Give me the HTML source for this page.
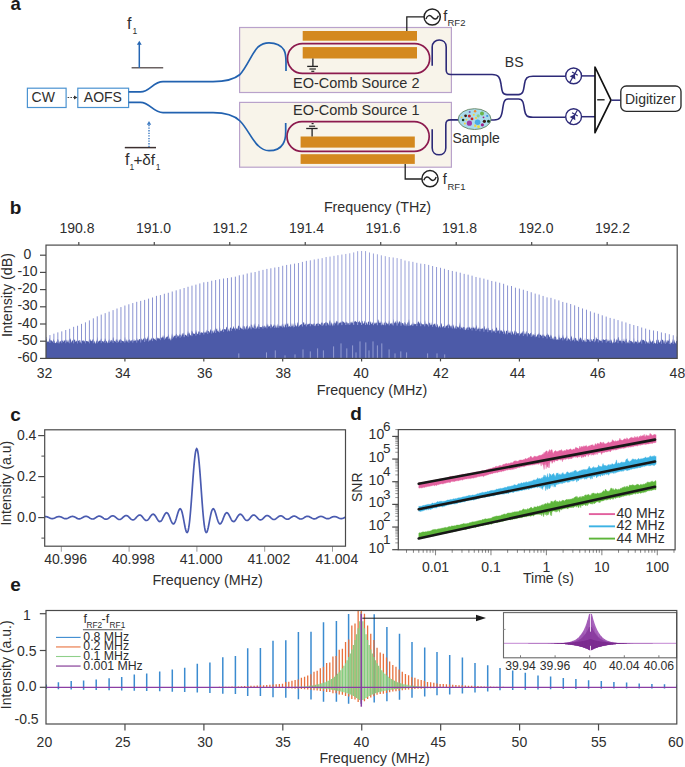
<!DOCTYPE html>
<html><head><meta charset="utf-8"><style>
html,body{margin:0;padding:0;background:#fff;}
svg{display:block;font-family:"Liberation Sans", sans-serif;}
</style></head><body>
<svg width="685" height="767" viewBox="0 0 685 767">
<rect width="685" height="767" fill="#fff"/>
<text x="10.4" y="9.8" font-size="18.5" font-weight="bold" fill="#1a1a1a">a</text>
<text x="127" y="28.8" font-size="16" fill="#2e2e2e">f</text>
<text x="132.6" y="33.9" font-size="8.5" fill="#2e2e2e">1</text>
<line x1="131.6" y1="67.8" x2="163.2" y2="67.8" stroke="#6b6262" stroke-width="1.6"/>
<line x1="139.3" y1="67.8" x2="139.3" y2="44" stroke="#2566b3" stroke-width="1.5"/>
<path d="M136.9,44.8 L139.3,40.8 L141.7,44.8 Z" fill="#2566b3"/>
<line x1="124.8" y1="147.6" x2="156" y2="147.6" stroke="#3c3030" stroke-width="1.5"/>
<line x1="149" y1="147" x2="149" y2="124" stroke="#3a78c0" stroke-width="1.4" stroke-dasharray="1.3,1.3"/>
<path d="M146.8,124.8 L149,120.9 L151.2,124.8 Z" fill="#3a78c0"/>
<text x="125" y="165" font-size="16" fill="#2e2e2e">f</text>
<text x="129.6" y="170.4" font-size="8.5" fill="#2e2e2e">1</text>
<text x="133.4" y="165" font-size="15.3" fill="#2e2e2e">+&#948;f</text>
<text x="155.7" y="170.4" font-size="8.5" fill="#2e2e2e">1</text>
<rect x="27.4" y="88.2" width="38.7" height="19.3" fill="none" stroke="#4b93d1" stroke-width="1.2"/>
<rect x="77.8" y="88.2" width="50.8" height="19.3" fill="none" stroke="#4b93d1" stroke-width="1.2"/>
<text x="31.6" y="102.3" font-size="14" fill="#2e2e2e">CW</text>
<text x="83.8" y="102.3" font-size="14" fill="#2e2e2e">AOFS</text>
<line x1="67.6" y1="97.5" x2="74.5" y2="97.5" stroke="#444" stroke-width="1.0" stroke-dasharray="1.6,1.2"/>
<path d="M74.0,95.6 L77.4,97.5 L74.0,99.4 Z" fill="#333"/>
<rect x="239.6" y="27.5" width="211.8" height="65" fill="#f8f4ea" stroke="#b9a2cb" stroke-width="1.2"/>
<rect x="239.6" y="102.4" width="211.8" height="64.8" fill="#f8f4ea" stroke="#b9a2cb" stroke-width="1.2"/>
<path d="M128.6,91.9 L140.5,91.9 C150,91.9 153,81.6 163,81.6 L213,81.6 C226,81.6 234,79.5 240,74.5 C247,67 252,53 258,47 C262,43.5 265,42.8 269,42.8 C277,42.8 281,45 284,50 C286,54 286,58 286,62 L286,71" fill="none" stroke="#2262b0" stroke-width="1.7"/>
<path d="M128.6,102.4 L140.5,102.4 C150,102.4 153,112.6 163,112.6 L213,112.6 C226,112.6 234,115 240,121 C247,128 252,140 258,145.5 C262,149.5 265,150.7 269,150.7 C276,150.7 280,149 283,144 C285.5,140 285.7,136 285.7,132 L285.7,123" fill="none" stroke="#2262b0" stroke-width="1.7"/>
<rect x="302.7" y="31.0" width="114.3" height="9.7" fill="#d4891f"/>
<rect x="302.7" y="47.1" width="114.3" height="11.4" fill="#d4891f"/>
<rect x="300.6" y="136.5" width="114.2" height="11.1" fill="#d4891f"/>
<rect x="300.6" y="154.2" width="114.2" height="9.7" fill="#d4891f"/>
<rect x="287.5" y="43.6" width="142.2" height="29.8" rx="14.9" fill="none" stroke="#8c1a4e" stroke-width="1.7"/>
<rect x="287.0" y="121.6" width="142.2" height="29.8" rx="14.9" fill="none" stroke="#8c1a4e" stroke-width="1.7"/>
<line x1="312.9" y1="58.5" x2="312.9" y2="66.4" stroke="#222" stroke-width="1.3"/>
<line x1="307.2" y1="66.4" x2="318" y2="66.4" stroke="#222" stroke-width="1.3"/>
<line x1="309.4" y1="69" x2="315.9" y2="69" stroke="#222" stroke-width="1.2"/>
<line x1="311.3" y1="71.3" x2="314.3" y2="71.3" stroke="#222" stroke-width="1.2"/>
<line x1="312.1" y1="128.5" x2="312.1" y2="136.5" stroke="#222" stroke-width="1.3"/>
<line x1="306.2" y1="128.5" x2="317.6" y2="128.5" stroke="#222" stroke-width="1.3"/>
<line x1="309.1" y1="126.2" x2="315.1" y2="126.2" stroke="#222" stroke-width="1.2"/>
<line x1="311.6" y1="123.6" x2="313.6" y2="123.6" stroke="#222" stroke-width="1.2"/>
<text x="293" y="88.3" font-size="14.5" fill="#2e2e2e">EO-Comb Source 2</text>
<text x="293" y="114.8" font-size="14.5" fill="#2e2e2e">EO-Comb Source 1</text>
<path d="M406.8,31 L406.8,16.8 L424,16.8" fill="none" stroke="#222" stroke-width="1.3"/>
<circle cx="432.2" cy="17.0" r="8.1" fill="none" stroke="#222" stroke-width="1.5"/>
<path d="M426.0,18.9 C427.4,15.0 430.0,14.6 432.2,17.3 C434.4,20.0 437.0,19.6 438.4,15.7" fill="none" stroke="#222" stroke-width="1.4"/>
<text x="443.3" y="20.8" font-size="14.5" fill="#2e2e2e">f</text>
<text x="447.5" y="26.3" font-size="9.5" fill="#2e2e2e">RF2</text>
<path d="M405.2,164 L405.2,179.0 L421.8,179.0" fill="none" stroke="#222" stroke-width="1.3"/>
<circle cx="430.0" cy="178.7" r="8.1" fill="none" stroke="#222" stroke-width="1.5"/>
<path d="M423.8,180.3 C425.2,176.4 427.8,176.0 430.0,178.7 C432.2,181.4 434.8,181.0 436.2,177.1" fill="none" stroke="#222" stroke-width="1.4"/>
<text x="442.8" y="183.6" font-size="14.5" fill="#2e2e2e">f</text>
<text x="447.5" y="190.4" font-size="9.5" fill="#2e2e2e">RF1</text>
<path d="M432.2,65.7 L432.2,47 C432.2,42.5 435.5,40 439.2,40 C443,40 446.2,42.5 446.2,47 L446.2,70 C446.2,73.5 447.5,74.5 451,74.5 L492,74.5 C499,74.5 500,78 501,84 C502,91 502,94.6 507,94.6 L518.5,94.6 C523.5,94.6 523.5,90 524.5,84 C525.5,78 527,76.2 533,76.2 L565.6,76.2" fill="none" stroke="#2d2a78" stroke-width="1.6"/>
<path d="M432.2,129.2 L432.2,148 C432.2,152.5 435.5,154.8 439,154.8 C442.5,154.8 445.8,152.5 445.8,148 L445.8,125 C445.8,121 447,119.9 451,119.9 L459,119.9" fill="none" stroke="#2d2a78" stroke-width="1.6"/>
<path d="M491,120 L494,120 C500,120 501.5,117 502.5,110 C503.5,103 504,99 508,99 L518.5,99 C523,99 523.5,103 524.5,110 C525.5,116 527,117.2 533,117.2 L565.6,117.2" fill="none" stroke="#2d2a78" stroke-width="1.6"/>
<ellipse cx="474.6" cy="119.1" rx="16.4" ry="10.4" fill="#aadcec" stroke="#6f8e70" stroke-width="1"/>
<circle cx="469.7" cy="112.1" r="1.0" fill="#7a55b0"/>
<circle cx="475.1" cy="111.2" r="1.2" fill="#f08a30"/>
<circle cx="482.0" cy="113.4" r="2.0" fill="#6ab54a"/>
<circle cx="465.6" cy="115.8" r="1.4" fill="#3a1a10"/>
<circle cx="469.4" cy="116.0" r="1.5" fill="#c8202a"/>
<circle cx="473.8" cy="114.7" r="1.0" fill="#f5d040"/>
<circle cx="478.2" cy="115.8" r="1.6" fill="#8fd08a"/>
<circle cx="461.6" cy="117.3" r="0.9" fill="#f5d040"/>
<circle cx="472.0" cy="118.9" r="1.4" fill="#c8202a"/>
<circle cx="476.0" cy="118.0" r="1.1" fill="#f5d040"/>
<circle cx="483.5" cy="117.3" r="0.9" fill="#a02080"/>
<circle cx="487.2" cy="116.0" r="1.1" fill="#3a90e0"/>
<circle cx="463.1" cy="120.0" r="1.3" fill="#153a20"/>
<circle cx="466.5" cy="119.7" r="0.9" fill="#f5d040"/>
<circle cx="469.4" cy="123.2" r="2.6" fill="#a03aa8"/>
<circle cx="477.6" cy="122.2" r="2.8" fill="#4aaae8"/>
<circle cx="484.4" cy="121.3" r="1.6" fill="#3a1a10"/>
<circle cx="488.5" cy="121.3" r="1.5" fill="#1a3a20"/>
<circle cx="464.9" cy="123.5" r="1.0" fill="#f5d040"/>
<circle cx="475.2" cy="125.7" r="1.2" fill="#f5d040"/>
<circle cx="478.5" cy="126.7" r="1.4" fill="#e8e040"/>
<circle cx="482.4" cy="124.8" r="1.6" fill="#a0208a"/>
<text x="452.4" y="143.3" font-size="14" fill="#2e2e2e">Sample</text>
<text x="504.8" y="66.9" font-size="14" fill="#2e2e2e">BS</text>
<circle cx="573.6" cy="75.9" r="7.9" fill="#fff" stroke="#2d2a78" stroke-width="1.4"/>
<g transform="translate(573.6,75.9) rotate(30)">
<line x1="0" y1="-7.5" x2="0" y2="7.5" stroke="#2d2a78" stroke-width="1.2"/>
<path d="M-3.3,2.2 L3.3,2.2 L0,-2.6 Z" fill="#2d2a78"/>
<line x1="-3.3" y1="-2.6" x2="3.3" y2="-2.6" stroke="#2d2a78" stroke-width="1.2"/>
</g>
<line x1="581.5" y1="75.9" x2="595" y2="75.9" stroke="#2d2a78" stroke-width="1.5"/>
<circle cx="573.6" cy="116.7" r="7.9" fill="#fff" stroke="#2d2a78" stroke-width="1.4"/>
<g transform="translate(573.6,116.7) rotate(30)">
<line x1="0" y1="-7.5" x2="0" y2="7.5" stroke="#2d2a78" stroke-width="1.2"/>
<path d="M-3.3,2.2 L3.3,2.2 L0,-2.6 Z" fill="#2d2a78"/>
<line x1="-3.3" y1="-2.6" x2="3.3" y2="-2.6" stroke="#2d2a78" stroke-width="1.2"/>
</g>
<line x1="581.5" y1="116.7" x2="595" y2="116.7" stroke="#2d2a78" stroke-width="1.5"/>
<path d="M595,67 L611,100.2 L595,132.7 Z" fill="#fff" stroke="#111" stroke-width="1.7" stroke-linejoin="round"/>
<line x1="597.2" y1="99.8" x2="604.6" y2="99.8" stroke="#111" stroke-width="1.3"/>
<line x1="611.5" y1="100.2" x2="620.5" y2="100.2" stroke="#2d2a78" stroke-width="1.5"/>
<rect x="620.8" y="86.0" width="60.2" height="25.4" rx="5.5" fill="#fff" stroke="#2a2a2a" stroke-width="1.35"/>
<text x="625" y="104.1" font-size="14" fill="#2e2e2e">Digitizer</text>
<text x="9.7" y="214.4" font-size="19" font-weight="bold" fill="#1a1a1a">b</text>
<text x="377.5" y="212.2" font-size="14.3" text-anchor="middle" fill="#2e2e2e">Frequency (THz)</text>
<text x="372" y="395.4" font-size="14.3" text-anchor="middle" fill="#2e2e2e">Frequency (MHz)</text>
<text x="77" y="233.4" font-size="14" text-anchor="middle" fill="#2e2e2e">190.8</text>
<line x1="78.8" y1="245.1" x2="78.8" y2="241.9" stroke="#4a4a4a" stroke-width="1.2"/>
<text x="153.5" y="233.4" font-size="14" text-anchor="middle" fill="#2e2e2e">191.0</text>
<line x1="154.28" y1="245.1" x2="154.28" y2="241.9" stroke="#4a4a4a" stroke-width="1.2"/>
<text x="230" y="233.4" font-size="14" text-anchor="middle" fill="#2e2e2e">191.2</text>
<line x1="229.76" y1="245.1" x2="229.76" y2="241.9" stroke="#4a4a4a" stroke-width="1.2"/>
<text x="306.5" y="233.4" font-size="14" text-anchor="middle" fill="#2e2e2e">191.4</text>
<line x1="305.24" y1="245.1" x2="305.24" y2="241.9" stroke="#4a4a4a" stroke-width="1.2"/>
<text x="383" y="233.4" font-size="14" text-anchor="middle" fill="#2e2e2e">191.6</text>
<line x1="380.72" y1="245.1" x2="380.72" y2="241.9" stroke="#4a4a4a" stroke-width="1.2"/>
<text x="459.5" y="233.4" font-size="14" text-anchor="middle" fill="#2e2e2e">191.8</text>
<line x1="456.2" y1="245.1" x2="456.2" y2="241.9" stroke="#4a4a4a" stroke-width="1.2"/>
<text x="536" y="233.4" font-size="14" text-anchor="middle" fill="#2e2e2e">192.0</text>
<line x1="531.68" y1="245.1" x2="531.68" y2="241.9" stroke="#4a4a4a" stroke-width="1.2"/>
<text x="612.5" y="233.4" font-size="14" text-anchor="middle" fill="#2e2e2e">192.2</text>
<line x1="607.16" y1="245.1" x2="607.16" y2="241.9" stroke="#4a4a4a" stroke-width="1.2"/>
<text x="44.5" y="377.5" font-size="14" text-anchor="middle" fill="#2e2e2e">32</text>
<text x="122.7" y="377.5" font-size="14" text-anchor="middle" fill="#2e2e2e">34</text>
<line x1="124.9" y1="358.4" x2="124.9" y2="361.4" stroke="#4a4a4a" stroke-width="1.2"/>
<text x="204.8" y="377.5" font-size="14" text-anchor="middle" fill="#2e2e2e">36</text>
<line x1="203.8" y1="358.4" x2="203.8" y2="361.4" stroke="#4a4a4a" stroke-width="1.2"/>
<text x="283.2" y="377.5" font-size="14" text-anchor="middle" fill="#2e2e2e">38</text>
<line x1="282.7" y1="358.4" x2="282.7" y2="361.4" stroke="#4a4a4a" stroke-width="1.2"/>
<text x="361" y="377.5" font-size="14" text-anchor="middle" fill="#2e2e2e">40</text>
<line x1="361.6" y1="358.4" x2="361.6" y2="361.4" stroke="#4a4a4a" stroke-width="1.2"/>
<text x="440.9" y="377.5" font-size="14" text-anchor="middle" fill="#2e2e2e">42</text>
<line x1="440.5" y1="358.4" x2="440.5" y2="361.4" stroke="#4a4a4a" stroke-width="1.2"/>
<text x="517.6" y="377.5" font-size="14" text-anchor="middle" fill="#2e2e2e">44</text>
<line x1="519.4" y1="358.4" x2="519.4" y2="361.4" stroke="#4a4a4a" stroke-width="1.2"/>
<text x="597.8" y="377.5" font-size="14" text-anchor="middle" fill="#2e2e2e">46</text>
<line x1="598.3" y1="358.4" x2="598.3" y2="361.4" stroke="#4a4a4a" stroke-width="1.2"/>
<text x="677.4" y="377.5" font-size="14" text-anchor="middle" fill="#2e2e2e">48</text>
<line x1="40" y1="255.2" x2="46" y2="255.2" stroke="#4a4a4a" stroke-width="1.2"/>
<text x="27.5" y="258.8" font-size="14" text-anchor="middle" fill="#2e2e2e">0</text>
<line x1="40" y1="272.4" x2="46" y2="272.4" stroke="#4a4a4a" stroke-width="1.2"/>
<text x="27.5" y="276" font-size="14" text-anchor="middle" fill="#2e2e2e">-10</text>
<line x1="40" y1="289.6" x2="46" y2="289.6" stroke="#4a4a4a" stroke-width="1.2"/>
<text x="27.5" y="293.2" font-size="14" text-anchor="middle" fill="#2e2e2e">-20</text>
<line x1="40" y1="306.8" x2="46" y2="306.8" stroke="#4a4a4a" stroke-width="1.2"/>
<text x="27.5" y="310.4" font-size="14" text-anchor="middle" fill="#2e2e2e">-30</text>
<line x1="40" y1="324" x2="46" y2="324" stroke="#4a4a4a" stroke-width="1.2"/>
<text x="27.5" y="327.6" font-size="14" text-anchor="middle" fill="#2e2e2e">-40</text>
<line x1="40" y1="341.2" x2="46" y2="341.2" stroke="#4a4a4a" stroke-width="1.2"/>
<text x="27.5" y="344.8" font-size="14" text-anchor="middle" fill="#2e2e2e">-50</text>
<line x1="40" y1="358.4" x2="46" y2="358.4" stroke="#4a4a4a" stroke-width="1.2"/>
<text x="27.5" y="362" font-size="14" text-anchor="middle" fill="#2e2e2e">-60</text>
<text transform="translate(12.2,295.0) rotate(-90)" font-size="14.3" text-anchor="middle" fill="#2e2e2e">Intensity (dB)</text>
<clipPath id="cb"><rect x="46.0" y="245.1" width="631.2" height="113.3"/></clipPath>
<g clip-path="url(#cb)">
<polygon points="46,360.4 46,338.45 46.5,339.35 47,340.78 47.5,341.95 48,341.57 48.5,342.07 49,340.32 49.5,337.95 50,339.33 50.5,340.69 51,339.91 51.5,340.43 52,340.9 52.5,342.01 53,340.44 53.5,338.73 54,340.66 54.5,340.64 55,343.1 55.5,342.64 56,343.45 56.5,341.14 57,342.03 57.5,339.21 58,338.94 58.5,340.43 59,344 59.5,341.76 60,341.18 60.5,340.72 61,342.36 61.5,340.11 62,340.61 62.5,341.37 63,339.49 63.5,342.19 64,341.2 64.5,339.74 65,341.13 65.5,339.56 66,339.41 66.5,340.38 67,342.54 67.5,341.13 68,339.44 68.5,342.9 69,339.25 69.5,339.18 70,340.57 70.5,338.02 71,340.07 71.5,342.85 72,341.13 72.5,340.18 73,340.58 73.5,338.35 74,340.01 74.5,339.86 75,339.3 75.5,342.26 76,341 76.5,341.53 77,340.14 77.5,340.66 78,340.85 78.5,341.1 79,340.09 79.5,339.99 80,343 80.5,341.95 81,339.4 81.5,341.53 82,340.8 82.5,341.01 83,339.63 83.5,340.54 84,341.63 84.5,341.29 85,340.4 85.5,337.09 86,340.8 86.5,341.27 87,340.76 87.5,341.51 88,341.37 88.5,342.13 89,339.92 89.5,339.74 90,338.78 90.5,340.03 91,341.22 91.5,340.41 92,341.47 92.5,339.22 93,339.74 93.5,338.52 94,341.97 94.5,340.42 95,343.33 95.5,343.82 96,341.33 96.5,341.61 97,339.33 97.5,336.47 98,341.41 98.5,341.65 99,340.86 99.5,340.48 100,341.07 100.5,340.58 101,338.44 101.5,338.77 102,341.68 102.5,340.93 103,341.04 103.5,342.4 104,340.4 104.5,341.29 105,337.89 105.5,339.27 106,340.25 106.5,341.57 107,341.2 107.5,343.54 108,342.1 108.5,339.57 109,341.68 109.5,338.49 110,342.62 110.5,339.81 111,342.1 111.5,339.87 112,340.36 112.5,341.87 113,337.09 113.5,337.78 114,340.46 114.5,341.12 115,341.18 115.5,342.05 116,339 116.5,340.44 117,338.53 117.5,340.71 118,341.18 118.5,342.39 119,339.3 119.5,340.9 120,339.06 120.5,339.56 121,339.42 121.5,340.15 122,341.09 122.5,340.7 123,341.33 123.5,341 124,341.97 124.5,340.45 125,336.51 125.5,340.63 126,341.72 126.5,340.24 127,338.95 127.5,342.4 128,340.34 128.5,340.05 129,341.02 129.5,338.84 130,340.38 130.5,340.55 131,341.66 131.5,339.84 132,340.64 132.5,339.23 133,340.27 133.5,341.38 134,338.61 134.5,341.26 135,340.24 135.5,340.38 136,340.38 136.5,339.51 137,338.11 137.5,340.22 138,340.51 138.5,340.55 139,339.02 139.5,339.36 140,339.19 140.5,339.33 141,340.67 141.5,338.46 142,338.84 142.5,340.45 143,339.43 143.5,338.75 144,338.04 144.5,336.77 145,339.12 145.5,337.32 146,341.25 146.5,338.7 147,338.99 147.5,338.1 148,336.12 148.5,335.4 149,339.64 149.5,341.03 150,338.14 150.5,340.65 151,339.13 151.5,337.61 152,340.09 152.5,339.37 153,337.46 153.5,338.37 154,339.06 154.5,338.82 155,339.72 155.5,340.11 156,337.6 156.5,337.51 157,339.53 157.5,337.35 158,338.37 158.5,337.85 159,339.37 159.5,338.47 160,338.08 160.5,337.09 161,336.77 161.5,338.58 162,337.37 162.5,337.44 163,334.97 163.5,338.87 164,335.04 164.5,335.74 165,336.64 165.5,339 166,337.97 166.5,336.41 167,337.17 167.5,336.42 168,335.96 168.5,333.81 169,336.25 169.5,339.53 170,337.81 170.5,339.41 171,340.73 171.5,336.66 172,333.24 172.5,334.89 173,337.33 173.5,337.47 174,335 174.5,336.16 175,335.95 175.5,335.48 176,334.29 176.5,333.57 177,334.69 177.5,335.53 178,337.34 178.5,335.2 179,336.37 179.5,333.44 180,335.34 180.5,334.42 181,334.99 181.5,337.05 182,333.29 182.5,333.44 183,335.52 183.5,333.24 184,332.51 184.5,337.19 185,334.18 185.5,334.92 186,334.88 186.5,336.15 187,334.68 187.5,333.83 188,330.76 188.5,332.96 189,334.04 189.5,332.37 190,335.19 190.5,334.7 191,336.09 191.5,330.94 192,330.56 192.5,331.78 193,332.69 193.5,333.69 194,333.64 194.5,333.96 195,333.42 195.5,332.25 196,329.5 196.5,331.8 197,333.14 197.5,334.07 198,334.19 198.5,331 199,331.91 199.5,331.58 200,331.52 200.5,333.51 201,332.67 201.5,331.69 202,333.32 202.5,332.79 203,332.24 203.5,330.87 204,332.75 204.5,331.93 205,333.19 205.5,331.17 206,333.25 206.5,331.18 207,329.39 207.5,330.75 208,331.08 208.5,330.92 209,331.6 209.5,333.08 210,331.11 210.5,328.75 211,331.07 211.5,329.93 212,331.25 212.5,330.29 213,332.71 213.5,332.71 214,329.5 214.5,331.94 215,328.73 215.5,327.01 216,329.16 216.5,329.52 217,328.08 217.5,331.02 218,331.35 218.5,331.93 219,329.45 219.5,326.37 220,327.84 220.5,330.98 221,331.21 221.5,330.9 222,329.65 222.5,329.87 223,328.6 223.5,327.18 224,329.03 224.5,329.34 225,329.33 225.5,329.84 226,328.81 226.5,326.6 227,327.47 227.5,326.98 228,330.39 228.5,328.31 229,331.61 229.5,331 230,327.8 230.5,327.51 231,327.79 231.5,328.9 232,328.26 232.5,329.2 233,327.77 233.5,325.72 234,328.05 234.5,328.83 235,328.46 235.5,326.4 236,327.56 236.5,329.32 237,327.93 237.5,329.56 238,326.33 238.5,325.9 239,324.97 239.5,326.67 240,326.37 240.5,327.71 241,328.3 241.5,328.23 242,329.18 242.5,328.84 243,324.98 243.5,326.23 244,326.61 244.5,326.07 245,329.84 245.5,328.56 246,327.01 246.5,326.17 247,326.13 247.5,324.57 248,326.47 248.5,328.74 249,328.6 249.5,326.27 250,326.37 250.5,328.82 251,323.53 251.5,325.02 252,324.85 252.5,327.49 253,327.58 253.5,328.51 254,323.43 254.5,326.29 255,322.83 255.5,326.53 256,326.21 256.5,328.96 257,327.49 257.5,325.54 258,328.05 258.5,324.36 259,324.05 259.5,326.92 260,326.91 260.5,327.21 261,326.85 261.5,327.25 262,327.22 262.5,325.81 263,325.57 263.5,327.12 264,326.16 264.5,325.28 265,328.53 265.5,326.3 266,326.71 266.5,326.35 267,323.1 267.5,326 268,323.99 268.5,327.23 269,325.81 269.5,326.35 270,326.56 270.5,323.99 271,324.34 271.5,324.42 272,325.81 272.5,327.43 273,326.2 273.5,325.73 274,324.07 274.5,325.58 275,324.13 275.5,327.28 276,324.73 276.5,327.23 277,328.16 277.5,325.61 278,323.58 278.5,326.02 279,325.4 279.5,325.87 280,326.85 280.5,325.14 281,326.63 281.5,326.2 282,323.96 282.5,324.66 283,323.35 283.5,326.02 284,326.77 284.5,327.8 285,322.94 285.5,325.42 286,324.09 286.5,323.35 287,323.61 287.5,324.54 288,322.56 288.5,326.57 289,327.1 289.5,326.04 290,325.82 290.5,321.96 291,322.65 291.5,325.69 292,326.63 292.5,325.48 293,323.05 293.5,328.1 294,323.1 294.5,323.92 295,322.26 295.5,325.68 296,325.01 296.5,326.76 297,325.85 297.5,322.4 298,322.4 298.5,322.78 299,324.6 299.5,326.56 300,324.96 300.5,324.63 301,324.47 301.5,324.06 302,324.62 302.5,322.35 303,323.47 303.5,322.36 304,321.93 304.5,324.62 305,325.18 305.5,323.83 306,323.7 306.5,323.25 307,323.44 307.5,325.28 308,323.44 308.5,324.42 309,323.7 309.5,323.78 310,323.6 310.5,323.54 311,323.62 311.5,324.55 312,323.81 312.5,324.13 313,325.6 313.5,323.24 314,324.12 314.5,323.12 315,323.63 315.5,326.42 316,323.88 316.5,323.77 317,323.87 317.5,323.67 318,322.59 318.5,323.58 319,323.54 319.5,324.36 320,323.76 320.5,325.36 321,323.18 321.5,322.71 322,322 322.5,322.88 323,322.41 323.5,325.69 324,323.17 324.5,323.33 325,322.93 325.5,322.18 326,322.36 326.5,322.62 327,322.22 327.5,322.88 328,323.38 328.5,325.43 329,322.42 329.5,320.94 330,319.91 330.5,321.96 331,324.97 331.5,322.12 332,323.71 332.5,326.58 333,322.43 333.5,324.13 334,322.66 334.5,323.05 335,321.24 335.5,323.7 336,323.03 336.5,320.89 337,320.67 337.5,322.1 338,321.34 338.5,323.81 339,323.69 339.5,322.57 340,322.71 340.5,322.83 341,321.24 341.5,322.71 342,321.13 342.5,321.19 343,321.95 343.5,321.62 344,322.55 344.5,323.2 345,321.86 345.5,322.74 346,323.19 346.5,321.34 347,322.68 347.5,322.49 348,325.1 348.5,323.1 349,322.89 349.5,322.3 350,324 350.5,322.48 351,321.41 351.5,322.35 352,323.62 352.5,322.59 353,321.07 353.5,324.63 354,321.44 354.5,321.47 355,321.78 355.5,320.72 356,321.41 356.5,322.17 357,321.63 357.5,319.95 358,322.15 358.5,322.34 359,321.57 359.5,320.46 360,323.1 360.5,322.64 361,321.73 361.5,319.13 362,321.66 362.5,320.51 363,324.08 363.5,323.3 364,323.18 364.5,321.57 365,320.59 365.5,322.69 366,322.97 366.5,322.08 367,323.76 367.5,325.09 368,321.61 368.5,321.94 369,321.26 369.5,321.29 370,320.62 370.5,322.94 371,321.58 371.5,324.35 372,324.07 372.5,322.31 373,322.74 373.5,320.03 374,321.76 374.5,323.92 375,322.98 375.5,323.66 376,321.8 376.5,323.38 377,322.34 377.5,319.56 378,319.35 378.5,320.25 379,323.07 379.5,322.96 380,321.02 380.5,322.71 381,322.97 381.5,321.18 382,321.79 382.5,324 383,325.35 383.5,325.12 384,322.16 384.5,323.51 385,321.81 385.5,321.26 386,321.7 386.5,323.45 387,322.66 387.5,324.45 388,323.49 388.5,323.83 389,320.08 389.5,321.76 390,323.58 390.5,323.57 391,323.67 391.5,322.45 392,325.12 392.5,323.86 393,321.97 393.5,318.69 394,321.57 394.5,323.41 395,322.6 395.5,320.78 396,323.43 396.5,323.01 397,319.87 397.5,321.54 398,322.11 398.5,324.06 399,321.16 399.5,321.31 400,322.46 400.5,321.67 401,323.98 401.5,321.58 402,323.39 402.5,322.99 403,322.89 403.5,324.04 404,325.42 404.5,322.09 405,322.28 405.5,323.04 406,324.09 406.5,324.13 407,326.85 407.5,322.11 408,322.97 408.5,321.14 409,319.06 409.5,322.79 410,325.79 410.5,324.97 411,325.52 411.5,324.4 412,323.24 412.5,325.15 413,321.46 413.5,324.97 414,323.24 414.5,324.1 415,324.46 415.5,323.92 416,324.08 416.5,323.34 417,324.33 417.5,323.25 418,321.4 418.5,321.53 419,322.44 419.5,322.99 420,324.3 420.5,320.67 421,322.49 421.5,323.49 422,324.31 422.5,324.1 423,324.79 423.5,324.07 424,324.86 424.5,322.98 425,319.73 425.5,323.67 426,324.39 426.5,323.66 427,323.4 427.5,325.47 428,323.76 428.5,321.31 429,322.62 429.5,323.69 430,322.34 430.5,325.5 431,324.47 431.5,324.97 432,321.83 432.5,325.19 433,324.29 433.5,324.94 434,323.86 434.5,324.21 435,323.1 435.5,326.63 436,323.03 436.5,323.23 437,324.74 437.5,323.96 438,326.28 438.5,328.03 439,325.69 439.5,326.82 440,325.08 440.5,322.53 441,323.93 441.5,323.01 442,325.73 442.5,327.67 443,326.5 443.5,326.36 444,326.06 444.5,322.98 445,325.61 445.5,328.01 446,324.94 446.5,326.16 447,325.38 447.5,325.32 448,323.9 448.5,324 449,323.62 449.5,325.3 450,325.71 450.5,325.82 451,328.03 451.5,325.95 452,325.28 452.5,324.29 453,327.39 453.5,324.13 454,326.45 454.5,328.23 455,328.66 455.5,326.38 456,325.27 456.5,325.98 457,325.94 457.5,327.45 458,326.24 458.5,327.93 459,326.81 459.5,325.02 460,322.05 460.5,326.84 461,327.1 461.5,328.13 462,326.34 462.5,328.85 463,327.75 463.5,326.66 464,326.91 464.5,327.34 465,327.62 465.5,330.22 466,329.67 466.5,328.31 467,327.32 467.5,327.21 468,328.2 468.5,327.25 469,326.47 469.5,327.26 470,328.36 470.5,329.32 471,327.08 471.5,328.06 472,327.69 472.5,328.23 473,326.12 473.5,328.15 474,327.21 474.5,329.2 475,327.06 475.5,328.42 476,326.63 476.5,324.52 477,327.48 477.5,329.54 478,329.24 478.5,328.56 479,327.08 479.5,328.6 480,329.25 480.5,328.62 481,328.94 481.5,329.21 482,327.85 482.5,328.97 483,327.96 483.5,329.71 484,326.49 484.5,326.08 485,328.44 485.5,329.48 486,329.76 486.5,327.47 487,330.58 487.5,328.74 488,327.6 488.5,328.34 489,330.48 489.5,329.87 490,330.73 490.5,330.01 491,329.91 491.5,330.37 492,328.8 492.5,328.68 493,331.63 493.5,331.03 494,329.92 494.5,331.94 495,329.86 495.5,330.56 496,327.88 496.5,327.33 497,328.25 497.5,331.45 498,330.23 498.5,330.79 499,330.32 499.5,327.48 500,331.61 500.5,329.45 501,331.39 501.5,329.8 502,331.35 502.5,332.2 503,330.44 503.5,328.8 504,330.41 504.5,330.68 505,332.46 505.5,334.82 506,330.83 506.5,330.81 507,330.94 507.5,329.92 508,329.67 508.5,332.39 509,333.16 509.5,332.76 510,330.86 510.5,333.88 511,329.93 511.5,331.08 512,332.96 512.5,330.66 513,332.84 513.5,334.63 514,333.26 514.5,331.26 515,330.26 515.5,331.36 516,331.54 516.5,331.85 517,334 517.5,332.91 518,333.24 518.5,333.53 519,332.75 519.5,331.32 520,332.55 520.5,333.98 521,334.17 521.5,332.34 522,333.32 522.5,332.06 523,330.87 523.5,331.24 524,330.18 524.5,334.79 525,333.04 525.5,334.6 526,331.59 526.5,331.37 527,335.25 527.5,333.83 528,332.76 528.5,333.18 529,333.58 529.5,334.69 530,333.79 530.5,333.08 531,333.12 531.5,331.83 532,337.04 532.5,333.85 533,336.32 533.5,333.77 534,335.06 534.5,335.42 535,332.82 535.5,334.89 536,335.8 536.5,337.16 537,335.47 537.5,334.77 538,333.83 538.5,334.8 539,332.23 539.5,334.24 540,335.24 540.5,334.86 541,334.53 541.5,336.27 542,335.86 542.5,335.18 543,333.76 543.5,336 544,334.31 544.5,336.61 545,335.77 545.5,337.32 546,335.49 546.5,334.83 547,334.68 547.5,332.79 548,335.68 548.5,334.29 549,335.6 549.5,337.54 550,336.85 550.5,335.13 551,334.6 551.5,335.89 552,337.04 552.5,339.4 553,337.57 553.5,339.97 554,336.28 554.5,336.98 555,336.24 555.5,336.79 556,336.82 556.5,339.4 557,339.97 557.5,338.91 558,339.79 558.5,337.63 559,333.88 559.5,338.42 560,336.84 560.5,339.81 561,337.77 561.5,338.37 562,337.62 562.5,335.98 563,334.28 563.5,337.34 564,338.02 564.5,339.78 565,337.84 565.5,338.7 566,336.86 566.5,337.1 567,334.9 567.5,340.69 568,339.06 568.5,337.87 569,339.48 569.5,339.82 570,338.65 570.5,339.1 571,337.51 571.5,335.4 572,337.55 572.5,340.73 573,340.37 573.5,339.48 574,337.1 574.5,338.39 575,338.84 575.5,337.64 576,338.12 576.5,339.96 577,340.83 577.5,341.07 578,339.37 578.5,340.2 579,337.27 579.5,339.82 580,338.81 580.5,337.26 581,338.01 581.5,340.67 582,337.42 582.5,335.82 583,339.47 583.5,340.46 584,339.77 584.5,341.91 585,337.76 585.5,342.4 586,340.03 586.5,337.87 587,339.06 587.5,339.23 588,339.47 588.5,340.27 589,338.33 589.5,342.16 590,338.66 590.5,338.79 591,338.86 591.5,339.38 592,341.19 592.5,340.96 593,338.9 593.5,339.05 594,339.58 594.5,335.56 595,336.3 595.5,341.76 596,339.81 596.5,337.05 597,339.04 597.5,339.32 598,339.01 598.5,339.21 599,339.8 599.5,340.79 600,339.43 600.5,340.94 601,340.75 601.5,341.25 602,338.84 602.5,339.97 603,340 603.5,338.95 604,340.1 604.5,339.92 605,339.84 605.5,339.71 606,338.96 606.5,339.52 607,339.03 607.5,341.89 608,339.03 608.5,340.67 609,341.39 609.5,340.5 610,339.68 610.5,339.2 611,341.17 611.5,339.22 612,341.95 612.5,343.78 613,341.48 613.5,342.53 614,338.86 614.5,338.32 615,339.63 615.5,342.62 616,342.11 616.5,338.7 617,340.25 617.5,340.01 618,337.43 618.5,336.8 619,339.02 619.5,340.91 620,340.85 620.5,340.32 621,341.53 621.5,341.4 622,338.86 622.5,341.38 623,340.91 623.5,341.07 624,338.33 624.5,342.24 625,340.9 625.5,340.2 626,338.59 626.5,338.97 627,341.57 627.5,342.34 628,343.51 628.5,342.36 629,340.05 629.5,339.87 630,340.69 630.5,340.94 631,341 631.5,340.71 632,342.2 632.5,341.51 633,343.08 633.5,341.35 634,337.51 634.5,343.43 635,341.58 635.5,341.16 636,341.96 636.5,342.25 637,340.8 637.5,339.8 638,339.9 638.5,343.16 639,341.44 639.5,342.63 640,342.22 640.5,340.94 641,339.87 641.5,338.55 642,340.63 642.5,339.68 643,339.83 643.5,340.14 644,339.75 644.5,341.43 645,340.9 645.5,338.55 646,341.94 646.5,340.73 647,342.13 647.5,342.16 648,343.83 648.5,342.41 649,340.68 649.5,338.36 650,339.07 650.5,341.22 651,341.78 651.5,342.83 652,341.09 652.5,341.59 653,339.83 653.5,337.13 654,340.56 654.5,343.17 655,342.74 655.5,343.72 656,343.19 656.5,339.59 657,340.28 657.5,341.39 658,339.84 658.5,339.72 659,342.18 659.5,342.75 660,342.11 660.5,340.91 661,339.7 661.5,338.14 662,339.27 662.5,339.93 663,340.04 663.5,341.07 664,343.67 664.5,341.44 665,340.06 665.5,340.39 666,339.81 666.5,342.03 667,343.08 667.5,340.1 668,340.86 668.5,340.98 669,339.21 669.5,338.74 670,340.68 670.5,344.84 671,342.84 671.5,342.59 672,343.01 672.5,341 673,338.79 673.5,340.94 674,342.72 674.5,339.16 675,342.63 675.5,343.63 676,341.45 676.5,340.69 677,341.16 677.5,339.49 677.2,360.4" fill="#4c5aa8"/>
<line x1="238.8" y1="358.4" x2="238.8" y2="353.4" stroke="#c4c9ec" stroke-width="0.6"/>
<line x1="266.5" y1="358.4" x2="266.5" y2="352.4" stroke="#c4c9ec" stroke-width="0.6"/>
<line x1="275.3" y1="358.4" x2="275.3" y2="350.4" stroke="#c4c9ec" stroke-width="0.6"/>
<line x1="303" y1="358.4" x2="303" y2="349.4" stroke="#c4c9ec" stroke-width="0.6"/>
<line x1="310.3" y1="358.4" x2="310.3" y2="351.4" stroke="#c4c9ec" stroke-width="0.6"/>
<line x1="317.6" y1="358.4" x2="317.6" y2="348.4" stroke="#c4c9ec" stroke-width="0.6"/>
<line x1="323.4" y1="358.4" x2="323.4" y2="350.4" stroke="#c4c9ec" stroke-width="0.6"/>
<line x1="333.6" y1="358.4" x2="333.6" y2="346.4" stroke="#c4c9ec" stroke-width="0.6"/>
<line x1="341" y1="358.4" x2="341" y2="343.4" stroke="#c4c9ec" stroke-width="0.6"/>
<line x1="346.8" y1="358.4" x2="346.8" y2="348.4" stroke="#c4c9ec" stroke-width="0.6"/>
<line x1="352.6" y1="358.4" x2="352.6" y2="345.4" stroke="#c4c9ec" stroke-width="0.6"/>
<line x1="360" y1="358.4" x2="360" y2="341.4" stroke="#c4c9ec" stroke-width="0.6"/>
<line x1="365.8" y1="358.4" x2="365.8" y2="342.4" stroke="#c4c9ec" stroke-width="0.6"/>
<line x1="373" y1="358.4" x2="373" y2="341.4" stroke="#c4c9ec" stroke-width="0.6"/>
<line x1="377.4" y1="358.4" x2="377.4" y2="345.4" stroke="#c4c9ec" stroke-width="0.6"/>
<line x1="381.8" y1="358.4" x2="381.8" y2="343.4" stroke="#c4c9ec" stroke-width="0.6"/>
<line x1="389.1" y1="358.4" x2="389.1" y2="349.4" stroke="#c4c9ec" stroke-width="0.6"/>
<line x1="400.8" y1="358.4" x2="400.8" y2="351.4" stroke="#c4c9ec" stroke-width="0.6"/>
<line x1="406.6" y1="358.4" x2="406.6" y2="352.4" stroke="#c4c9ec" stroke-width="0.6"/>
<line x1="427.6" y1="358.4" x2="427.6" y2="353.4" stroke="#c4c9ec" stroke-width="0.6"/>
<line x1="437" y1="358.4" x2="437" y2="353.4" stroke="#c4c9ec" stroke-width="0.6"/>
<line x1="444.7" y1="358.4" x2="444.7" y2="354.4" stroke="#c4c9ec" stroke-width="0.6"/>
<line x1="295" y1="358.4" x2="295" y2="354.4" stroke="#c4c9ec" stroke-width="0.6"/>
<line x1="285" y1="358.4" x2="285" y2="355.4" stroke="#c4c9ec" stroke-width="0.6"/>
<line x1="395" y1="358.4" x2="395" y2="353.4" stroke="#c4c9ec" stroke-width="0.6"/>
<line x1="356" y1="358.4" x2="356" y2="352.4" stroke="#c4c9ec" stroke-width="0.6"/>
<line x1="369" y1="358.4" x2="369" y2="350.4" stroke="#c4c9ec" stroke-width="0.6"/>
<line x1="46" y1="342.92" x2="46" y2="336.97" stroke="#8a93d2" stroke-width="1"/>
<line x1="49.95" y1="342.98" x2="49.95" y2="335.09" stroke="#8a93d2" stroke-width="1"/>
<line x1="53.89" y1="343.04" x2="53.89" y2="333.68" stroke="#8a93d2" stroke-width="1"/>
<line x1="57.83" y1="343.1" x2="57.83" y2="332.38" stroke="#8a93d2" stroke-width="1"/>
<line x1="61.78" y1="343.16" x2="61.78" y2="331.36" stroke="#8a93d2" stroke-width="1"/>
<line x1="65.72" y1="343.22" x2="65.72" y2="330.01" stroke="#8a93d2" stroke-width="1"/>
<line x1="69.67" y1="343.28" x2="69.67" y2="328.81" stroke="#8a93d2" stroke-width="1"/>
<line x1="73.62" y1="343.34" x2="73.62" y2="326.83" stroke="#8a93d2" stroke-width="1"/>
<line x1="77.56" y1="343.4" x2="77.56" y2="325.74" stroke="#8a93d2" stroke-width="1"/>
<line x1="81.5" y1="343.41" x2="81.5" y2="323.87" stroke="#8a93d2" stroke-width="1"/>
<line x1="85.45" y1="343.36" x2="85.45" y2="322.33" stroke="#8a93d2" stroke-width="1"/>
<line x1="89.4" y1="343.3" x2="89.4" y2="320.39" stroke="#8a93d2" stroke-width="1"/>
<line x1="93.34" y1="343.24" x2="93.34" y2="318.32" stroke="#8a93d2" stroke-width="1"/>
<line x1="97.28" y1="343.19" x2="97.28" y2="316.34" stroke="#8a93d2" stroke-width="1"/>
<line x1="101.23" y1="343.13" x2="101.23" y2="314.61" stroke="#8a93d2" stroke-width="1"/>
<line x1="105.18" y1="343.08" x2="105.18" y2="313.16" stroke="#8a93d2" stroke-width="1"/>
<line x1="109.12" y1="343.02" x2="109.12" y2="311.7" stroke="#8a93d2" stroke-width="1"/>
<line x1="113.07" y1="342.96" x2="113.07" y2="310.12" stroke="#8a93d2" stroke-width="1"/>
<line x1="117.01" y1="342.91" x2="117.01" y2="308.53" stroke="#8a93d2" stroke-width="1"/>
<line x1="120.95" y1="342.85" x2="120.95" y2="307.08" stroke="#8a93d2" stroke-width="1"/>
<line x1="124.9" y1="342.79" x2="124.9" y2="305.53" stroke="#8a93d2" stroke-width="1"/>
<line x1="128.85" y1="342.74" x2="128.85" y2="304.31" stroke="#8a93d2" stroke-width="1"/>
<line x1="132.79" y1="342.68" x2="132.79" y2="303.06" stroke="#8a93d2" stroke-width="1"/>
<line x1="136.73" y1="342.62" x2="136.73" y2="301.84" stroke="#8a93d2" stroke-width="1"/>
<line x1="140.68" y1="342.49" x2="140.68" y2="300.86" stroke="#8a93d2" stroke-width="1"/>
<line x1="144.62" y1="342.02" x2="144.62" y2="299.9" stroke="#8a93d2" stroke-width="1"/>
<line x1="148.57" y1="341.54" x2="148.57" y2="298.65" stroke="#8a93d2" stroke-width="1"/>
<line x1="152.52" y1="341.07" x2="152.52" y2="297.47" stroke="#8a93d2" stroke-width="1"/>
<line x1="156.46" y1="340.59" x2="156.46" y2="295.85" stroke="#8a93d2" stroke-width="1"/>
<line x1="160.4" y1="340.12" x2="160.4" y2="295.1" stroke="#8a93d2" stroke-width="1"/>
<line x1="164.35" y1="339.64" x2="164.35" y2="293.75" stroke="#8a93d2" stroke-width="1"/>
<line x1="168.3" y1="339.17" x2="168.3" y2="292.77" stroke="#8a93d2" stroke-width="1"/>
<line x1="172.24" y1="338.69" x2="172.24" y2="291.5" stroke="#8a93d2" stroke-width="1"/>
<line x1="176.18" y1="338.22" x2="176.18" y2="290.35" stroke="#8a93d2" stroke-width="1"/>
<line x1="180.13" y1="337.74" x2="180.13" y2="289.25" stroke="#8a93d2" stroke-width="1"/>
<line x1="184.08" y1="337.22" x2="184.08" y2="288" stroke="#8a93d2" stroke-width="1"/>
<line x1="188.02" y1="336.69" x2="188.02" y2="286.78" stroke="#8a93d2" stroke-width="1"/>
<line x1="191.97" y1="336.16" x2="191.97" y2="285.65" stroke="#8a93d2" stroke-width="1"/>
<line x1="195.91" y1="335.64" x2="195.91" y2="284.64" stroke="#8a93d2" stroke-width="1"/>
<line x1="199.85" y1="335.11" x2="199.85" y2="283.45" stroke="#8a93d2" stroke-width="1"/>
<line x1="203.8" y1="334.58" x2="203.8" y2="282.3" stroke="#8a93d2" stroke-width="1"/>
<line x1="207.75" y1="334.06" x2="207.75" y2="281.87" stroke="#8a93d2" stroke-width="1"/>
<line x1="211.69" y1="333.53" x2="211.69" y2="280.72" stroke="#8a93d2" stroke-width="1"/>
<line x1="215.63" y1="333" x2="215.63" y2="280.02" stroke="#8a93d2" stroke-width="1"/>
<line x1="219.58" y1="332.48" x2="219.58" y2="279.25" stroke="#8a93d2" stroke-width="1"/>
<line x1="223.53" y1="331.95" x2="223.53" y2="278.53" stroke="#8a93d2" stroke-width="1"/>
<line x1="227.47" y1="331.43" x2="227.47" y2="278.03" stroke="#8a93d2" stroke-width="1"/>
<line x1="231.42" y1="330.9" x2="231.42" y2="277.3" stroke="#8a93d2" stroke-width="1"/>
<line x1="235.36" y1="330.37" x2="235.36" y2="276.66" stroke="#8a93d2" stroke-width="1"/>
<line x1="239.3" y1="329.95" x2="239.3" y2="275.32" stroke="#8a93d2" stroke-width="1"/>
<line x1="243.25" y1="329.73" x2="243.25" y2="274.61" stroke="#8a93d2" stroke-width="1"/>
<line x1="247.2" y1="329.51" x2="247.2" y2="273.49" stroke="#8b94d2" stroke-width="1"/>
<line x1="251.14" y1="329.29" x2="251.14" y2="272.6" stroke="#8b94d2" stroke-width="1"/>
<line x1="255.08" y1="329.07" x2="255.08" y2="272.03" stroke="#8b94d2" stroke-width="1"/>
<line x1="259.03" y1="328.85" x2="259.03" y2="270.82" stroke="#8c94d2" stroke-width="1"/>
<line x1="262.98" y1="328.63" x2="262.98" y2="269.89" stroke="#8c95d3" stroke-width="1"/>
<line x1="266.92" y1="328.42" x2="266.92" y2="268.92" stroke="#8c95d3" stroke-width="1"/>
<line x1="270.87" y1="328.2" x2="270.87" y2="268.3" stroke="#8d95d3" stroke-width="1"/>
<line x1="274.81" y1="327.98" x2="274.81" y2="267.52" stroke="#8d96d3" stroke-width="1"/>
<line x1="278.75" y1="327.76" x2="278.75" y2="266.96" stroke="#8e96d3" stroke-width="1"/>
<line x1="282.7" y1="327.54" x2="282.7" y2="265.78" stroke="#8f97d4" stroke-width="1"/>
<line x1="286.65" y1="327.32" x2="286.65" y2="264.93" stroke="#8f98d4" stroke-width="1"/>
<line x1="290.59" y1="327.1" x2="290.59" y2="264.39" stroke="#9098d4" stroke-width="1"/>
<line x1="294.53" y1="326.88" x2="294.53" y2="263.63" stroke="#9199d5" stroke-width="1"/>
<line x1="298.48" y1="326.66" x2="298.48" y2="263.04" stroke="#929ad5" stroke-width="1"/>
<line x1="302.43" y1="326.5" x2="302.43" y2="261.9" stroke="#929bd6" stroke-width="1"/>
<line x1="306.37" y1="326.36" x2="306.37" y2="260.86" stroke="#939bd6" stroke-width="1"/>
<line x1="310.32" y1="326.23" x2="310.32" y2="260.34" stroke="#949cd6" stroke-width="1"/>
<line x1="314.26" y1="326.09" x2="314.26" y2="259.48" stroke="#959dd7" stroke-width="1"/>
<line x1="318.2" y1="325.95" x2="318.2" y2="258.78" stroke="#969ed7" stroke-width="1"/>
<line x1="322.15" y1="325.82" x2="322.15" y2="258.17" stroke="#979fd8" stroke-width="1"/>
<line x1="326.1" y1="325.68" x2="326.1" y2="257.03" stroke="#98a0d8" stroke-width="1"/>
<line x1="330.04" y1="325.55" x2="330.04" y2="256.57" stroke="#99a1d9" stroke-width="1"/>
<line x1="333.98" y1="325.41" x2="333.98" y2="255.83" stroke="#9aa1d9" stroke-width="1"/>
<line x1="337.93" y1="325.28" x2="337.93" y2="255.19" stroke="#9ba2d9" stroke-width="1"/>
<line x1="341.88" y1="325.14" x2="341.88" y2="254.54" stroke="#9ba3da" stroke-width="1"/>
<line x1="345.82" y1="325" x2="345.82" y2="253.95" stroke="#9ca3da" stroke-width="1"/>
<line x1="349.77" y1="324.87" x2="349.77" y2="253.29" stroke="#9da4da" stroke-width="1"/>
<line x1="353.71" y1="324.91" x2="353.71" y2="252.42" stroke="#9da4da" stroke-width="1"/>
<line x1="357.65" y1="324.96" x2="357.65" y2="251.18" stroke="#9da4da" stroke-width="1"/>
<line x1="361.6" y1="325.01" x2="361.6" y2="250.99" stroke="#9da4da" stroke-width="1"/>
<line x1="365.55" y1="325.06" x2="365.55" y2="251.1" stroke="#9da4da" stroke-width="1"/>
<line x1="369.49" y1="325.11" x2="369.49" y2="252.47" stroke="#9da4da" stroke-width="1"/>
<line x1="373.43" y1="325.16" x2="373.43" y2="253.49" stroke="#9da4da" stroke-width="1"/>
<line x1="377.38" y1="325.21" x2="377.38" y2="254.27" stroke="#9da4da" stroke-width="1"/>
<line x1="381.33" y1="325.26" x2="381.33" y2="255.33" stroke="#9ca4da" stroke-width="1"/>
<line x1="385.27" y1="325.31" x2="385.27" y2="256.16" stroke="#9ca3da" stroke-width="1"/>
<line x1="389.22" y1="325.37" x2="389.22" y2="257.09" stroke="#9ba2d9" stroke-width="1"/>
<line x1="393.16" y1="325.46" x2="393.16" y2="257.48" stroke="#9ba2d9" stroke-width="1"/>
<line x1="397.1" y1="325.57" x2="397.1" y2="258.09" stroke="#9aa1d9" stroke-width="1"/>
<line x1="401.05" y1="325.68" x2="401.05" y2="258.93" stroke="#99a0d8" stroke-width="1"/>
<line x1="405" y1="325.78" x2="405" y2="260.51" stroke="#989fd8" stroke-width="1"/>
<line x1="408.94" y1="325.89" x2="408.94" y2="261.24" stroke="#979fd8" stroke-width="1"/>
<line x1="412.88" y1="326" x2="412.88" y2="261.84" stroke="#969ed7" stroke-width="1"/>
<line x1="416.83" y1="326.1" x2="416.83" y2="262.82" stroke="#959dd7" stroke-width="1"/>
<line x1="420.78" y1="326.21" x2="420.78" y2="263.63" stroke="#949cd6" stroke-width="1"/>
<line x1="424.72" y1="326.32" x2="424.72" y2="263.98" stroke="#939bd6" stroke-width="1"/>
<line x1="428.67" y1="326.47" x2="428.67" y2="264.92" stroke="#929ad5" stroke-width="1"/>
<line x1="432.61" y1="326.8" x2="432.61" y2="266.02" stroke="#919ad5" stroke-width="1"/>
<line x1="436.55" y1="327.14" x2="436.55" y2="267.03" stroke="#9199d5" stroke-width="1"/>
<line x1="440.5" y1="327.48" x2="440.5" y2="267.79" stroke="#9098d4" stroke-width="1"/>
<line x1="444.45" y1="327.82" x2="444.45" y2="268.79" stroke="#8f97d4" stroke-width="1"/>
<line x1="448.39" y1="328.16" x2="448.39" y2="270.01" stroke="#8e97d4" stroke-width="1"/>
<line x1="452.33" y1="328.5" x2="452.33" y2="270.94" stroke="#8e96d3" stroke-width="1"/>
<line x1="456.28" y1="328.84" x2="456.28" y2="271.72" stroke="#8d96d3" stroke-width="1"/>
<line x1="460.23" y1="329.18" x2="460.23" y2="272.7" stroke="#8d95d3" stroke-width="1"/>
<line x1="464.17" y1="329.61" x2="464.17" y2="273.86" stroke="#8c95d3" stroke-width="1"/>
<line x1="468.12" y1="330.03" x2="468.12" y2="274.67" stroke="#8c95d3" stroke-width="1"/>
<line x1="472.06" y1="330.46" x2="472.06" y2="275.66" stroke="#8b94d2" stroke-width="1"/>
<line x1="476" y1="330.88" x2="476" y2="276.97" stroke="#8b94d2" stroke-width="1"/>
<line x1="479.95" y1="331.3" x2="479.95" y2="277.75" stroke="#8b94d2" stroke-width="1"/>
<line x1="483.9" y1="331.73" x2="483.9" y2="278.63" stroke="#8b94d2" stroke-width="1"/>
<line x1="487.84" y1="332.15" x2="487.84" y2="279.76" stroke="#8a93d2" stroke-width="1"/>
<line x1="491.78" y1="332.58" x2="491.78" y2="280.96" stroke="#8a93d2" stroke-width="1"/>
<line x1="495.73" y1="333" x2="495.73" y2="281.68" stroke="#8a93d2" stroke-width="1"/>
<line x1="499.68" y1="333.43" x2="499.68" y2="282.71" stroke="#8a93d2" stroke-width="1"/>
<line x1="503.62" y1="333.85" x2="503.62" y2="283.78" stroke="#8a93d2" stroke-width="1"/>
<line x1="507.57" y1="334.27" x2="507.57" y2="285.47" stroke="#8a93d2" stroke-width="1"/>
<line x1="511.51" y1="334.7" x2="511.51" y2="285.99" stroke="#8a93d2" stroke-width="1"/>
<line x1="515.45" y1="335.12" x2="515.45" y2="287.68" stroke="#8a93d2" stroke-width="1"/>
<line x1="519.4" y1="335.55" x2="519.4" y2="288.58" stroke="#8a93d2" stroke-width="1"/>
<line x1="523.35" y1="335.97" x2="523.35" y2="289.72" stroke="#8a93d2" stroke-width="1"/>
<line x1="527.29" y1="336.39" x2="527.29" y2="290.93" stroke="#8a93d2" stroke-width="1"/>
<line x1="531.23" y1="336.82" x2="531.23" y2="292.22" stroke="#8a93d2" stroke-width="1"/>
<line x1="535.18" y1="337.24" x2="535.18" y2="293.59" stroke="#8a93d2" stroke-width="1"/>
<line x1="539.12" y1="337.67" x2="539.12" y2="294.54" stroke="#8a93d2" stroke-width="1"/>
<line x1="543.07" y1="338.11" x2="543.07" y2="295.93" stroke="#8a93d2" stroke-width="1"/>
<line x1="547.02" y1="338.56" x2="547.02" y2="297.37" stroke="#8a93d2" stroke-width="1"/>
<line x1="550.96" y1="339.02" x2="550.96" y2="297.84" stroke="#8a93d2" stroke-width="1"/>
<line x1="554.9" y1="339.47" x2="554.9" y2="299.33" stroke="#8a93d2" stroke-width="1"/>
<line x1="558.85" y1="339.92" x2="558.85" y2="300.38" stroke="#8a93d2" stroke-width="1"/>
<line x1="562.8" y1="340.37" x2="562.8" y2="301.95" stroke="#8a93d2" stroke-width="1"/>
<line x1="566.74" y1="340.83" x2="566.74" y2="302.82" stroke="#8a93d2" stroke-width="1"/>
<line x1="570.68" y1="341.23" x2="570.68" y2="304.01" stroke="#8a93d2" stroke-width="1"/>
<line x1="574.63" y1="341.39" x2="574.63" y2="305.34" stroke="#8a93d2" stroke-width="1"/>
<line x1="578.58" y1="341.55" x2="578.58" y2="306.93" stroke="#8a93d2" stroke-width="1"/>
<line x1="582.52" y1="341.72" x2="582.52" y2="308.47" stroke="#8a93d2" stroke-width="1"/>
<line x1="586.47" y1="341.88" x2="586.47" y2="309.7" stroke="#8a93d2" stroke-width="1"/>
<line x1="590.41" y1="342.04" x2="590.41" y2="311.35" stroke="#8a93d2" stroke-width="1"/>
<line x1="594.36" y1="342.21" x2="594.36" y2="312.66" stroke="#8a93d2" stroke-width="1"/>
<line x1="598.3" y1="342.37" x2="598.3" y2="313.79" stroke="#8a93d2" stroke-width="1"/>
<line x1="602.25" y1="342.53" x2="602.25" y2="315.31" stroke="#8a93d2" stroke-width="1"/>
<line x1="606.19" y1="342.69" x2="606.19" y2="316.57" stroke="#8a93d2" stroke-width="1"/>
<line x1="610.13" y1="342.86" x2="610.13" y2="317.92" stroke="#8a93d2" stroke-width="1"/>
<line x1="614.08" y1="343.02" x2="614.08" y2="318.82" stroke="#8a93d2" stroke-width="1"/>
<line x1="618.03" y1="343.18" x2="618.03" y2="320.09" stroke="#8a93d2" stroke-width="1"/>
<line x1="621.97" y1="343.29" x2="621.97" y2="321.46" stroke="#8a93d2" stroke-width="1"/>
<line x1="625.92" y1="343.35" x2="625.92" y2="322.47" stroke="#8a93d2" stroke-width="1"/>
<line x1="629.86" y1="343.41" x2="629.86" y2="323.92" stroke="#8a93d2" stroke-width="1"/>
<line x1="633.8" y1="343.47" x2="633.8" y2="325.04" stroke="#8a93d2" stroke-width="1"/>
<line x1="637.75" y1="343.53" x2="637.75" y2="326.05" stroke="#8a93d2" stroke-width="1"/>
<line x1="641.7" y1="343.59" x2="641.7" y2="327.53" stroke="#8a93d2" stroke-width="1"/>
<line x1="645.64" y1="343.64" x2="645.64" y2="328.58" stroke="#8a93d2" stroke-width="1"/>
<line x1="649.58" y1="343.7" x2="649.58" y2="329.77" stroke="#8a93d2" stroke-width="1"/>
<line x1="653.53" y1="343.76" x2="653.53" y2="330.48" stroke="#8a93d2" stroke-width="1"/>
<line x1="657.48" y1="343.82" x2="657.48" y2="331.18" stroke="#8a93d2" stroke-width="1"/>
<line x1="661.42" y1="343.88" x2="661.42" y2="332.42" stroke="#8a93d2" stroke-width="1"/>
<line x1="665.37" y1="343.94" x2="665.37" y2="333.19" stroke="#8a93d2" stroke-width="1"/>
<line x1="669.31" y1="344" x2="669.31" y2="334.25" stroke="#8a93d2" stroke-width="1"/>
<line x1="673.25" y1="344.05" x2="673.25" y2="335.26" stroke="#8a93d2" stroke-width="1"/>
<line x1="677.2" y1="344.11" x2="677.2" y2="336.48" stroke="#8a93d2" stroke-width="1"/>
</g>
<rect x="46.0" y="245.1" width="631.2" height="113.3" fill="none" stroke="#4a4a4a" stroke-width="1.2"/>
<text x="10.2" y="420.5" font-size="19" font-weight="bold" fill="#1a1a1a">c</text>
<line x1="38.2" y1="435.6" x2="44.7" y2="435.6" stroke="#4a4a4a" stroke-width="1.2"/>
<text x="36.4" y="440.2" font-size="14" text-anchor="end" fill="#2e2e2e">0.4</text>
<line x1="38.2" y1="476.6" x2="44.7" y2="476.6" stroke="#4a4a4a" stroke-width="1.2"/>
<text x="36.4" y="481.2" font-size="14" text-anchor="end" fill="#2e2e2e">0.2</text>
<line x1="38.2" y1="517.6" x2="44.7" y2="517.6" stroke="#4a4a4a" stroke-width="1.2"/>
<text x="36.4" y="522.2" font-size="14" text-anchor="end" fill="#2e2e2e">0.0</text>
<line x1="41.4" y1="456.1" x2="44.7" y2="456.1" stroke="#4a4a4a" stroke-width="1.0"/>
<line x1="41.4" y1="497.1" x2="44.7" y2="497.1" stroke="#4a4a4a" stroke-width="1.0"/>
<line x1="41.4" y1="538.1" x2="44.7" y2="538.1" stroke="#4a4a4a" stroke-width="1.0"/>
<line x1="61.3" y1="546.2" x2="61.3" y2="551.7" stroke="#9a9a9a" stroke-width="1.0"/>
<text x="65.6" y="564.4" font-size="14" text-anchor="middle" fill="#2e2e2e">40.996</text>
<line x1="129.1" y1="546.2" x2="129.1" y2="551.7" stroke="#9a9a9a" stroke-width="1.0"/>
<text x="133.4" y="564.4" font-size="14" text-anchor="middle" fill="#2e2e2e">40.998</text>
<line x1="196.9" y1="546.2" x2="196.9" y2="551.7" stroke="#9a9a9a" stroke-width="1.0"/>
<text x="201.2" y="564.4" font-size="14" text-anchor="middle" fill="#2e2e2e">41.000</text>
<line x1="264.7" y1="546.2" x2="264.7" y2="551.7" stroke="#9a9a9a" stroke-width="1.0"/>
<text x="269" y="564.4" font-size="14" text-anchor="middle" fill="#2e2e2e">41.002</text>
<line x1="332.5" y1="546.2" x2="332.5" y2="551.7" stroke="#9a9a9a" stroke-width="1.0"/>
<text x="336.8" y="564.4" font-size="14" text-anchor="middle" fill="#2e2e2e">41.004</text>
<text x="207.6" y="585" font-size="14.3" text-anchor="middle" fill="#2e2e2e">Frequency (MHz)</text>
<text transform="translate(11.0,483.2) rotate(-90)" font-size="14" text-anchor="middle" fill="#2e2e2e">Intensity (a.u)</text>
<clipPath id="cc"><rect x="44.7" y="429.8" width="300.8" height="116.4"/></clipPath>
<polyline clip-path="url(#cc)" points="44.7,516.7 45.2,516.64 45.7,516.63 46.2,516.67 46.7,516.77 47.2,516.91 47.7,517.09 48.2,517.3 48.7,517.53 49.2,517.76 49.7,517.98 50.2,518.19 50.7,518.36 51.2,518.5 51.7,518.59 52.2,518.62 52.7,518.6 53.2,518.52 53.7,518.39 54.2,518.22 54.7,518.01 55.2,517.78 55.7,517.54 56.2,517.3 56.7,517.07 57.2,516.87 57.7,516.71 58.2,516.6 58.7,516.54 59.2,516.54 59.7,516.59 60.2,516.7 60.7,516.86 61.2,517.07 61.7,517.3 62.2,517.55 62.7,517.8 63.2,518.05 63.7,518.27 64.2,518.46 64.7,518.61 65.2,518.69 65.7,518.72 66.2,518.69 66.7,518.6 67.2,518.46 67.7,518.26 68.2,518.03 68.7,517.77 69.2,517.5 69.7,517.24 70.2,516.99 70.7,516.77 71.2,516.6 71.7,516.48 72.2,516.42 72.7,516.43 73.2,516.49 73.7,516.62 74.2,516.81 74.7,517.04 75.2,517.3 75.7,517.58 76.2,517.86 76.7,518.13 77.2,518.38 77.7,518.58 78.2,518.73 78.7,518.83 79.2,518.85 79.7,518.81 80.2,518.7 80.7,518.53 81.2,518.31 81.7,518.05 82.2,517.76 82.7,517.46 83.2,517.16 83.7,516.89 84.2,516.65 84.7,516.46 85.2,516.33 85.7,516.27 86.2,516.29 86.7,516.37 87.2,516.52 87.7,516.74 88.2,517 88.7,517.3 89.2,517.61 89.7,517.93 90.2,518.23 90.7,518.51 91.2,518.73 91.7,518.9 92.2,518.99 92.7,519.01 93.2,518.96 93.7,518.83 94.2,518.63 94.7,518.37 95.2,518.07 95.7,517.74 96.2,517.4 96.7,517.06 97.2,516.75 97.7,516.49 98.2,516.28 98.7,516.15 99.2,516.09 99.7,516.11 100.2,516.22 100.7,516.4 101.2,516.65 101.7,516.95 102.2,517.3 102.7,517.66 103.2,518.02 103.7,518.37 104.2,518.67 104.7,518.92 105.2,519.1 105.7,519.21 106.2,519.22 106.7,519.15 107.2,518.99 107.7,518.75 108.2,518.45 108.7,518.09 109.2,517.71 109.7,517.32 110.2,516.93 110.7,516.58 111.2,516.28 111.7,516.05 112.2,515.9 112.7,515.85 113.2,515.88 113.7,516.02 114.2,516.24 114.7,516.53 115.2,516.89 115.7,517.3 116.2,517.72 116.7,518.14 117.2,518.54 117.7,518.89 118.2,519.18 118.7,519.38 119.2,519.49 119.7,519.5 120.2,519.4 120.7,519.2 121.2,518.91 121.7,518.55 122.2,518.13 122.7,517.67 123.2,517.21 123.7,516.76 124.2,516.35 124.7,516 125.2,515.74 125.7,515.57 126.2,515.51 126.7,515.57 127.2,515.74 127.7,516.01 128.2,516.37 128.7,516.81 129.2,517.29 129.7,517.81 130.2,518.31 130.7,518.79 131.2,519.21 131.7,519.54 132.2,519.78 132.7,519.9 133.2,519.89 133.7,519.76 134.2,519.51 134.7,519.15 135.2,518.7 135.7,518.18 136.2,517.62 136.7,517.05 137.2,516.5 137.7,516.01 138.2,515.59 138.7,515.27 139.2,515.08 139.7,515.02 140.2,515.1 140.7,515.32 141.2,515.67 141.7,516.13 142.2,516.68 142.7,517.29 143.2,517.93 143.7,518.57 144.2,519.16 144.7,519.68 145.2,520.09 145.7,520.38 146.2,520.51 146.7,520.5 147.2,520.32 147.7,519.99 148.2,519.52 148.7,518.93 149.2,518.26 149.7,517.54 150.2,516.81 150.7,516.1 151.2,515.46 151.7,514.93 152.2,514.53 152.7,514.29 153.2,514.22 153.7,514.35 154.2,514.65 154.7,515.12 155.2,515.74 155.7,516.48 156.2,517.29 156.7,518.15 157.2,519 157.7,519.79 158.2,520.48 158.7,521.03 159.2,521.4 159.7,521.58 160.2,521.54 160.7,521.29 161.2,520.82 161.7,520.16 162.2,519.34 162.7,518.41 163.2,517.39 163.7,516.36 164.2,515.37 164.7,514.47 165.2,513.71 165.7,513.14 166.2,512.8 166.7,512.72 167.2,512.9 167.7,513.35 168.2,514.05 168.7,514.97 169.2,516.07 169.7,517.29 170.2,518.58 170.7,519.87 171.2,521.07 171.7,522.14 172.2,522.99 172.7,523.59 173.2,523.87 173.7,523.82 174.2,523.42 174.7,522.68 175.2,521.62 175.7,520.28 176.2,518.74 176.7,517.05 177.2,515.31 177.7,513.6 178.2,512.02 178.7,510.67 179.2,509.63 179.7,508.97 180.2,508.76 180.7,509.03 181.2,509.8 181.7,511.05 182.2,512.77 182.7,514.88 183.2,517.29 183.7,519.91 184.2,522.61 184.7,525.26 185.2,527.69 185.7,529.77 186.2,531.36 186.7,532.32 187.2,532.54 187.7,531.93 188.2,530.42 188.7,527.97 189.2,524.61 189.7,520.35 190.2,515.27 190.7,509.49 191.2,503.14 191.7,496.38 192.2,489.4 192.7,482.4 193.2,475.59 193.7,469.18 194.2,463.36 194.7,458.33 195.2,454.23 195.7,451.2 196.2,449.35 196.7,448.72 197.2,449.35 197.7,451.2 198.2,454.23 198.7,458.33 199.2,463.36 199.7,469.18 200.2,475.59 200.7,482.4 201.2,489.4 201.7,496.38 202.2,503.14 202.7,509.49 203.2,515.27 203.7,520.35 204.2,524.61 204.7,527.97 205.2,530.42 205.7,531.93 206.2,532.54 206.7,532.32 207.2,531.36 207.7,529.77 208.2,527.69 208.7,525.26 209.2,522.61 209.7,519.91 210.2,517.29 210.7,514.88 211.2,512.77 211.7,511.05 212.2,509.8 212.7,509.03 213.2,508.76 213.7,508.97 214.2,509.63 214.7,510.67 215.2,512.02 215.7,513.6 216.2,515.31 216.7,517.05 217.2,518.74 217.7,520.28 218.2,521.62 218.7,522.68 219.2,523.42 219.7,523.82 220.2,523.87 220.7,523.59 221.2,522.99 221.7,522.14 222.2,521.07 222.7,519.87 223.2,518.58 223.7,517.29 224.2,516.07 224.7,514.97 225.2,514.05 225.7,513.35 226.2,512.9 226.7,512.72 227.2,512.8 227.7,513.14 228.2,513.71 228.7,514.47 229.2,515.37 229.7,516.36 230.2,517.39 230.7,518.41 231.2,519.34 231.7,520.16 232.2,520.82 232.7,521.29 233.2,521.54 233.7,521.58 234.2,521.4 234.7,521.03 235.2,520.48 235.7,519.79 236.2,519 236.7,518.15 237.2,517.29 237.7,516.48 238.2,515.74 238.7,515.12 239.2,514.65 239.7,514.35 240.2,514.22 240.7,514.29 241.2,514.53 241.7,514.93 242.2,515.46 242.7,516.1 243.2,516.81 243.7,517.54 244.2,518.26 244.7,518.93 245.2,519.52 245.7,519.99 246.2,520.32 246.7,520.5 247.2,520.51 247.7,520.38 248.2,520.09 248.7,519.68 249.2,519.16 249.7,518.57 250.2,517.93 250.7,517.29 251.2,516.68 251.7,516.13 252.2,515.67 252.7,515.32 253.2,515.1 253.7,515.02 254.2,515.08 254.7,515.27 255.2,515.59 255.7,516.01 256.2,516.5 256.7,517.05 257.2,517.62 257.7,518.18 258.2,518.7 258.7,519.15 259.2,519.51 259.7,519.76 260.2,519.89 260.7,519.9 261.2,519.78 261.7,519.54 262.2,519.21 262.7,518.79 263.2,518.31 263.7,517.81 264.2,517.29 264.7,516.81 265.2,516.37 265.7,516.01 266.2,515.74 266.7,515.57 267.2,515.51 267.7,515.57 268.2,515.74 268.7,516 269.2,516.35 269.7,516.76 270.2,517.21 270.7,517.67 271.2,518.13 271.7,518.55 272.2,518.91 272.7,519.2 273.2,519.4 273.7,519.5 274.2,519.49 274.7,519.38 275.2,519.18 275.7,518.89 276.2,518.54 276.7,518.14 277.2,517.72 277.7,517.3 278.2,516.89 278.7,516.53 279.2,516.24 279.7,516.02 280.2,515.88 280.7,515.85 281.2,515.9 281.7,516.05 282.2,516.28 282.7,516.58 283.2,516.93 283.7,517.32 284.2,517.71 284.7,518.09 285.2,518.45 285.7,518.75 286.2,518.99 286.7,519.15 287.2,519.22 287.7,519.21 288.2,519.1 288.7,518.92 289.2,518.67 289.7,518.37 290.2,518.02 290.7,517.66 291.2,517.3 291.7,516.95 292.2,516.65 292.7,516.4 293.2,516.22 293.7,516.11 294.2,516.09 294.7,516.15 295.2,516.28 295.7,516.49 296.2,516.75 296.7,517.06 297.2,517.4 297.7,517.74 298.2,518.07 298.7,518.37 299.2,518.63 299.7,518.83 300.2,518.96 300.7,519.01 301.2,518.99 301.7,518.9 302.2,518.73 302.7,518.51 303.2,518.23 303.7,517.93 304.2,517.61 304.7,517.3 305.2,517 305.7,516.74 306.2,516.52 306.7,516.37 307.2,516.29 307.7,516.27 308.2,516.33 308.7,516.46 309.2,516.65 309.7,516.89 310.2,517.16 310.7,517.46 311.2,517.76 311.7,518.05 312.2,518.31 312.7,518.53 313.2,518.7 313.7,518.81 314.2,518.85 314.7,518.83 315.2,518.73 315.7,518.58 316.2,518.38 316.7,518.13 317.2,517.86 317.7,517.58 318.2,517.3 318.7,517.04 319.2,516.81 319.7,516.62 320.2,516.49 320.7,516.43 321.2,516.42 321.7,516.48 322.2,516.6 322.7,516.77 323.2,516.99 323.7,517.24 324.2,517.5 324.7,517.77 325.2,518.03 325.7,518.26 326.2,518.46 326.7,518.6 327.2,518.69 327.7,518.72 328.2,518.69 328.7,518.61 329.2,518.46 329.7,518.27 330.2,518.05 330.7,517.8 331.2,517.55 331.7,517.3 332.2,517.07 332.7,516.86 333.2,516.7 333.7,516.59 334.2,516.54 334.7,516.54 335.2,516.6 335.7,516.71 336.2,516.87 336.7,517.07 337.2,517.3 337.7,517.54 338.2,517.78 338.7,518.01 339.2,518.22 339.7,518.39 340.2,518.52 340.7,518.6 341.2,518.62 341.7,518.59 342.2,518.5 342.7,518.36 343.2,518.19 343.7,517.98 344.2,517.76 344.7,517.53 345.2,517.3 345.7,517.09" fill="none" stroke="#4a5bb0" stroke-width="1.7"/>
<rect x="44.7" y="429.8" width="300.8" height="116.4" fill="none" stroke="#4a4a4a" stroke-width="1.2"/>
<text x="350.2" y="420.4" font-size="19" font-weight="bold" fill="#1a1a1a">d</text>
<line x1="392.2" y1="549.7" x2="398.3" y2="549.7" stroke="#4a4a4a" stroke-width="1.2"/>
<text x="368.6" y="552.7" font-size="14" fill="#2e2e2e">10</text>
<text x="383" y="544.1" font-size="13.5" fill="#2e2e2e">1</text>
<line x1="395.3" y1="542.88" x2="398.3" y2="542.88" stroke="#888" stroke-width="0.9"/>
<line x1="395.3" y1="538.89" x2="398.3" y2="538.89" stroke="#888" stroke-width="0.9"/>
<line x1="395.3" y1="536.06" x2="398.3" y2="536.06" stroke="#888" stroke-width="0.9"/>
<line x1="395.3" y1="533.86" x2="398.3" y2="533.86" stroke="#888" stroke-width="0.9"/>
<line x1="395.3" y1="532.07" x2="398.3" y2="532.07" stroke="#888" stroke-width="0.9"/>
<line x1="395.3" y1="530.55" x2="398.3" y2="530.55" stroke="#888" stroke-width="0.9"/>
<line x1="395.3" y1="529.24" x2="398.3" y2="529.24" stroke="#888" stroke-width="0.9"/>
<line x1="395.3" y1="528.08" x2="398.3" y2="528.08" stroke="#888" stroke-width="0.9"/>
<line x1="392.2" y1="527.04" x2="398.3" y2="527.04" stroke="#4a4a4a" stroke-width="1.2"/>
<text x="368.6" y="530.04" font-size="14" fill="#2e2e2e">10</text>
<text x="383" y="521.44" font-size="13.5" fill="#2e2e2e">2</text>
<line x1="395.3" y1="520.22" x2="398.3" y2="520.22" stroke="#888" stroke-width="0.9"/>
<line x1="395.3" y1="516.23" x2="398.3" y2="516.23" stroke="#888" stroke-width="0.9"/>
<line x1="395.3" y1="513.4" x2="398.3" y2="513.4" stroke="#888" stroke-width="0.9"/>
<line x1="395.3" y1="511.2" x2="398.3" y2="511.2" stroke="#888" stroke-width="0.9"/>
<line x1="395.3" y1="509.41" x2="398.3" y2="509.41" stroke="#888" stroke-width="0.9"/>
<line x1="395.3" y1="507.89" x2="398.3" y2="507.89" stroke="#888" stroke-width="0.9"/>
<line x1="395.3" y1="506.58" x2="398.3" y2="506.58" stroke="#888" stroke-width="0.9"/>
<line x1="395.3" y1="505.42" x2="398.3" y2="505.42" stroke="#888" stroke-width="0.9"/>
<line x1="392.2" y1="504.38" x2="398.3" y2="504.38" stroke="#4a4a4a" stroke-width="1.2"/>
<text x="368.6" y="507.38" font-size="14" fill="#2e2e2e">10</text>
<text x="383" y="498.78" font-size="13.5" fill="#2e2e2e">3</text>
<line x1="395.3" y1="497.56" x2="398.3" y2="497.56" stroke="#888" stroke-width="0.9"/>
<line x1="395.3" y1="493.57" x2="398.3" y2="493.57" stroke="#888" stroke-width="0.9"/>
<line x1="395.3" y1="490.74" x2="398.3" y2="490.74" stroke="#888" stroke-width="0.9"/>
<line x1="395.3" y1="488.54" x2="398.3" y2="488.54" stroke="#888" stroke-width="0.9"/>
<line x1="395.3" y1="486.75" x2="398.3" y2="486.75" stroke="#888" stroke-width="0.9"/>
<line x1="395.3" y1="485.23" x2="398.3" y2="485.23" stroke="#888" stroke-width="0.9"/>
<line x1="395.3" y1="483.92" x2="398.3" y2="483.92" stroke="#888" stroke-width="0.9"/>
<line x1="395.3" y1="482.76" x2="398.3" y2="482.76" stroke="#888" stroke-width="0.9"/>
<line x1="392.2" y1="481.72" x2="398.3" y2="481.72" stroke="#4a4a4a" stroke-width="1.2"/>
<text x="368.6" y="484.72" font-size="14" fill="#2e2e2e">10</text>
<text x="383" y="476.12" font-size="13.5" fill="#2e2e2e">4</text>
<line x1="395.3" y1="474.9" x2="398.3" y2="474.9" stroke="#888" stroke-width="0.9"/>
<line x1="395.3" y1="470.91" x2="398.3" y2="470.91" stroke="#888" stroke-width="0.9"/>
<line x1="395.3" y1="468.08" x2="398.3" y2="468.08" stroke="#888" stroke-width="0.9"/>
<line x1="395.3" y1="465.88" x2="398.3" y2="465.88" stroke="#888" stroke-width="0.9"/>
<line x1="395.3" y1="464.09" x2="398.3" y2="464.09" stroke="#888" stroke-width="0.9"/>
<line x1="395.3" y1="462.57" x2="398.3" y2="462.57" stroke="#888" stroke-width="0.9"/>
<line x1="395.3" y1="461.26" x2="398.3" y2="461.26" stroke="#888" stroke-width="0.9"/>
<line x1="395.3" y1="460.1" x2="398.3" y2="460.1" stroke="#888" stroke-width="0.9"/>
<line x1="392.2" y1="459.06" x2="398.3" y2="459.06" stroke="#4a4a4a" stroke-width="1.2"/>
<text x="368.6" y="462.06" font-size="14" fill="#2e2e2e">10</text>
<text x="383" y="453.46" font-size="13.5" fill="#2e2e2e">5</text>
<line x1="395.3" y1="452.24" x2="398.3" y2="452.24" stroke="#888" stroke-width="0.9"/>
<line x1="395.3" y1="448.25" x2="398.3" y2="448.25" stroke="#888" stroke-width="0.9"/>
<line x1="395.3" y1="445.42" x2="398.3" y2="445.42" stroke="#888" stroke-width="0.9"/>
<line x1="395.3" y1="443.22" x2="398.3" y2="443.22" stroke="#888" stroke-width="0.9"/>
<line x1="395.3" y1="441.43" x2="398.3" y2="441.43" stroke="#888" stroke-width="0.9"/>
<line x1="395.3" y1="439.91" x2="398.3" y2="439.91" stroke="#888" stroke-width="0.9"/>
<line x1="395.3" y1="438.6" x2="398.3" y2="438.6" stroke="#888" stroke-width="0.9"/>
<line x1="395.3" y1="437.44" x2="398.3" y2="437.44" stroke="#888" stroke-width="0.9"/>
<line x1="392.2" y1="436.4" x2="398.3" y2="436.4" stroke="#4a4a4a" stroke-width="1.2"/>
<text x="368.6" y="439.4" font-size="14" fill="#2e2e2e">10</text>
<text x="383" y="430.8" font-size="13.5" fill="#2e2e2e">6</text>
<line x1="395.3" y1="429.58" x2="398.3" y2="429.58" stroke="#888" stroke-width="0.9"/>
<line x1="406.51" y1="549.8" x2="406.51" y2="552.8" stroke="#777" stroke-width="0.9"/>
<line x1="413.43" y1="549.8" x2="413.43" y2="552.8" stroke="#777" stroke-width="0.9"/>
<line x1="418.81" y1="549.8" x2="418.81" y2="552.8" stroke="#777" stroke-width="0.9"/>
<line x1="423.2" y1="549.8" x2="423.2" y2="552.8" stroke="#777" stroke-width="0.9"/>
<line x1="426.91" y1="549.8" x2="426.91" y2="552.8" stroke="#777" stroke-width="0.9"/>
<line x1="430.13" y1="549.8" x2="430.13" y2="552.8" stroke="#777" stroke-width="0.9"/>
<line x1="432.96" y1="549.8" x2="432.96" y2="552.8" stroke="#777" stroke-width="0.9"/>
<line x1="435.5" y1="549.8" x2="435.5" y2="555.3" stroke="#8a8a8a" stroke-width="1.1"/>
<line x1="452.19" y1="549.8" x2="452.19" y2="552.8" stroke="#777" stroke-width="0.9"/>
<line x1="461.96" y1="549.8" x2="461.96" y2="552.8" stroke="#777" stroke-width="0.9"/>
<line x1="468.88" y1="549.8" x2="468.88" y2="552.8" stroke="#777" stroke-width="0.9"/>
<line x1="474.26" y1="549.8" x2="474.26" y2="552.8" stroke="#777" stroke-width="0.9"/>
<line x1="478.65" y1="549.8" x2="478.65" y2="552.8" stroke="#777" stroke-width="0.9"/>
<line x1="482.36" y1="549.8" x2="482.36" y2="552.8" stroke="#777" stroke-width="0.9"/>
<line x1="485.58" y1="549.8" x2="485.58" y2="552.8" stroke="#777" stroke-width="0.9"/>
<line x1="488.41" y1="549.8" x2="488.41" y2="552.8" stroke="#777" stroke-width="0.9"/>
<line x1="490.95" y1="549.8" x2="490.95" y2="555.3" stroke="#8a8a8a" stroke-width="1.1"/>
<line x1="507.64" y1="549.8" x2="507.64" y2="552.8" stroke="#777" stroke-width="0.9"/>
<line x1="517.41" y1="549.8" x2="517.41" y2="552.8" stroke="#777" stroke-width="0.9"/>
<line x1="524.33" y1="549.8" x2="524.33" y2="552.8" stroke="#777" stroke-width="0.9"/>
<line x1="529.71" y1="549.8" x2="529.71" y2="552.8" stroke="#777" stroke-width="0.9"/>
<line x1="534.1" y1="549.8" x2="534.1" y2="552.8" stroke="#777" stroke-width="0.9"/>
<line x1="537.81" y1="549.8" x2="537.81" y2="552.8" stroke="#777" stroke-width="0.9"/>
<line x1="541.03" y1="549.8" x2="541.03" y2="552.8" stroke="#777" stroke-width="0.9"/>
<line x1="543.86" y1="549.8" x2="543.86" y2="552.8" stroke="#777" stroke-width="0.9"/>
<line x1="546.4" y1="549.8" x2="546.4" y2="555.3" stroke="#8a8a8a" stroke-width="1.1"/>
<line x1="563.09" y1="549.8" x2="563.09" y2="552.8" stroke="#777" stroke-width="0.9"/>
<line x1="572.86" y1="549.8" x2="572.86" y2="552.8" stroke="#777" stroke-width="0.9"/>
<line x1="579.78" y1="549.8" x2="579.78" y2="552.8" stroke="#777" stroke-width="0.9"/>
<line x1="585.16" y1="549.8" x2="585.16" y2="552.8" stroke="#777" stroke-width="0.9"/>
<line x1="589.55" y1="549.8" x2="589.55" y2="552.8" stroke="#777" stroke-width="0.9"/>
<line x1="593.26" y1="549.8" x2="593.26" y2="552.8" stroke="#777" stroke-width="0.9"/>
<line x1="596.48" y1="549.8" x2="596.48" y2="552.8" stroke="#777" stroke-width="0.9"/>
<line x1="599.31" y1="549.8" x2="599.31" y2="552.8" stroke="#777" stroke-width="0.9"/>
<line x1="601.85" y1="549.8" x2="601.85" y2="555.3" stroke="#8a8a8a" stroke-width="1.1"/>
<line x1="618.54" y1="549.8" x2="618.54" y2="552.8" stroke="#777" stroke-width="0.9"/>
<line x1="628.31" y1="549.8" x2="628.31" y2="552.8" stroke="#777" stroke-width="0.9"/>
<line x1="635.23" y1="549.8" x2="635.23" y2="552.8" stroke="#777" stroke-width="0.9"/>
<line x1="640.61" y1="549.8" x2="640.61" y2="552.8" stroke="#777" stroke-width="0.9"/>
<line x1="645" y1="549.8" x2="645" y2="552.8" stroke="#777" stroke-width="0.9"/>
<line x1="648.71" y1="549.8" x2="648.71" y2="552.8" stroke="#777" stroke-width="0.9"/>
<line x1="651.93" y1="549.8" x2="651.93" y2="552.8" stroke="#777" stroke-width="0.9"/>
<line x1="654.76" y1="549.8" x2="654.76" y2="552.8" stroke="#777" stroke-width="0.9"/>
<line x1="657.3" y1="549.8" x2="657.3" y2="555.3" stroke="#8a8a8a" stroke-width="1.1"/>
<line x1="673.99" y1="549.8" x2="673.99" y2="552.8" stroke="#777" stroke-width="0.9"/>
<text x="435.5" y="572" font-size="14" text-anchor="middle" fill="#2e2e2e">0.01</text>
<text x="490.95" y="572" font-size="14" text-anchor="middle" fill="#2e2e2e">0.1</text>
<text x="546.4" y="572" font-size="14" text-anchor="middle" fill="#2e2e2e">1</text>
<text x="601.85" y="572" font-size="14" text-anchor="middle" fill="#2e2e2e">10</text>
<text x="657.3" y="572" font-size="14" text-anchor="middle" fill="#2e2e2e">100</text>
<text x="548.4" y="583.4" font-size="14" text-anchor="middle" fill="#2e2e2e">Time (s)</text>
<text transform="translate(362.1,487.2) rotate(-90)" font-size="14" text-anchor="middle" fill="#2e2e2e">SNR</text>
<polygon points="418.81,482.71 419.3,482.61 419.8,482.73 420.29,482.66 420.79,482.97 421.28,482.86 421.78,482.42 422.28,482.47 422.77,482.39 423.27,482.57 423.76,482.15 424.26,482.08 424.75,481.99 425.25,481.66 425.74,481.6 426.24,481.5 426.73,481.59 427.23,481.43 427.72,481.37 428.22,481.29 428.71,481.08 429.21,480.96 429.7,481.35 430.2,480.98 430.7,480.73 431.19,480.44 431.69,480.77 432.18,480.71 432.68,480.53 433.17,480.25 433.67,480.49 434.16,480.4 434.66,480.35 435.15,479.84 435.65,480.08 436.14,479.93 436.64,479.73 437.13,479.49 437.63,479.75 438.13,479.63 438.62,479.57 439.12,479.29 439.61,479.03 440.11,478.79 440.6,478.92 441.1,479.17 441.59,478.64 442.09,478.73 442.58,478.52 443.08,478.51 443.57,478.53 444.07,478.38 444.56,478.44 445.06,478.05 445.56,477.94 446.05,477.99 446.55,477.98 447.04,477.66 447.54,477.67 448.03,477.48 448.53,477.22 449.02,477.23 449.52,476.76 450.01,476.36 450.51,476.5 451,476.31 451.5,476.65 451.99,476.33 452.49,476.24 452.98,476.15 453.48,476.16 453.98,476.29 454.47,476.42 454.97,476.31 455.46,476.06 455.96,476.03 456.45,476.07 456.95,475.73 457.44,475.52 457.94,475.27 458.43,475.39 458.93,475.14 459.42,474.84 459.92,475.23 460.41,475.01 460.91,474.67 461.41,474.85 461.9,474.5 462.4,474.03 462.89,474.63 463.39,474.24 463.88,474.53 464.38,474.42 464.87,474.16 465.37,473.98 465.86,474.17 466.36,474.21 466.85,474.12 467.35,473.78 467.84,473.59 468.34,473.54 468.83,473.38 469.33,473.42 469.83,473.41 470.32,473.4 470.82,473.26 471.31,473.53 471.81,472.84 472.3,473.08 472.8,472.82 473.29,472.56 473.79,472.64 474.28,472.25 474.78,472.58 475.27,472.3 475.77,472.09 476.26,472.15 476.76,471.75 477.26,471.99 477.75,471.76 478.25,471.69 478.74,471.73 479.24,471.68 479.73,471.65 480.23,471.33 480.72,471.37 481.22,470.79 481.71,470.92 482.21,470.56 482.7,470.59 483.2,471.08 483.69,470.55 484.19,470.64 484.69,470.62 485.18,470.47 485.68,469.89 486.17,469.77 486.67,469.77 487.16,469.72 487.66,469.5 488.15,469.28 488.65,468.96 489.14,468.83 489.64,468.9 490.13,468.59 490.63,468.48 491.12,468.32 491.62,468.41 492.11,468.26 492.61,467.82 493.11,467.9 493.6,467.35 494.1,467.46 494.59,467.51 495.09,466.82 495.58,466.62 496.08,466.7 496.57,466.31 497.07,466.74 497.56,466.6 498.06,466.41 498.55,466.18 499.05,465.59 499.54,465.77 500.04,465.47 500.54,465.59 501.03,465.83 501.53,465.81 502.02,465.45 502.52,465.16 503.01,464.37 503.51,464.44 504,464.18 504.5,464.23 504.99,464.2 505.49,463.77 505.98,463.59 506.48,463.45 506.97,463.58 507.47,463.93 507.96,463.41 508.46,463.4 508.96,463.29 509.45,463.44 509.95,463.41 510.44,462.84 510.94,462.67 511.43,463.02 511.93,462.31 512.42,462.91 512.92,462.66 513.41,461.69 513.91,461.63 514.4,460.9 514.9,461.01 515.39,460.64 515.89,461.38 516.39,460.93 516.88,461.24 517.38,461.53 517.87,461.1 518.37,461.21 518.86,460.44 519.36,460.3 519.85,460.16 520.35,460.07 520.84,459.89 521.34,460 521.83,460.08 522.33,460.05 522.82,459.98 523.32,459.46 523.82,459.75 524.31,459.31 524.81,459.45 525.3,458.74 525.8,458.13 526.29,459.09 526.79,459.1 527.28,458.72 527.78,458.32 528.27,458.11 528.77,457.57 529.26,458.75 529.76,457.12 530.25,457 530.75,455.98 531.24,456.62 531.74,457.27 532.24,457.76 532.73,457.76 533.23,457.43 533.72,456.65 534.22,456.36 534.71,456.31 535.21,456.37 535.7,456.51 536.2,456.85 536.69,456.51 537.19,456.53 537.68,456.13 538.18,455.74 538.67,456.07 539.17,455.14 539.67,455.35 540.16,455.97 540.66,455.11 541.15,454.79 541.65,455.58 542.14,454.49 542.64,454.55 543.13,453.54 543.63,454.76 544.12,452.17 544.62,453.93 545.11,452.24 545.61,452.12 546.1,450.85 546.6,451.02 547.1,451.02 547.59,453.65 548.09,451.58 548.58,452.34 549.08,450.33 549.57,449.55 550.07,452.2 550.56,450.53 551.06,450.06 551.55,449.65 552.05,449.67 552.54,451.68 553.04,453.5 553.53,453.25 554.03,451.74 554.52,451.48 555.02,450.85 555.52,450.74 556.01,450.77 556.51,451.94 557,451.28 557.5,451.4 557.99,451.71 558.49,450.96 558.98,450.47 559.48,450.52 559.97,450.89 560.47,450.09 560.96,450.95 561.46,449.48 561.95,450.34 562.45,451.17 562.95,451.25 563.44,450.97 563.94,451.15 564.43,450.21 564.93,450.86 565.42,450.51 565.92,451.16 566.41,449.31 566.91,449.82 567.4,449.92 567.9,449.68 568.39,450.35 568.89,449.6 569.38,449.54 569.88,449.32 570.37,448.74 570.87,448.98 571.37,449.77 571.86,449.96 572.36,449.65 572.85,449.91 573.35,448.97 573.84,449 574.34,449.52 574.83,449.23 575.33,448.06 575.82,447.16 576.32,447.61 576.81,447.97 577.31,448.09 577.8,448.12 578.3,448.94 578.8,448.69 579.29,447.95 579.79,446 580.28,447.17 580.78,448.33 581.27,446.85 581.77,446.36 582.26,447.29 582.76,446.56 583.25,447.34 583.75,445.68 584.24,446.91 584.74,446.12 585.23,446.36 585.73,445.78 586.23,445.33 586.72,446.62 587.22,446.49 587.71,447.13 588.21,446.33 588.7,445.98 589.2,446.08 589.69,445.61 590.19,446.65 590.68,445.12 591.18,445.04 591.67,445.09 592.17,445.35 592.66,444.47 593.16,445.92 593.65,445.4 594.15,445.81 594.65,445.78 595.14,443.73 595.64,443.74 596.13,445.14 596.63,444.5 597.12,443.54 597.62,443.26 598.11,443.88 598.61,443.38 599.1,443.96 599.6,444.18 600.09,442.25 600.59,442.01 601.08,442.57 601.58,443.4 602.08,442.34 602.57,443.66 603.07,443.2 603.56,441.93 604.06,444.13 604.55,443.52 605.05,443.4 605.54,443.88 606.04,443.62 606.53,443.83 607.03,442.9 607.52,443.07 608.02,442.38 608.51,441.72 609.01,442.84 609.5,442.85 610,442.94 610.5,442.57 610.99,441.78 611.49,441.99 611.98,441.68 612.48,439.65 612.97,440.32 613.47,441.03 613.96,440.83 614.46,441.45 614.95,441.69 615.45,440.56 615.94,441.63 616.44,440.92 616.93,441.55 617.43,440.86 617.93,440.86 618.42,441.33 618.92,440.22 619.41,439.72 619.91,438.15 620.4,439.76 620.9,439.88 621.39,440.2 621.89,440.09 622.38,440.51 622.88,439.91 623.37,439.93 623.87,439.05 624.36,439.02 624.86,438.61 625.36,438.98 625.85,439.31 626.35,439.44 626.84,437.73 627.34,438.28 627.83,439.24 628.33,439.21 628.82,439.55 629.32,438.62 629.81,438.28 630.31,437.91 630.8,437.6 631.3,437.21 631.79,437.62 632.29,437.91 632.78,437.49 633.28,437.92 633.78,437.79 634.27,438.22 634.77,436.35 635.26,437.38 635.76,437.21 636.25,437.14 636.75,437.4 637.24,436.37 637.74,437.36 638.23,437.8 638.73,437.77 639.22,436.08 639.72,436.93 640.21,436.83 640.71,435.51 641.21,436.05 641.7,436.61 642.2,435.4 642.69,435.91 643.19,435.85 643.68,435.55 644.18,434.3 644.67,436.35 645.17,436.8 645.66,435.91 646.16,434.68 646.65,435.47 647.15,435.94 647.64,435.57 648.14,435.55 648.64,435.74 649.13,436.13 649.63,434.84 650.12,433.29 650.62,434.34 651.11,434.32 651.61,434.67 652.1,435.66 652.6,435.37 653.09,435.29 653.59,434.87 654.08,434.61 654.58,434.55 655.07,434.34 655.57,434.94 656.06,434.79 656.06,442.61 655.57,442.49 655.07,442.37 654.58,442.88 654.08,442.63 653.59,442.63 653.09,442.82 652.6,443.58 652.1,443.29 651.61,443.32 651.11,443.42 650.62,443.38 650.12,443.31 649.63,443.44 649.13,443.97 648.64,443.88 648.14,443.97 647.64,443.89 647.15,443.94 646.65,443.93 646.16,444.49 645.66,444.4 645.17,444.16 644.67,444.25 644.18,444.27 643.68,444.33 643.19,444.37 642.69,444.44 642.2,445.01 641.7,444.65 641.21,444.84 640.71,445.38 640.21,444.83 639.72,444.97 639.22,445.32 638.73,445.23 638.23,445.3 637.74,445.43 637.24,446.25 636.75,445.79 636.25,445.63 635.76,446.05 635.26,445.8 634.77,445.96 634.27,446.08 633.78,446.16 633.28,446.77 632.78,446.36 632.29,446.76 631.79,446.53 631.3,446.91 630.8,446.81 630.31,447.2 629.81,446.79 629.32,446.92 628.82,447.56 628.33,447.08 627.83,447.07 627.34,447.25 626.84,447.57 626.35,447.23 625.85,447.44 625.36,447.92 624.86,448.17 624.36,447.9 623.87,447.98 623.37,448.4 622.88,448.3 622.38,448.12 621.89,448.61 621.39,448.32 620.9,448.52 620.4,448.71 619.91,448.53 619.41,448.67 618.92,448.95 618.42,448.74 617.93,449.56 617.43,449 616.93,449.51 616.44,449.68 615.94,449.95 615.45,449.86 614.95,449.38 614.46,449.72 613.96,449.69 613.47,450.23 612.97,450.04 612.48,450.09 611.98,450.1 611.49,450.21 610.99,450.93 610.5,451.64 610,451.7 609.5,450.79 609.01,451.49 608.51,451.09 608.02,451.14 607.52,452.1 607.03,451.32 606.53,451.9 606.04,452.18 605.54,451.79 605.05,451.77 604.55,451.8 604.06,453.01 603.56,452.13 603.07,451.87 602.57,452.93 602.08,452.66 601.58,454.43 601.08,453.28 600.59,452.18 600.09,452.25 599.6,452.95 599.1,452.44 598.61,452.81 598.11,453.1 597.62,452.73 597.12,454.69 596.63,453.59 596.13,452.95 595.64,453.02 595.14,454.75 594.65,453.91 594.15,453.72 593.65,455.35 593.16,454.22 592.66,455.09 592.17,454.1 591.67,453.71 591.18,455.48 590.68,453.96 590.19,454.08 589.69,454.65 589.2,454.96 588.7,454.42 588.21,456.64 587.71,454.63 587.22,454.74 586.72,455.03 586.23,454.96 585.73,456.55 585.23,456.74 584.74,456.23 584.24,455.66 583.75,457.16 583.25,457.05 582.76,455.63 582.26,456.92 581.77,458.07 581.27,456.62 580.78,456.15 580.28,456.13 579.79,456.21 579.29,457.2 578.8,456.48 578.3,456.77 577.8,457.53 577.31,457.55 576.81,457.17 576.32,456.66 575.82,457.56 575.33,456.73 574.83,456.9 574.34,457.04 573.84,457.11 573.35,457.42 572.85,457.39 572.36,457.51 571.86,458.89 571.37,458.27 570.87,458.11 570.37,458.75 569.88,458.97 569.38,458.18 568.89,458.58 568.39,459.32 567.9,458.29 567.4,458.39 566.91,458.46 566.41,458.96 565.92,459.44 565.42,459.14 564.93,458.94 564.43,458.96 563.94,459.75 563.44,459.16 562.95,459.31 562.45,461.68 561.95,459.36 561.46,459.71 560.96,459.52 560.47,460.3 559.97,459.62 559.48,459.59 558.98,459.67 558.49,459.77 557.99,459.89 557.5,461.1 557,460.18 556.51,460.99 556.01,460.21 555.52,460.35 555.02,460.38 554.52,462.32 554.03,460.65 553.53,460.73 553.04,461.97 552.54,462.6 552.05,463.4 551.55,461.23 551.06,461.34 550.56,461.43 550.07,461.59 549.57,463.9 549.08,467.89 548.58,461.98 548.09,467.71 547.59,466.23 547.1,466.94 546.6,463.43 546.1,468.7 545.61,462.5 545.11,464.92 544.62,463.72 544.12,469.53 543.63,466.38 543.13,464.68 542.64,464.47 542.14,462.91 541.65,462.95 541.15,466.11 540.66,463.79 540.16,463.34 539.67,463.32 539.17,463.4 538.67,464.46 538.18,463.65 537.68,464.1 537.19,463.95 536.69,464.1 536.2,464.37 535.7,464.36 535.21,464.2 534.71,464.35 534.22,464.91 533.72,464.53 533.23,464.73 532.73,465.25 532.24,464.73 531.74,464.82 531.24,464.98 530.75,464.9 530.25,465.17 529.76,465.14 529.26,465.24 528.77,465.3 528.27,465.62 527.78,465.38 527.28,465.54 526.79,465.77 526.29,465.77 525.8,466.02 525.3,466.09 524.81,466.08 524.31,466.72 523.82,466.93 523.32,466.24 522.82,466.38 522.33,466.66 521.83,466.73 521.34,466.93 520.84,466.74 520.35,467.11 519.85,467.69 519.36,467.19 518.86,467.65 518.37,467.26 517.87,467.46 517.38,468 516.88,467.75 516.39,468.55 515.89,468.44 515.39,468.44 514.9,468.16 514.4,468.62 513.91,469.62 513.41,468.58 512.92,469.02 512.42,469.43 511.93,469.37 511.43,469.12 510.94,470.11 510.44,469.34 509.95,469.65 509.45,469.49 508.96,469.64 508.46,469.62 507.96,469.71 507.47,470.33 506.97,469.76 506.48,469.99 505.98,470.16 505.49,470.52 504.99,470.39 504.5,470.65 504,470.73 503.51,471.18 503.01,470.88 502.52,471.03 502.02,471.54 501.53,471.69 501.03,471.51 500.54,471.62 500.04,471.67 499.54,471.83 499.05,471.92 498.55,472.06 498.06,472.08 497.56,472.63 497.07,472.59 496.57,472.27 496.08,472.8 495.58,472.73 495.09,472.84 494.59,472.72 494.1,473.29 493.6,472.93 493.11,473.03 492.61,473.46 492.11,473.98 491.62,473.56 491.12,473.64 490.63,474.03 490.13,473.91 489.64,474.04 489.14,474.17 488.65,474.44 488.15,474.75 487.66,474.86 487.16,474.94 486.67,475.32 486.17,475.1 485.68,475.48 485.18,475.42 484.69,475.53 484.19,476.13 483.69,476.56 483.2,476.57 482.7,476.08 482.21,475.96 481.71,476.2 481.22,476.09 480.72,476.16 480.23,476.25 479.73,476.77 479.24,476.43 478.74,476.56 478.25,476.71 477.75,476.68 477.26,476.77 476.76,477.59 476.26,476.93 475.77,477.18 475.27,477.67 474.78,477.28 474.28,477.91 473.79,478.35 473.29,477.68 472.8,478.35 472.3,477.81 471.81,478.23 471.31,478.14 470.82,478.59 470.32,478.58 469.83,478.45 469.33,478.44 468.83,478.61 468.34,478.74 467.84,478.61 467.35,478.86 466.85,478.88 466.36,478.89 465.86,479 465.37,479.03 464.87,479.19 464.38,479.28 463.88,479.27 463.39,479.62 462.89,479.8 462.4,480.36 461.9,479.83 461.41,479.8 460.91,480.29 460.41,480.08 459.92,480.17 459.42,480.31 458.93,480.39 458.43,480.91 457.94,480.6 457.44,480.76 456.95,480.86 456.45,480.87 455.96,481.1 455.46,480.93 454.97,481.44 454.47,481.14 453.98,481.82 453.48,481.26 452.98,481.53 452.49,481.62 451.99,481.34 451.5,481.46 451,481.57 450.51,482.52 450.01,482.07 449.52,482.8 449.02,482.28 448.53,482.25 448.03,482.39 447.54,482.5 447.04,482.64 446.55,482.8 446.05,482.83 445.56,483.04 445.06,483.47 444.56,483.18 444.07,483.33 443.57,483.62 443.08,484.18 442.58,483.84 442.09,483.69 441.59,483.75 441.1,483.78 440.6,484.12 440.11,483.94 439.61,484.26 439.12,484.3 438.62,484.51 438.13,485.05 437.63,484.58 437.13,484.73 436.64,485.78 436.14,484.89 435.65,484.99 435.15,484.95 434.66,486.1 434.16,485.16 433.67,485.2 433.17,485.34 432.68,485.59 432.18,485.51 431.69,486.03 431.19,485.72 430.7,485.87 430.2,486.14 429.7,486.1 429.21,486.46 428.71,486.32 428.22,486.39 427.72,486.5 427.23,486.51 426.73,486.52 426.24,487.18 425.74,487.07 425.25,486.85 424.75,487.03 424.26,487.67 423.76,487.09 423.27,487.53 422.77,487.75 422.28,487.41 421.78,488.11 421.28,487.77 420.79,487.72 420.29,487.83 419.8,488.14 419.3,487.86 418.81,488.01" fill="#e2609e" stroke="#e2609e" stroke-width="0.4" stroke-linejoin="round"/>
<line x1="418.7" y1="483.8" x2="655" y2="439.6" stroke="#171717" stroke-width="2.6" stroke-linecap="round"/>
<polygon points="418.81,506.26 419.3,506.34 419.8,506.54 420.29,506.36 420.79,506.28 421.28,506.21 421.78,506.18 422.28,505.99 422.77,505.48 423.27,505.37 423.76,505.58 424.26,505.4 424.75,505.26 425.25,505.06 425.74,504.96 426.24,504.83 426.73,504.85 427.23,504.57 427.72,504.41 428.22,504.38 428.71,504.34 429.21,504.41 429.7,504.34 430.2,504.19 430.7,504.28 431.19,504.08 431.69,503.59 432.18,503.11 432.68,503.09 433.17,503.37 433.67,503.48 434.16,503.19 434.66,502.99 435.15,503.04 435.65,502.97 436.14,502.44 436.64,502.38 437.13,501.85 437.63,501.61 438.13,501.66 438.62,501.95 439.12,501.78 439.61,501.52 440.11,501.37 440.6,501.39 441.1,501.23 441.59,501.37 442.09,501.44 442.58,501.45 443.08,501.6 443.57,501.29 444.07,501.13 444.56,501.19 445.06,501.08 445.56,500.94 446.05,500.85 446.55,500.52 447.04,500.34 447.54,499.99 448.03,499.89 448.53,500.07 449.02,499.96 449.52,499.89 450.01,499.59 450.51,499.43 451,499.6 451.5,499.57 451.99,499.44 452.49,499.37 452.98,499.15 453.48,498.86 453.98,498.86 454.47,498.98 454.97,498.65 455.46,498.57 455.96,498.76 456.45,498.81 456.95,498.13 457.44,498.25 457.94,497.97 458.43,497.84 458.93,497.98 459.42,497.81 459.92,497.87 460.41,497.83 460.91,497.45 461.41,497.59 461.9,497.27 462.4,497 462.89,497.01 463.39,496.93 463.88,496.6 464.38,496.68 464.87,496.72 465.37,496.51 465.86,496.38 466.36,496.12 466.85,496.23 467.35,495.94 467.84,495.89 468.34,495.75 468.83,495.14 469.33,495.3 469.83,495.56 470.32,495.43 470.82,495.45 471.31,495.52 471.81,495.33 472.3,494.99 472.8,494.88 473.29,494.99 473.79,495.2 474.28,495.04 474.78,494.88 475.27,494.7 475.77,494.63 476.26,494.4 476.76,494.09 477.26,493.87 477.75,493.79 478.25,493.85 478.74,493.74 479.24,493.3 479.73,493.28 480.23,493.12 480.72,492.96 481.22,492.69 481.71,492.78 482.21,492.58 482.7,492.17 483.2,492.49 483.69,492.43 484.19,492.18 484.69,492.42 485.18,492.07 485.68,492.06 486.17,492.02 486.67,492.01 487.16,491.55 487.66,491.31 488.15,491.53 488.65,491.48 489.14,491.11 489.64,491.1 490.13,490.78 490.63,490.73 491.12,490.52 491.62,490.62 492.11,490.31 492.61,490.45 493.11,490.65 493.6,490.32 494.1,490.29 494.59,490.13 495.09,490 495.58,489.93 496.08,489.46 496.57,488.95 497.07,489.22 497.56,489.36 498.06,489.27 498.55,488.72 499.05,488.82 499.54,488.69 500.04,488.73 500.54,488.3 501.03,488.38 501.53,488.47 502.02,488.52 502.52,488.26 503.01,487.9 503.51,488.08 504,487.63 504.5,487.43 504.99,487.86 505.49,487.25 505.98,487.21 506.48,487.42 506.97,487.18 507.47,486.69 507.96,486.31 508.46,486.41 508.96,486.79 509.45,486.42 509.95,486.1 510.44,486.41 510.94,485.97 511.43,486.13 511.93,485.52 512.42,485.88 512.92,485.7 513.41,485.84 513.91,484.78 514.4,484.54 514.9,485.21 515.39,484.93 515.89,484.88 516.39,485.27 516.88,485.08 517.38,484.63 517.87,484.19 518.37,483.4 518.86,483.92 519.36,483.62 519.85,483.89 520.35,483.42 520.84,483.4 521.34,482.81 521.83,482.85 522.33,483.48 522.82,483.08 523.32,482.48 523.82,482.64 524.31,482.66 524.81,482.57 525.3,482.77 525.8,481.88 526.29,481.6 526.79,482.61 527.28,482.11 527.78,482.46 528.27,482.14 528.77,481.45 529.26,481.64 529.76,481.54 530.25,481.17 530.75,481.52 531.24,481.49 531.74,480.72 532.24,480.81 532.73,481.12 533.23,480.34 533.72,479.74 534.22,480.22 534.71,479.83 535.21,479.71 535.7,480.14 536.2,479.87 536.69,479.23 537.19,478.74 537.68,477.71 538.18,479.12 538.67,478.82 539.17,478.99 539.67,478.17 540.16,479.01 540.66,478.84 541.15,478.82 541.65,477.69 542.14,479.11 542.64,477.61 543.13,477.33 543.63,476.51 544.12,474.82 544.62,476.14 545.11,477.58 545.61,475.3 546.1,477.22 546.6,477.23 547.1,476.35 547.59,473.64 548.09,477.14 548.58,477.35 549.08,476.68 549.57,473.37 550.07,474.93 550.56,474.03 551.06,474.72 551.55,475.96 552.05,475.37 552.54,474 553.04,474.87 553.53,473.19 554.03,474.41 554.52,474.9 555.02,476.65 555.52,476.09 556.01,474.79 556.51,473.29 557,473.11 557.5,473.6 557.99,472.8 558.49,474.8 558.98,474.66 559.48,474.54 559.97,473.66 560.47,474.93 560.96,474.64 561.46,474.58 561.95,473.31 562.45,473.46 562.95,472.44 563.44,474.08 563.94,474.22 564.43,474.6 564.93,473.66 565.42,474.11 565.92,474.38 566.41,472.78 566.91,472.09 567.4,471.71 567.9,472.34 568.39,472.78 568.89,472.64 569.38,472.9 569.88,473.26 570.37,472.39 570.87,472.22 571.37,472.02 571.86,473.22 572.36,471.51 572.85,472.73 573.35,472.23 573.84,471.01 574.34,471 574.83,470.4 575.33,470.89 575.82,469.97 576.32,471.29 576.81,471.84 577.31,472.19 577.8,471.5 578.3,471.56 578.8,471.5 579.29,470.87 579.79,470.68 580.28,470.7 580.78,470.96 581.27,469.71 581.77,471.02 582.26,469.88 582.76,469.78 583.25,470.51 583.75,469.13 584.24,469.93 584.74,469.39 585.23,469.44 585.73,469.68 586.23,470.2 586.72,469.26 587.22,469.14 587.71,469.27 588.21,468.32 588.7,467.61 589.2,466.15 589.69,467.42 590.19,467.76 590.68,468.34 591.18,468.93 591.67,468.22 592.17,468.14 592.66,467.4 593.16,468.04 593.65,466.61 594.15,467.32 594.65,467.88 595.14,467.77 595.64,467.6 596.13,467.72 596.63,468 597.12,467.05 597.62,467.56 598.11,466.5 598.61,464.87 599.1,466.91 599.6,466 600.09,465.97 600.59,466.83 601.08,466.61 601.58,466.73 602.08,466.45 602.57,464.78 603.07,463.46 603.56,465.23 604.06,465.19 604.55,465.62 605.05,465.56 605.54,465.52 606.04,465.78 606.53,465.92 607.03,466.34 607.52,465.45 608.02,464.62 608.51,464.99 609.01,464.57 609.5,465.64 610,464.21 610.5,464.94 610.99,465 611.49,464.68 611.98,463.51 612.48,463.91 612.97,463.99 613.47,464.67 613.96,464.48 614.46,463.95 614.95,464.2 615.45,463.12 615.94,462.03 616.44,459.88 616.93,462.49 617.43,463.63 617.93,463.82 618.42,462.77 618.92,463.05 619.41,463.2 619.91,463.51 620.4,462.76 620.9,462.42 621.39,461.96 621.89,462.29 622.38,462.17 622.88,462.46 623.37,462.78 623.87,461.82 624.36,462.66 624.86,462.07 625.36,462.02 625.85,459.95 626.35,459.23 626.84,459.11 627.34,458.61 627.83,460.47 628.33,461.33 628.82,460.67 629.32,461.82 629.81,461.96 630.31,460.95 630.8,460.89 631.3,460.51 631.79,459.69 632.29,459.43 632.78,458.78 633.28,459.3 633.78,459.27 634.27,459.59 634.77,459.69 635.26,458.89 635.76,459.86 636.25,459.67 636.75,460.07 637.24,459.73 637.74,459.34 638.23,458.59 638.73,458.58 639.22,459.19 639.72,459.22 640.21,459.32 640.71,458.83 641.21,458.4 641.7,458.96 642.2,459.07 642.69,458.47 643.19,458.01 643.68,458.5 644.18,458.02 644.67,457.94 645.17,457.46 645.66,456.86 646.16,457.65 646.65,457.97 647.15,457.98 647.64,457.59 648.14,457.59 648.64,457.44 649.13,457.48 649.63,456.4 650.12,456.51 650.62,455.69 651.11,456.5 651.61,456.78 652.1,456.79 652.6,456.32 653.09,455.89 653.59,456.7 654.08,455.47 654.58,456.23 655.07,456.53 655.57,456.38 656.06,456.32 656.06,464.38 655.57,464.35 655.07,464.53 654.58,464.66 654.08,466.06 653.59,465.18 653.09,464.82 652.6,464.92 652.1,465.25 651.61,465.1 651.11,465.14 650.62,465.33 650.12,465.97 649.63,465.8 649.13,465.28 648.64,465.67 648.14,465.26 647.64,465.37 647.15,465.64 646.65,465.61 646.16,466.03 645.66,466.08 645.17,465.92 644.67,466.24 644.18,466.51 643.68,466.26 643.19,466.35 642.69,466.6 642.2,467.1 641.7,466.81 641.21,466.92 640.71,467.71 640.21,467.1 639.72,467.91 639.22,467.37 638.73,467.52 638.23,467.6 637.74,467.77 637.24,468.16 636.75,467.99 636.25,468.15 635.76,468.25 635.26,468.36 634.77,468.69 634.27,468.41 633.78,468.69 633.28,468.52 632.78,468.77 632.29,468.75 631.79,468.92 631.3,469.44 630.8,469.16 630.31,469.25 629.81,469.72 629.32,469.9 628.82,469.8 628.33,470.33 627.83,469.96 627.34,470.76 626.84,470.09 626.35,470.46 625.85,470.06 625.36,469.95 624.86,470.02 624.36,470.31 623.87,470.23 623.37,471.14 622.88,471.39 622.38,470.56 621.89,471.37 621.39,471.15 620.9,471.04 620.4,471.22 619.91,471.3 619.41,471.57 618.92,471.86 618.42,471.39 617.93,472.23 617.43,471.64 616.93,472.41 616.44,472 615.94,472.72 615.45,471.94 614.95,473.56 614.46,472.12 613.96,472.56 613.47,473.49 612.97,472.64 612.48,472.97 611.98,472.54 611.49,472.7 610.99,473.42 610.5,472.91 610,473.12 609.5,473.52 609.01,474.77 608.51,475.23 608.02,473.57 607.52,474.23 607.03,473.79 606.53,474.61 606.04,474.45 605.54,474.06 605.05,473.95 604.55,474.65 604.06,475.42 603.56,474.34 603.07,474.53 602.57,475.93 602.08,474.63 601.58,474.67 601.08,474.88 600.59,476.29 600.09,476.4 599.6,475.21 599.1,475.22 598.61,476.05 598.11,476.51 597.62,476.27 597.12,476.81 596.63,477.94 596.13,476.42 595.64,475.71 595.14,475.77 594.65,475.96 594.15,477.15 593.65,476.18 593.16,476.32 592.66,476.35 592.17,479.07 591.67,477.75 591.18,476.66 590.68,479.3 590.19,476.97 589.69,477.47 589.2,477.17 588.7,477.29 588.21,477.48 587.71,477.99 587.22,477.61 586.72,479.28 586.23,477.86 585.73,478.45 585.23,478.3 584.74,479.42 584.24,478.11 583.75,478.12 583.25,478.2 582.76,478.3 582.26,478.4 581.77,478.56 581.27,479.32 580.78,478.83 580.28,479.26 579.79,479.11 579.29,479.15 578.8,479.92 578.3,480.89 577.8,480.2 577.31,480.35 576.81,482.18 576.32,479.88 575.82,479.92 575.33,480.02 574.83,480.28 574.34,480.18 573.84,481.17 573.35,480.8 572.85,480.6 572.36,481.32 571.86,480.65 571.37,480.85 570.87,480.68 570.37,480.81 569.88,482.04 569.38,480.98 568.89,482.48 568.39,481.73 567.9,481.86 567.4,482.45 566.91,481.63 566.41,481.74 565.92,481.9 565.42,482.31 564.93,482.62 564.43,482.39 563.94,483.16 563.44,482.59 562.95,482.58 562.45,483.36 561.95,484.07 561.46,482.84 560.96,483 560.47,483.46 559.97,483.06 559.48,483.4 558.98,484.25 558.49,484.06 557.99,483.3 557.5,483.7 557,484.97 556.51,484.44 556.01,483.73 555.52,486.86 555.02,486.71 554.52,485.49 554.03,487.21 553.53,484.34 553.04,485.02 552.54,484.59 552.05,486.57 551.55,484.64 551.06,484.76 550.56,486.48 550.07,488.15 549.57,488.34 549.08,488.98 548.58,487.91 548.09,485.08 547.59,488.92 547.1,489.56 546.6,488.53 546.1,485.45 545.61,490.71 545.11,485.72 544.62,486.31 544.12,485.96 543.63,486.77 543.13,486.97 542.64,489.55 542.14,488.26 541.65,486.32 541.15,488.66 540.66,486.84 540.16,487.34 539.67,487.52 539.17,486.77 538.67,486.98 538.18,487.02 537.68,487.5 537.19,487.42 536.69,487.03 536.2,487.31 535.7,487.19 535.21,487.5 534.71,487.64 534.22,487.75 533.72,487.64 533.23,487.85 532.73,487.91 532.24,488.03 531.74,488.38 531.24,488.53 530.75,488.42 530.25,488.59 529.76,489.04 529.26,488.77 528.77,489.59 528.27,489.2 527.78,489.11 527.28,489.09 526.79,489.26 526.29,489.68 525.8,489.53 525.3,489.8 524.81,489.99 524.31,489.95 523.82,489.95 523.32,489.87 522.82,490.21 522.33,490.13 521.83,490.65 521.34,490.52 520.84,490.41 520.35,490.51 519.85,490.55 519.36,491.02 518.86,491.21 518.37,491.01 517.87,491.14 517.38,491.34 516.88,491.11 516.39,491.7 515.89,491.4 515.39,491.43 514.9,491.57 514.4,491.76 513.91,491.96 513.41,492.63 512.92,491.86 512.42,492.58 511.93,492.05 511.43,492.1 510.94,492.6 510.44,492.53 509.95,492.38 509.45,492.55 508.96,493.16 508.46,493.67 507.96,492.83 507.47,493.16 506.97,493.69 506.48,493.43 505.98,493.57 505.49,493.47 504.99,493.36 504.5,493.36 504,494.41 503.51,493.68 503.01,494.19 502.52,494.07 502.02,494.06 501.53,494.08 501.03,494.47 500.54,494.08 500.04,494.27 499.54,494.29 499.05,494.72 498.55,494.51 498.06,494.71 497.56,494.81 497.07,494.69 496.57,494.79 496.08,494.98 495.58,495.17 495.09,495.28 494.59,495.34 494.1,496.01 493.6,495.98 493.11,495.69 492.61,495.87 492.11,495.88 491.62,496.08 491.12,496.11 490.63,496.08 490.13,496.19 489.64,496.5 489.14,496.45 488.65,496.45 488.15,496.55 487.66,496.61 487.16,496.84 486.67,496.77 486.17,496.79 485.68,496.9 485.18,497.57 484.69,497.2 484.19,497.39 483.69,497.1 483.2,497.24 482.7,497.24 482.21,497.57 481.71,497.42 481.22,497.62 480.72,497.64 480.23,498.12 479.73,498.35 479.24,498.11 478.74,498.55 478.25,498.75 477.75,498.71 477.26,498.74 476.76,499.19 476.26,499.34 475.77,499.38 475.27,499.51 474.78,499.5 474.28,499.96 473.79,500.16 473.29,499.98 472.8,499.8 472.3,499.83 471.81,500.09 471.31,500.31 470.82,500.11 470.32,500.36 469.83,500.36 469.33,500.17 468.83,500.52 468.34,500.41 467.84,500.78 467.35,500.68 466.85,500.75 466.36,500.92 465.86,500.99 465.37,501.41 464.87,501.29 464.38,502.15 463.88,501.59 463.39,501.66 462.89,502.19 462.4,501.76 461.9,501.97 461.41,502.36 460.91,502.29 460.41,502.96 459.92,502.44 459.42,502.48 458.93,502.44 458.43,502.56 457.94,502.7 457.44,503.43 456.95,503.43 456.45,503.65 455.96,503.38 455.46,503.84 454.97,503.42 454.47,504.28 453.98,503.65 453.48,503.8 452.98,503.97 452.49,503.97 451.99,504.09 451.5,504.16 451,504.82 450.51,504.16 450.01,504.53 449.52,504.39 449.02,504.78 448.53,504.91 448.03,504.8 447.54,505 447.04,505.18 446.55,505.47 446.05,505.57 445.56,505.74 445.06,505.78 444.56,506.25 444.07,506.16 443.57,506.31 443.08,506.2 442.58,507.19 442.09,506.1 441.59,506.64 441.1,506.15 440.6,506.21 440.11,506.63 439.61,506.98 439.12,506.47 438.62,506.7 438.13,506.66 437.63,506.84 437.13,507.17 436.64,508.15 436.14,507.42 435.65,508.15 435.15,507.57 434.66,507.88 434.16,507.76 433.67,507.91 433.17,508.04 432.68,508.39 432.18,508.75 431.69,508.63 431.19,509.33 430.7,509.22 430.2,509.47 429.7,508.97 429.21,509.17 428.71,509.65 428.22,509.62 427.72,509.33 427.23,509.31 426.73,510.22 426.24,509.72 425.74,509.82 425.25,509.71 424.75,509.89 424.26,510.38 423.76,510.35 423.27,510.77 422.77,510.56 422.28,511.21 421.78,510.95 421.28,511.32 420.79,511.53 420.29,511.38 419.8,511.08 419.3,511.35 418.81,511.27" fill="#3cb3e4" stroke="#3cb3e4" stroke-width="0.4" stroke-linejoin="round"/>
<line x1="418.7" y1="509.2" x2="655" y2="461.6" stroke="#171717" stroke-width="2.6" stroke-linecap="round"/>
<polygon points="418.81,533.14 419.3,532.82 419.8,532.74 420.29,532.93 420.79,532.63 421.28,532.57 421.78,532.33 422.28,531.85 422.77,532.22 423.27,531.85 423.76,532.05 424.26,531.99 424.75,531.96 425.25,531.65 425.74,531.83 426.24,531.78 426.73,531.76 427.23,531.43 427.72,531.22 428.22,531.24 428.71,531.13 429.21,531.22 429.7,531.07 430.2,531 430.7,530.86 431.19,530.71 431.69,530.23 432.18,530.05 432.68,529.72 433.17,529.71 433.67,529.59 434.16,529.38 434.66,529.51 435.15,529.26 435.65,529.54 436.14,529.63 436.64,529.43 437.13,529.01 437.63,529.24 438.13,529.14 438.62,528.8 439.12,528.54 439.61,528.99 440.11,528.49 440.6,528.69 441.1,528.63 441.59,528.08 442.09,528.26 442.58,528.08 443.08,528.26 443.57,527.88 444.07,527.53 444.56,527.71 445.06,527.54 445.56,527.36 446.05,527.69 446.55,527.62 447.04,527.5 447.54,527.28 448.03,527 448.53,526.74 449.02,526.41 449.52,526.57 450.01,526.39 450.51,526.78 451,526.43 451.5,526.01 451.99,525.86 452.49,526.08 452.98,526.1 453.48,526.04 453.98,525.74 454.47,525.66 454.97,525.83 455.46,525.71 455.96,525.66 456.45,525.04 456.95,525.09 457.44,525.09 457.94,525.09 458.43,525.08 458.93,525.09 459.42,525.09 459.92,524.81 460.41,524.52 460.91,524.49 461.41,524.35 461.9,524.02 462.4,524.01 462.89,523.9 463.39,523.62 463.88,523.45 464.38,523.79 464.87,523.64 465.37,523.81 465.86,523.79 466.36,523.77 466.85,523.6 467.35,523.48 467.84,523.35 468.34,523.41 468.83,522.9 469.33,522.81 469.83,522.7 470.32,522.62 470.82,522.6 471.31,522.25 471.81,522.15 472.3,521.68 472.8,521.97 473.29,521.95 473.79,521.64 474.28,521.85 474.78,521.63 475.27,521.61 475.77,521.51 476.26,521.2 476.76,521.31 477.26,521.22 477.75,520.86 478.25,520.75 478.74,520.79 479.24,520.55 479.73,520.47 480.23,520.57 480.72,520.07 481.22,520.13 481.71,520.13 482.21,519.62 482.7,519.61 483.2,519.46 483.69,519.58 484.19,519.16 484.69,519 485.18,518.74 485.68,518.73 486.17,518.98 486.67,519 487.16,518.78 487.66,518.94 488.15,518.7 488.65,518.57 489.14,518.55 489.64,518.41 490.13,518.34 490.63,518.31 491.12,518.15 491.62,517.98 492.11,517.72 492.61,516.98 493.11,516.74 493.6,517.06 494.1,517.02 494.59,516.48 495.09,516.54 495.58,516.34 496.08,516.2 496.57,515.92 497.07,516.25 497.56,516.12 498.06,516.11 498.55,515.92 499.05,515.98 499.54,515.71 500.04,515.63 500.54,515.82 501.03,515.38 501.53,514.87 502.02,515.07 502.52,514.77 503.01,514.65 503.51,514.35 504,513.88 504.5,513.88 504.99,514.24 505.49,514.2 505.98,514.16 506.48,513.99 506.97,513.78 507.47,513.08 507.96,512.89 508.46,512.89 508.96,513.28 509.45,512.98 509.95,512.93 510.44,513.05 510.94,512.77 511.43,512.78 511.93,513.01 512.42,512.4 512.92,511.8 513.41,512.36 513.91,512.33 514.4,512.06 514.9,511.57 515.39,511.79 515.89,512.07 516.39,511.67 516.88,511.71 517.38,511.64 517.87,511.42 518.37,511.64 518.86,511.14 519.36,510.85 519.85,510.65 520.35,510.84 520.84,510.46 521.34,510.7 521.83,510.5 522.33,509.66 522.82,509.64 523.32,508.79 523.82,509.21 524.31,509.68 524.81,509.36 525.3,509.62 525.8,509.44 526.29,509.64 526.79,509.47 527.28,509.26 527.78,508.43 528.27,509.12 528.77,509.47 529.26,508.37 529.76,508.62 530.25,507.96 530.75,507.32 531.24,507.34 531.74,507.56 532.24,507.89 532.73,508.47 533.23,508.28 533.72,508.1 534.22,506.57 534.71,507.21 535.21,507.03 535.7,506.88 536.2,507.15 536.69,507.1 537.19,506.4 537.68,505.98 538.18,506.4 538.67,506.45 539.17,506.16 539.67,506.09 540.16,505.55 540.66,506.61 541.15,505.43 541.65,504.79 542.14,505.42 542.64,504.43 543.13,505.5 543.63,504.7 544.12,503.83 544.62,504.66 545.11,503.58 545.61,503.68 546.1,503.39 546.6,504.29 547.1,503.76 547.59,502.61 548.09,503.74 548.58,503.31 549.08,503.68 549.57,503.15 550.07,503.34 550.56,503.23 551.06,500.86 551.55,501.59 552.05,501.63 552.54,501.31 553.04,502.77 553.53,501.66 554.03,501.32 554.52,500.63 555.02,501.31 555.52,499.84 556.01,502.38 556.51,501.32 557,501.27 557.5,501.53 557.99,501.79 558.49,501.95 558.98,501.72 559.48,500.58 559.97,501.8 560.47,501.6 560.96,501.42 561.46,501.34 561.95,500.9 562.45,499.9 562.95,500.7 563.44,500.03 563.94,501.11 564.43,501.21 564.93,500.52 565.42,499.92 565.92,500.06 566.41,499.81 566.91,499.07 567.4,499.96 567.9,499.4 568.39,499.36 568.89,499.71 569.38,499.34 569.88,499.59 570.37,499.36 570.87,499.09 571.37,499.18 571.86,498.81 572.36,498.53 572.85,498.74 573.35,498.16 573.84,498.62 574.34,497.16 574.83,497.8 575.33,496.83 575.82,496.71 576.32,496.29 576.81,497.45 577.31,496.55 577.8,498.15 578.3,498.05 578.8,497.4 579.29,497.17 579.79,496.67 580.28,496.54 580.78,497.41 581.27,497.64 581.77,496.54 582.26,495.96 582.76,497.1 583.25,496.72 583.75,496.04 584.24,496.91 584.74,495.09 585.23,494.63 585.73,495.1 586.23,496.11 586.72,494.81 587.22,494.87 587.71,494.94 588.21,494.43 588.7,494.27 589.2,495.72 589.69,495.01 590.19,494.64 590.68,495.39 591.18,495.25 591.67,493.6 592.17,494.13 592.66,493.01 593.16,492.91 593.65,493.22 594.15,493 594.65,494.14 595.14,493.92 595.64,493.47 596.13,494 596.63,493.74 597.12,493.16 597.62,492.8 598.11,493.56 598.61,493.51 599.1,493.43 599.6,493.6 600.09,492.66 600.59,493.28 601.08,493.3 601.58,492.66 602.08,492.12 602.57,491.86 603.07,491.48 603.56,490.55 604.06,491.29 604.55,491.5 605.05,490.22 605.54,489.01 606.04,489.87 606.53,490.71 607.03,491.15 607.52,491.04 608.02,491.6 608.51,491.26 609.01,491.13 609.5,491.01 610,490.04 610.5,489.25 610.99,487.81 611.49,488.29 611.98,489.1 612.48,490.1 612.97,488.25 613.47,489.62 613.96,489.68 614.46,490.03 614.95,489.67 615.45,488.74 615.94,488.71 616.44,489.31 616.93,489.44 617.43,489.74 617.93,489.5 618.42,489.14 618.92,489.26 619.41,489.8 619.91,488.94 620.4,488.22 620.9,488.51 621.39,488.2 621.89,488.33 622.38,487.4 622.88,487.52 623.37,487.26 623.87,487.21 624.36,487.35 624.86,486.34 625.36,487.03 625.85,488.05 626.35,486.66 626.84,486.07 627.34,485.92 627.83,487.17 628.33,487.06 628.82,486.92 629.32,485.28 629.81,485.09 630.31,485.52 630.8,484.88 631.3,485.58 631.79,485.09 632.29,485.2 632.78,484.46 633.28,485.13 633.78,485.1 634.27,485.76 634.77,485.23 635.26,485.27 635.76,485.29 636.25,484.91 636.75,484.56 637.24,483.88 637.74,484.57 638.23,484.54 638.73,484.74 639.22,485.2 639.72,485.26 640.21,484.97 640.71,484.13 641.21,484.18 641.7,484.91 642.2,485.17 642.69,484.32 643.19,484.83 643.68,483.84 644.18,484.24 644.67,484.3 645.17,483.44 645.66,483.38 646.16,483.97 646.65,482.64 647.15,482.38 647.64,481.93 648.14,482.32 648.64,482.15 649.13,482.26 649.63,482.24 650.12,482.74 650.62,481.79 651.11,481.43 651.61,481.42 652.1,481.61 652.6,481.23 653.09,481.66 653.59,482.04 654.08,481.54 654.58,481.77 655.07,481.16 655.57,480.38 656.06,481.59 656.06,489.58 655.57,489.69 655.07,489.66 654.58,489.61 654.08,489.57 653.59,489.67 653.09,490.07 652.6,489.93 652.1,490.3 651.61,490.34 651.11,490.84 650.62,490.14 650.12,490.29 649.63,490.85 649.13,490.63 648.64,490.68 648.14,490.86 647.64,491 647.15,491.08 646.65,491.24 646.16,491.93 645.66,491.56 645.17,492.53 644.67,492.07 644.18,492.28 643.68,492.73 643.19,492.36 642.69,492.52 642.2,492.58 641.7,492.73 641.21,493.02 640.71,493.18 640.21,493.23 639.72,492.86 639.22,492.79 638.73,492.82 638.23,493.63 637.74,492.97 637.24,493.85 636.75,493.1 636.25,493.18 635.76,493.39 635.26,494.35 634.77,493.47 634.27,493.61 633.78,493.83 633.28,493.98 632.78,494.33 632.29,494.21 631.79,495 631.3,494.36 630.8,494.5 630.31,494.88 629.81,494.73 629.32,495.62 628.82,495.33 628.33,495.02 627.83,495.07 627.34,495.25 626.84,495.36 626.35,495.69 625.85,495.51 625.36,495.7 624.86,495.69 624.36,495.88 623.87,495.92 623.37,496.41 622.88,496.18 622.38,496.32 621.89,496.76 621.39,496.71 620.9,496.68 620.4,496.96 619.91,497.73 619.41,497.43 618.92,497.2 618.42,497.25 617.93,497.42 617.43,497.49 616.93,497.58 616.44,497.73 615.94,497.75 615.45,498.5 614.95,498.15 614.46,497.8 613.96,497.92 613.47,498.71 612.97,499.55 612.48,498.25 611.98,498.77 611.49,498.57 610.99,498.5 610.5,499.64 610,498.88 609.5,499 609.01,499.61 608.51,499.1 608.02,499.21 607.52,500.07 607.03,499.42 606.53,500.29 606.04,499.62 605.54,499.82 605.05,499.94 604.55,500.04 604.06,500.4 603.56,500.41 603.07,501.1 602.57,500.68 602.08,501.2 601.58,500.86 601.08,501.13 600.59,501.03 600.09,502.49 599.6,501.16 599.1,502.97 598.61,501.38 598.11,501.49 597.62,501.64 597.12,501.74 596.63,501.91 596.13,502.02 595.64,502.77 595.14,502.95 594.65,503.36 594.15,503.93 593.65,503.15 593.16,502.6 592.66,504.34 592.17,502.75 591.67,503.85 591.18,504.08 590.68,503.76 590.19,503.86 589.69,502.96 589.2,503.13 588.7,503.24 588.21,504.53 587.71,503.58 587.22,505.92 586.72,503.78 586.23,505.01 585.73,505.8 585.23,504.96 584.74,504.44 584.24,504.63 583.75,504.76 583.25,505.29 582.76,504.96 582.26,505.93 581.77,505 581.27,505.12 580.78,507.68 580.28,505.41 579.79,505.38 579.29,505.74 578.8,507.71 578.3,507.52 577.8,506.11 577.31,506.12 576.81,505.88 576.32,507.25 575.82,506.08 575.33,506.09 574.83,506.81 574.34,506.39 573.84,507.43 573.35,507.42 572.85,506.95 572.36,507.62 571.86,507.77 571.37,507.37 570.87,507.87 570.37,507.44 569.88,507.73 569.38,507.59 568.89,508.05 568.39,507.69 567.9,509.14 567.4,508.31 566.91,508.58 566.41,508.04 565.92,508.23 565.42,508.33 564.93,508.67 564.43,508.54 563.94,508.74 563.44,508.87 562.95,508.92 562.45,509.05 561.95,509.2 561.46,510.2 560.96,509.29 560.47,509.42 559.97,509.45 559.48,512.27 558.98,510.32 558.49,510.45 557.99,510.27 557.5,510.71 557,511.95 556.51,510.24 556.01,512.32 555.52,511.05 555.02,511.08 554.52,511.4 554.03,510.87 553.53,510.98 553.04,511.06 552.54,511.56 552.05,511.24 551.55,515.83 551.06,511.54 550.56,515.38 550.07,511.9 549.57,511.96 549.08,512.06 548.58,513.85 548.09,514.96 547.59,515.04 547.1,512.54 546.6,515.56 546.1,512.65 545.61,513 545.11,515.01 544.62,513.35 544.12,513.09 543.63,516.72 543.13,515.27 542.64,513.65 542.14,513.41 541.65,515.85 541.15,514.08 540.66,514.65 540.16,513.75 539.67,513.76 539.17,514.79 538.67,513.93 538.18,514.32 537.68,514.04 537.19,514.64 536.69,514.18 536.2,514.46 535.7,514.4 535.21,514.47 534.71,514.92 534.22,514.83 533.72,515.8 533.23,516.14 532.73,515.33 532.24,515.45 531.74,515.73 531.24,515.91 530.75,516.13 530.25,516.28 529.76,515.96 529.26,516.06 528.77,516.19 528.27,516.04 527.78,516.14 527.28,516.36 526.79,516.54 526.29,516.81 525.8,516.76 525.3,516.52 524.81,516.88 524.31,516.69 523.82,516.78 523.32,516.84 522.82,517.56 522.33,517.12 521.83,518.12 521.34,517.46 520.84,517.41 520.35,517.74 519.85,517.62 519.36,518.03 518.86,517.93 518.37,518.08 517.87,518.26 517.38,518.17 516.88,518.76 516.39,518.5 515.89,518.85 515.39,518.49 514.9,519.14 514.4,518.86 513.91,519.3 513.41,518.84 512.92,519.11 512.42,519.64 511.93,519.15 511.43,519.19 510.94,519.66 510.44,519.96 509.95,519.4 509.45,519.45 508.96,519.59 508.46,519.64 507.96,519.81 507.47,519.84 506.97,519.99 506.48,520.08 505.98,520.22 505.49,520.37 504.99,520.9 504.5,520.58 504,521.08 503.51,520.94 503.01,521.5 502.52,521.18 502.02,521.2 501.53,521.34 501.03,521.48 500.54,521.67 500.04,521.65 499.54,522.05 499.05,522.14 498.55,521.97 498.06,521.94 497.56,522.92 497.07,522.1 496.57,522.65 496.08,522.77 495.58,522.47 495.09,522.74 494.59,522.72 494.1,522.69 493.6,522.83 493.11,523.35 492.61,523.1 492.11,523.8 491.62,524.31 491.12,524.23 490.63,523.86 490.13,524.14 489.64,523.98 489.14,524.12 488.65,524.09 488.15,524.83 487.66,524.23 487.16,524.44 486.67,524.57 486.17,524.38 485.68,525.16 485.18,524.76 484.69,524.64 484.19,524.99 483.69,525.16 483.2,525.29 482.7,525.71 482.21,525.32 481.71,526.01 481.22,525.51 480.72,525.52 480.23,525.72 479.73,525.74 479.24,525.89 478.74,526.14 478.25,526.6 477.75,526.19 477.26,526.34 476.76,526.62 476.26,526.81 475.77,526.65 475.27,527.87 474.78,526.88 474.28,526.95 473.79,527.35 473.29,527.36 472.8,527.25 472.3,527.31 471.81,527.39 471.31,527.71 470.82,527.68 470.32,527.94 469.83,528.06 469.33,528.64 468.83,528.5 468.34,528.5 467.84,528.55 467.35,528.65 466.85,528.79 466.36,529.42 465.86,529.07 465.37,530.03 464.87,529.5 464.38,528.94 463.88,529.03 463.39,529.16 462.89,529.3 462.4,529.4 461.9,529.94 461.41,529.58 460.91,529.65 460.41,529.92 459.92,530.03 459.42,530.33 458.93,530.33 458.43,530.5 457.94,530.59 457.44,530.54 456.95,530.6 456.45,531.18 455.96,530.75 455.46,531.42 454.97,531.36 454.47,531.11 453.98,531.23 453.48,531.45 452.98,531.31 452.49,532.16 451.99,531.72 451.5,531.7 451,532.34 450.51,531.9 450.01,532.06 449.52,531.99 449.02,532.31 448.53,532.22 448.03,532.38 447.54,532.68 447.04,532.98 446.55,532.96 446.05,533.42 445.56,533.11 445.06,533.32 444.56,533.18 444.07,533.23 443.57,533.37 443.08,533.41 442.58,533.47 442.09,533.56 441.59,533.69 441.1,534.26 440.6,533.94 440.11,534.04 439.61,534.32 439.12,534.13 438.62,534.22 438.13,534.3 437.63,534.38 437.13,534.8 436.64,534.98 436.14,534.73 435.65,534.82 435.15,535.28 434.66,535.5 434.16,535.09 433.67,535.49 433.17,536.32 432.68,535.92 432.18,536.01 431.69,535.82 431.19,536.31 430.7,536.55 430.2,536.26 429.7,536.52 429.21,536.83 428.71,536.84 428.22,536.61 427.72,536.54 427.23,536.69 426.73,537.01 426.24,536.85 425.74,536.96 425.25,537.47 424.75,537.57 424.26,537.79 423.76,537.28 423.27,537.63 422.77,537.53 422.28,537.88 421.78,538.22 421.28,538.15 420.79,538.47 420.29,538.04 419.8,538.74 419.3,538.66 418.81,538.89" fill="#5db53a" stroke="#5db53a" stroke-width="0.4" stroke-linejoin="round"/>
<line x1="418.7" y1="538.4" x2="655" y2="486.8" stroke="#171717" stroke-width="2.6" stroke-linecap="round"/>
<rect x="588.5" y="507.6" width="80" height="12.5" fill="#fff"/>
<rect x="588.5" y="519.85" width="80" height="12.5" fill="#fff"/>
<rect x="588.5" y="532.1" width="80" height="12.5" fill="#fff"/>
<line x1="588.9" y1="514.1" x2="615" y2="514.1" stroke="#e2609e" stroke-width="1.9"/>
<text x="616.5" y="518.1" font-size="14" fill="#2e2e2e">40 MHz</text>
<line x1="588.9" y1="526.35" x2="615" y2="526.35" stroke="#3cb3e4" stroke-width="1.9"/>
<text x="616.5" y="530.35" font-size="14" fill="#2e2e2e">42 MHz</text>
<line x1="588.9" y1="538.6" x2="615" y2="538.6" stroke="#5db53a" stroke-width="1.9"/>
<text x="616.5" y="542.6" font-size="14" fill="#2e2e2e">44 MHz</text>
<rect x="398.3" y="429.6" width="276.8" height="120.2" fill="none" stroke="#4a4a4a" stroke-width="1.2"/>
<text x="10.2" y="590.5" font-size="19" font-weight="bold" fill="#1a1a1a">e</text>
<line x1="39.8" y1="613.7" x2="46" y2="613.7" stroke="#4a4a4a" stroke-width="1.2"/>
<text x="26.8" y="619.8" font-size="14" text-anchor="middle" fill="#2e2e2e">1</text>
<line x1="39.8" y1="650.5" x2="46" y2="650.5" stroke="#4a4a4a" stroke-width="1.2"/>
<text x="26.8" y="655.7" font-size="14" text-anchor="middle" fill="#2e2e2e">0.5</text>
<line x1="39.8" y1="687.3" x2="46" y2="687.3" stroke="#4a4a4a" stroke-width="1.2"/>
<text x="26.8" y="691.3" font-size="14" text-anchor="middle" fill="#2e2e2e">0.0</text>
<text x="26.6" y="723.9" font-size="14" text-anchor="middle" fill="#2e2e2e">-0.5</text>
<text x="44.4" y="746.5" font-size="14" text-anchor="middle" fill="#2e2e2e">20</text>
<line x1="124.97" y1="724" x2="124.97" y2="730.5" stroke="#4a4a4a" stroke-width="1.2"/>
<text x="122.7" y="746.5" font-size="14" text-anchor="middle" fill="#2e2e2e">25</text>
<line x1="203.9" y1="724" x2="203.9" y2="730.5" stroke="#4a4a4a" stroke-width="1.2"/>
<text x="205" y="746.5" font-size="14" text-anchor="middle" fill="#2e2e2e">30</text>
<line x1="282.82" y1="724" x2="282.82" y2="730.5" stroke="#4a4a4a" stroke-width="1.2"/>
<text x="283.1" y="746.5" font-size="14" text-anchor="middle" fill="#2e2e2e">35</text>
<line x1="361.75" y1="724" x2="361.75" y2="730.5" stroke="#4a4a4a" stroke-width="1.2"/>
<text x="361.4" y="746.5" font-size="14" text-anchor="middle" fill="#2e2e2e">40</text>
<line x1="440.68" y1="724" x2="440.68" y2="730.5" stroke="#4a4a4a" stroke-width="1.2"/>
<text x="438.2" y="746.5" font-size="14" text-anchor="middle" fill="#2e2e2e">45</text>
<line x1="519.6" y1="724" x2="519.6" y2="730.5" stroke="#4a4a4a" stroke-width="1.2"/>
<text x="519.4" y="746.5" font-size="14" text-anchor="middle" fill="#2e2e2e">50</text>
<line x1="598.52" y1="724" x2="598.52" y2="730.5" stroke="#4a4a4a" stroke-width="1.2"/>
<text x="598.7" y="746.5" font-size="14" text-anchor="middle" fill="#2e2e2e">55</text>
<text x="675.7" y="746.5" font-size="14" text-anchor="middle" fill="#2e2e2e">60</text>
<text x="374.6" y="763.3" font-size="14.3" text-anchor="middle" fill="#2e2e2e">Frequency (MHz)</text>
<text transform="translate(10.9,664.8) rotate(-90)" font-size="14" text-anchor="middle" fill="#2e2e2e">Intensity (a.u.)</text>
<clipPath id="ce"><rect x="46.0" y="610.5" width="630.8" height="113.5"/></clipPath>
<g clip-path="url(#ce)">
<line x1="46.3" y1="689" x2="46.3" y2="684.5" stroke="#3b8bd0" stroke-width="1.5"/>
<line x1="58.4" y1="689.3" x2="58.4" y2="682.3" stroke="#3b8bd0" stroke-width="1.5"/>
<line x1="71.2" y1="689.5" x2="71.2" y2="681.1" stroke="#3b8bd0" stroke-width="1.5"/>
<line x1="83.6" y1="689.7" x2="83.6" y2="680.6" stroke="#3b8bd0" stroke-width="1.5"/>
<line x1="96.2" y1="689.9" x2="96.2" y2="679.5" stroke="#3b8bd0" stroke-width="1.5"/>
<line x1="109.1" y1="690.2" x2="109.1" y2="678.3" stroke="#3b8bd0" stroke-width="1.5"/>
<line x1="121.7" y1="690.5" x2="121.7" y2="677.1" stroke="#3b8bd0" stroke-width="1.5"/>
<line x1="134.3" y1="690.8" x2="134.3" y2="674.6" stroke="#3b8bd0" stroke-width="1.5"/>
<line x1="146.7" y1="691" x2="146.7" y2="673.6" stroke="#3b8bd0" stroke-width="1.5"/>
<line x1="159.7" y1="691.2" x2="159.7" y2="671.5" stroke="#3b8bd0" stroke-width="1.5"/>
<line x1="172.3" y1="691.7" x2="172.3" y2="669.6" stroke="#3b8bd0" stroke-width="1.5"/>
<line x1="184.7" y1="692" x2="184.7" y2="667.8" stroke="#3b8bd0" stroke-width="1.5"/>
<line x1="197.3" y1="692.5" x2="197.3" y2="663.8" stroke="#3b8bd0" stroke-width="1.5"/>
<line x1="209.9" y1="693" x2="209.9" y2="662.5" stroke="#3b8bd0" stroke-width="1.5"/>
<line x1="222.8" y1="693.8" x2="222.8" y2="657.3" stroke="#3b8bd0" stroke-width="1.5"/>
<line x1="235.4" y1="694.1" x2="235.4" y2="656" stroke="#3b8bd0" stroke-width="1.5"/>
<line x1="247.7" y1="695.9" x2="247.7" y2="648.3" stroke="#3b8bd0" stroke-width="1.5"/>
<line x1="260.4" y1="696" x2="260.4" y2="648.1" stroke="#3b8bd0" stroke-width="1.5"/>
<line x1="273" y1="697.2" x2="273" y2="640.7" stroke="#3b8bd0" stroke-width="1.5"/>
<line x1="285.8" y1="697.7" x2="285.8" y2="640.2" stroke="#3b8bd0" stroke-width="1.5"/>
<line x1="298.4" y1="699.3" x2="298.4" y2="632" stroke="#3b8bd0" stroke-width="1.5"/>
<line x1="311" y1="699.6" x2="311" y2="631.8" stroke="#3b8bd0" stroke-width="1.5"/>
<line x1="323.5" y1="701.8" x2="323.5" y2="622.2" stroke="#3b8bd0" stroke-width="1.5"/>
<line x1="336.4" y1="701.8" x2="336.4" y2="621" stroke="#3b8bd0" stroke-width="1.5"/>
<line x1="348.6" y1="703.8" x2="348.6" y2="613.9" stroke="#3b8bd0" stroke-width="1.5"/>
<line x1="361.3" y1="704" x2="361.3" y2="612" stroke="#3b8bd0" stroke-width="1.5"/>
<line x1="374.2" y1="702.6" x2="374.2" y2="614.3" stroke="#3b8bd0" stroke-width="1.5"/>
<line x1="386.9" y1="701.2" x2="386.9" y2="627" stroke="#3b8bd0" stroke-width="1.5"/>
<line x1="399.5" y1="699.7" x2="399.5" y2="633.7" stroke="#3b8bd0" stroke-width="1.5"/>
<line x1="412" y1="697.7" x2="412" y2="641.9" stroke="#3b8bd0" stroke-width="1.5"/>
<line x1="424.7" y1="696.5" x2="424.7" y2="647.6" stroke="#3b8bd0" stroke-width="1.5"/>
<line x1="437" y1="695.3" x2="437" y2="652" stroke="#3b8bd0" stroke-width="1.5"/>
<line x1="449.7" y1="694.6" x2="449.7" y2="654.9" stroke="#3b8bd0" stroke-width="1.5"/>
<line x1="462.4" y1="693.6" x2="462.4" y2="657.5" stroke="#3b8bd0" stroke-width="1.5"/>
<line x1="475" y1="692.5" x2="475" y2="663.1" stroke="#3b8bd0" stroke-width="1.5"/>
<line x1="487.7" y1="691.5" x2="487.7" y2="665.3" stroke="#3b8bd0" stroke-width="1.5"/>
<line x1="500" y1="690.3" x2="500" y2="667.9" stroke="#3b8bd0" stroke-width="1.5"/>
<line x1="512.7" y1="690" x2="512.7" y2="670.5" stroke="#3b8bd0" stroke-width="1.5"/>
<line x1="525.3" y1="689.7" x2="525.3" y2="672.8" stroke="#3b8bd0" stroke-width="1.5"/>
<line x1="538" y1="689.4" x2="538" y2="675.4" stroke="#3b8bd0" stroke-width="1.5"/>
<line x1="550.6" y1="689.2" x2="550.6" y2="676.5" stroke="#3b8bd0" stroke-width="1.5"/>
<line x1="563.3" y1="689" x2="563.3" y2="678" stroke="#3b8bd0" stroke-width="1.5"/>
<line x1="575.9" y1="688.9" x2="575.9" y2="679.1" stroke="#3b8bd0" stroke-width="1.5"/>
<line x1="588.6" y1="688.8" x2="588.6" y2="680.2" stroke="#3b8bd0" stroke-width="1.5"/>
<line x1="601.3" y1="688.7" x2="601.3" y2="680.9" stroke="#3b8bd0" stroke-width="1.5"/>
<line x1="613.9" y1="688.6" x2="613.9" y2="682.1" stroke="#3b8bd0" stroke-width="1.5"/>
<line x1="626.6" y1="688.5" x2="626.6" y2="682.5" stroke="#3b8bd0" stroke-width="1.5"/>
<line x1="639.2" y1="688.5" x2="639.2" y2="683.6" stroke="#3b8bd0" stroke-width="1.5"/>
<line x1="651.9" y1="688.4" x2="651.9" y2="684" stroke="#3b8bd0" stroke-width="1.5"/>
<line x1="664.5" y1="688.4" x2="664.5" y2="684.3" stroke="#3b8bd0" stroke-width="1.5"/>
<line x1="676.8" y1="688.3" x2="676.8" y2="684.6" stroke="#3b8bd0" stroke-width="1.5"/>
<line x1="213.13" y1="687.36" x2="213.13" y2="686.97" stroke="#e8713d" stroke-width="1.3"/>
<line x1="216.29" y1="687.38" x2="216.29" y2="686.9" stroke="#e8713d" stroke-width="1.3"/>
<line x1="219.44" y1="687.39" x2="219.44" y2="686.84" stroke="#e8713d" stroke-width="1.3"/>
<line x1="222.59" y1="687.4" x2="222.59" y2="686.77" stroke="#e8713d" stroke-width="1.3"/>
<line x1="225.74" y1="687.41" x2="225.74" y2="686.71" stroke="#e8713d" stroke-width="1.3"/>
<line x1="228.9" y1="687.42" x2="228.9" y2="686.64" stroke="#e8713d" stroke-width="1.3"/>
<line x1="232.05" y1="687.44" x2="232.05" y2="686.58" stroke="#e8713d" stroke-width="1.3"/>
<line x1="235.2" y1="687.45" x2="235.2" y2="686.51" stroke="#e8713d" stroke-width="1.3"/>
<line x1="238.35" y1="687.47" x2="238.35" y2="686.39" stroke="#e8713d" stroke-width="1.3"/>
<line x1="241.51" y1="687.5" x2="241.51" y2="686.25" stroke="#e8713d" stroke-width="1.3"/>
<line x1="244.66" y1="687.53" x2="244.66" y2="686.1" stroke="#e8713d" stroke-width="1.3"/>
<line x1="247.81" y1="687.56" x2="247.81" y2="685.95" stroke="#e8713d" stroke-width="1.3"/>
<line x1="250.96" y1="687.59" x2="250.96" y2="685.8" stroke="#e8713d" stroke-width="1.3"/>
<line x1="254.12" y1="687.61" x2="254.12" y2="685.65" stroke="#e8713d" stroke-width="1.3"/>
<line x1="257.27" y1="687.64" x2="257.27" y2="685.5" stroke="#e8713d" stroke-width="1.3"/>
<line x1="260.42" y1="687.67" x2="260.42" y2="685.35" stroke="#e8713d" stroke-width="1.3"/>
<line x1="263.57" y1="687.71" x2="263.57" y2="685.13" stroke="#e8713d" stroke-width="1.3"/>
<line x1="266.73" y1="687.76" x2="266.73" y2="684.88" stroke="#e8713d" stroke-width="1.3"/>
<line x1="269.88" y1="687.81" x2="269.88" y2="684.63" stroke="#e8713d" stroke-width="1.3"/>
<line x1="273.03" y1="687.85" x2="273.03" y2="684.38" stroke="#e8713d" stroke-width="1.3"/>
<line x1="276.18" y1="687.9" x2="276.18" y2="684.13" stroke="#e8713d" stroke-width="1.3"/>
<line x1="279.34" y1="687.95" x2="279.34" y2="683.88" stroke="#e8713d" stroke-width="1.3"/>
<line x1="282.49" y1="688" x2="282.49" y2="683.63" stroke="#e8713d" stroke-width="1.3"/>
<line x1="285.64" y1="688.31" x2="285.64" y2="681.96" stroke="#e8713d" stroke-width="1.3"/>
<line x1="288.79" y1="688.37" x2="288.79" y2="681.64" stroke="#e8713d" stroke-width="1.3"/>
<line x1="291.95" y1="688.56" x2="291.95" y2="680.69" stroke="#e8713d" stroke-width="1.3"/>
<line x1="295.1" y1="688.69" x2="295.1" y2="679.96" stroke="#e8713d" stroke-width="1.3"/>
<line x1="298.25" y1="688.79" x2="298.25" y2="679.45" stroke="#e8713d" stroke-width="1.3"/>
<line x1="301.4" y1="689.11" x2="301.4" y2="677.79" stroke="#e8713d" stroke-width="1.3"/>
<line x1="304.56" y1="689.3" x2="304.56" y2="676.79" stroke="#e8713d" stroke-width="1.3"/>
<line x1="307.71" y1="689.53" x2="307.71" y2="675.56" stroke="#e8713d" stroke-width="1.3"/>
<line x1="310.86" y1="689.77" x2="310.86" y2="674.29" stroke="#e8713d" stroke-width="1.3"/>
<line x1="314.01" y1="690.24" x2="314.01" y2="671.84" stroke="#e8713d" stroke-width="1.3"/>
<line x1="317.17" y1="690.43" x2="317.17" y2="670.82" stroke="#e8713d" stroke-width="1.3"/>
<line x1="320.32" y1="690.92" x2="320.32" y2="668.23" stroke="#e8713d" stroke-width="1.3"/>
<line x1="323.47" y1="691.21" x2="323.47" y2="666.71" stroke="#e8713d" stroke-width="1.3"/>
<line x1="326.62" y1="691.9" x2="326.62" y2="663.1" stroke="#e8713d" stroke-width="1.3"/>
<line x1="329.78" y1="692.01" x2="329.78" y2="662.5" stroke="#e8713d" stroke-width="1.3"/>
<line x1="332.93" y1="693.17" x2="332.93" y2="656.38" stroke="#e8713d" stroke-width="1.3"/>
<line x1="336.08" y1="693.27" x2="336.08" y2="655.88" stroke="#e8713d" stroke-width="1.3"/>
<line x1="339.23" y1="694.43" x2="339.23" y2="649.75" stroke="#e8713d" stroke-width="1.3"/>
<line x1="342.38" y1="694.64" x2="342.38" y2="648.67" stroke="#e8713d" stroke-width="1.3"/>
<line x1="345.54" y1="695.89" x2="345.54" y2="642.08" stroke="#e8713d" stroke-width="1.3"/>
<line x1="348.69" y1="696.39" x2="348.69" y2="639.47" stroke="#e8713d" stroke-width="1.3"/>
<line x1="351.84" y1="699.05" x2="351.84" y2="625.45" stroke="#e8713d" stroke-width="1.3"/>
<line x1="355" y1="699.41" x2="355" y2="623.57" stroke="#e8713d" stroke-width="1.3"/>
<line x1="358.15" y1="701.98" x2="358.15" y2="610.03" stroke="#e8713d" stroke-width="1.3"/>
<line x1="361.3" y1="702.76" x2="361.3" y2="598.98" stroke="#e8713d" stroke-width="1.3"/>
<line x1="364.45" y1="701.28" x2="364.45" y2="613.71" stroke="#e8713d" stroke-width="1.3"/>
<line x1="367.61" y1="699.04" x2="367.61" y2="625.49" stroke="#e8713d" stroke-width="1.3"/>
<line x1="370.76" y1="697.46" x2="370.76" y2="633.83" stroke="#e8713d" stroke-width="1.3"/>
<line x1="373.91" y1="696.31" x2="373.91" y2="639.88" stroke="#e8713d" stroke-width="1.3"/>
<line x1="377.06" y1="694.8" x2="377.06" y2="647.84" stroke="#e8713d" stroke-width="1.3"/>
<line x1="380.22" y1="693.92" x2="380.22" y2="652.45" stroke="#e8713d" stroke-width="1.3"/>
<line x1="383.37" y1="693.68" x2="383.37" y2="653.7" stroke="#e8713d" stroke-width="1.3"/>
<line x1="386.52" y1="692.96" x2="386.52" y2="657.49" stroke="#e8713d" stroke-width="1.3"/>
<line x1="389.67" y1="692.2" x2="389.67" y2="661.49" stroke="#e8713d" stroke-width="1.3"/>
<line x1="392.82" y1="691.53" x2="392.82" y2="665.03" stroke="#e8713d" stroke-width="1.3"/>
<line x1="395.98" y1="691.22" x2="395.98" y2="666.68" stroke="#e8713d" stroke-width="1.3"/>
<line x1="399.13" y1="690.66" x2="399.13" y2="669.62" stroke="#e8713d" stroke-width="1.3"/>
<line x1="402.28" y1="690.26" x2="402.28" y2="671.7" stroke="#e8713d" stroke-width="1.3"/>
<line x1="405.44" y1="689.84" x2="405.44" y2="673.93" stroke="#e8713d" stroke-width="1.3"/>
<line x1="408.59" y1="689.61" x2="408.59" y2="675.15" stroke="#e8713d" stroke-width="1.3"/>
<line x1="411.74" y1="689.21" x2="411.74" y2="677.25" stroke="#e8713d" stroke-width="1.3"/>
<line x1="414.89" y1="689.09" x2="414.89" y2="677.86" stroke="#e8713d" stroke-width="1.3"/>
<line x1="418.05" y1="688.85" x2="418.05" y2="679.14" stroke="#e8713d" stroke-width="1.3"/>
<line x1="421.2" y1="688.7" x2="421.2" y2="679.92" stroke="#e8713d" stroke-width="1.3"/>
<line x1="424.35" y1="688.54" x2="424.35" y2="680.78" stroke="#e8713d" stroke-width="1.3"/>
<line x1="427.5" y1="688.33" x2="427.5" y2="681.89" stroke="#e8713d" stroke-width="1.3"/>
<line x1="430.65" y1="688.25" x2="430.65" y2="682.29" stroke="#e8713d" stroke-width="1.3"/>
<line x1="433.81" y1="688.14" x2="433.81" y2="682.87" stroke="#e8713d" stroke-width="1.3"/>
<line x1="436.96" y1="688.04" x2="436.96" y2="683.39" stroke="#e8713d" stroke-width="1.3"/>
<line x1="440.11" y1="687.95" x2="440.11" y2="683.9" stroke="#e8713d" stroke-width="1.3"/>
<line x1="443.26" y1="687.9" x2="443.26" y2="684.12" stroke="#e8713d" stroke-width="1.3"/>
<line x1="446.42" y1="687.86" x2="446.42" y2="684.33" stroke="#e8713d" stroke-width="1.3"/>
<line x1="449.57" y1="687.83" x2="449.57" y2="684.54" stroke="#e8713d" stroke-width="1.3"/>
<line x1="452.72" y1="687.79" x2="452.72" y2="684.74" stroke="#e8713d" stroke-width="1.3"/>
<line x1="455.88" y1="687.75" x2="455.88" y2="684.95" stroke="#e8713d" stroke-width="1.3"/>
<line x1="459.03" y1="687.71" x2="459.03" y2="685.16" stroke="#e8713d" stroke-width="1.3"/>
<line x1="462.18" y1="687.67" x2="462.18" y2="685.35" stroke="#e8713d" stroke-width="1.3"/>
<line x1="465.33" y1="687.64" x2="465.33" y2="685.5" stroke="#e8713d" stroke-width="1.3"/>
<line x1="468.49" y1="687.61" x2="468.49" y2="685.65" stroke="#e8713d" stroke-width="1.3"/>
<line x1="471.64" y1="687.59" x2="471.64" y2="685.8" stroke="#e8713d" stroke-width="1.3"/>
<line x1="474.79" y1="687.56" x2="474.79" y2="685.95" stroke="#e8713d" stroke-width="1.3"/>
<line x1="477.94" y1="687.53" x2="477.94" y2="686.1" stroke="#e8713d" stroke-width="1.3"/>
<line x1="481.1" y1="687.5" x2="481.1" y2="686.25" stroke="#e8713d" stroke-width="1.3"/>
<line x1="484.25" y1="687.47" x2="484.25" y2="686.39" stroke="#e8713d" stroke-width="1.3"/>
<line x1="487.4" y1="687.45" x2="487.4" y2="686.51" stroke="#e8713d" stroke-width="1.3"/>
<line x1="490.55" y1="687.44" x2="490.55" y2="686.58" stroke="#e8713d" stroke-width="1.3"/>
<line x1="493.71" y1="687.42" x2="493.71" y2="686.64" stroke="#e8713d" stroke-width="1.3"/>
<line x1="496.86" y1="687.41" x2="496.86" y2="686.71" stroke="#e8713d" stroke-width="1.3"/>
<line x1="500.01" y1="687.4" x2="500.01" y2="686.77" stroke="#e8713d" stroke-width="1.3"/>
<line x1="503.16" y1="687.39" x2="503.16" y2="686.84" stroke="#e8713d" stroke-width="1.3"/>
<line x1="506.31" y1="687.38" x2="506.31" y2="686.9" stroke="#e8713d" stroke-width="1.3"/>
<line x1="509.47" y1="687.36" x2="509.47" y2="686.97" stroke="#e8713d" stroke-width="1.3"/>
<line x1="295.1" y1="687.58" x2="295.1" y2="686.85" stroke="#86cc7f" stroke-width="1.25"/>
<line x1="296.67" y1="687.61" x2="296.67" y2="686.79" stroke="#86cc7f" stroke-width="1.25"/>
<line x1="298.25" y1="687.64" x2="298.25" y2="686.72" stroke="#86cc7f" stroke-width="1.25"/>
<line x1="299.83" y1="687.68" x2="299.83" y2="686.63" stroke="#86cc7f" stroke-width="1.25"/>
<line x1="301.4" y1="687.71" x2="301.4" y2="686.54" stroke="#86cc7f" stroke-width="1.25"/>
<line x1="302.98" y1="687.75" x2="302.98" y2="686.43" stroke="#86cc7f" stroke-width="1.25"/>
<line x1="304.56" y1="687.8" x2="304.56" y2="686.31" stroke="#86cc7f" stroke-width="1.25"/>
<line x1="306.13" y1="687.84" x2="306.13" y2="686.17" stroke="#86cc7f" stroke-width="1.25"/>
<line x1="307.71" y1="687.9" x2="307.71" y2="686.02" stroke="#86cc7f" stroke-width="1.25"/>
<line x1="309.28" y1="687.96" x2="309.28" y2="685.84" stroke="#86cc7f" stroke-width="1.25"/>
<line x1="310.86" y1="688.02" x2="310.86" y2="685.64" stroke="#86cc7f" stroke-width="1.25"/>
<line x1="312.44" y1="688.09" x2="312.44" y2="685.41" stroke="#86cc7f" stroke-width="1.25"/>
<line x1="314.01" y1="688.17" x2="314.01" y2="685.16" stroke="#86cc7f" stroke-width="1.25"/>
<line x1="315.59" y1="688.25" x2="315.59" y2="684.87" stroke="#86cc7f" stroke-width="1.25"/>
<line x1="317.17" y1="688.34" x2="317.17" y2="684.54" stroke="#86cc7f" stroke-width="1.25"/>
<line x1="318.74" y1="688.44" x2="318.74" y2="684.17" stroke="#86cc7f" stroke-width="1.25"/>
<line x1="320.32" y1="688.56" x2="320.32" y2="683.76" stroke="#86cc7f" stroke-width="1.25"/>
<line x1="321.89" y1="688.68" x2="321.89" y2="683.29" stroke="#86cc7f" stroke-width="1.25"/>
<line x1="323.47" y1="688.81" x2="323.47" y2="682.76" stroke="#86cc7f" stroke-width="1.25"/>
<line x1="325.05" y1="688.96" x2="325.05" y2="682.16" stroke="#86cc7f" stroke-width="1.25"/>
<line x1="326.62" y1="689.12" x2="326.62" y2="681.5" stroke="#86cc7f" stroke-width="1.25"/>
<line x1="328.2" y1="689.3" x2="328.2" y2="680.74" stroke="#86cc7f" stroke-width="1.25"/>
<line x1="329.78" y1="689.49" x2="329.78" y2="679.9" stroke="#86cc7f" stroke-width="1.25"/>
<line x1="331.35" y1="689.7" x2="331.35" y2="678.95" stroke="#86cc7f" stroke-width="1.25"/>
<line x1="332.93" y1="689.94" x2="332.93" y2="677.88" stroke="#86cc7f" stroke-width="1.25"/>
<line x1="334.5" y1="690.19" x2="334.5" y2="676.69" stroke="#86cc7f" stroke-width="1.25"/>
<line x1="336.08" y1="690.47" x2="336.08" y2="675.35" stroke="#86cc7f" stroke-width="1.25"/>
<line x1="337.66" y1="690.78" x2="337.66" y2="673.85" stroke="#86cc7f" stroke-width="1.25"/>
<line x1="339.23" y1="691.12" x2="339.23" y2="672.17" stroke="#86cc7f" stroke-width="1.25"/>
<line x1="340.81" y1="691.49" x2="340.81" y2="670.29" stroke="#86cc7f" stroke-width="1.25"/>
<line x1="342.38" y1="691.9" x2="342.38" y2="668.19" stroke="#86cc7f" stroke-width="1.25"/>
<line x1="343.96" y1="692.34" x2="343.96" y2="665.85" stroke="#86cc7f" stroke-width="1.25"/>
<line x1="345.54" y1="692.83" x2="345.54" y2="663.23" stroke="#86cc7f" stroke-width="1.25"/>
<line x1="347.11" y1="693.37" x2="347.11" y2="660.31" stroke="#86cc7f" stroke-width="1.25"/>
<line x1="348.69" y1="693.96" x2="348.69" y2="657.05" stroke="#86cc7f" stroke-width="1.25"/>
<line x1="350.27" y1="694.61" x2="350.27" y2="653.43" stroke="#86cc7f" stroke-width="1.25"/>
<line x1="351.84" y1="695.32" x2="351.84" y2="649.38" stroke="#86cc7f" stroke-width="1.25"/>
<line x1="353.42" y1="696.1" x2="353.42" y2="644.89" stroke="#86cc7f" stroke-width="1.25"/>
<line x1="355" y1="696.95" x2="355" y2="639.89" stroke="#86cc7f" stroke-width="1.25"/>
<line x1="356.57" y1="697.89" x2="356.57" y2="634.33" stroke="#86cc7f" stroke-width="1.25"/>
<line x1="358.15" y1="698.92" x2="358.15" y2="628.15" stroke="#86cc7f" stroke-width="1.25"/>
<line x1="359.72" y1="700.05" x2="359.72" y2="621.3" stroke="#86cc7f" stroke-width="1.25"/>
<line x1="361.3" y1="701.28" x2="361.3" y2="613.7" stroke="#86cc7f" stroke-width="1.25"/>
<line x1="362.88" y1="700.05" x2="362.88" y2="621.3" stroke="#86cc7f" stroke-width="1.25"/>
<line x1="364.45" y1="698.92" x2="364.45" y2="628.15" stroke="#86cc7f" stroke-width="1.25"/>
<line x1="366.03" y1="697.89" x2="366.03" y2="634.33" stroke="#86cc7f" stroke-width="1.25"/>
<line x1="367.61" y1="696.95" x2="367.61" y2="639.89" stroke="#86cc7f" stroke-width="1.25"/>
<line x1="369.18" y1="696.1" x2="369.18" y2="644.89" stroke="#86cc7f" stroke-width="1.25"/>
<line x1="370.76" y1="695.32" x2="370.76" y2="649.38" stroke="#86cc7f" stroke-width="1.25"/>
<line x1="372.33" y1="694.61" x2="372.33" y2="653.43" stroke="#86cc7f" stroke-width="1.25"/>
<line x1="373.91" y1="693.96" x2="373.91" y2="657.05" stroke="#86cc7f" stroke-width="1.25"/>
<line x1="375.49" y1="693.37" x2="375.49" y2="660.31" stroke="#86cc7f" stroke-width="1.25"/>
<line x1="377.06" y1="692.83" x2="377.06" y2="663.23" stroke="#86cc7f" stroke-width="1.25"/>
<line x1="378.64" y1="692.34" x2="378.64" y2="665.85" stroke="#86cc7f" stroke-width="1.25"/>
<line x1="380.22" y1="691.9" x2="380.22" y2="668.19" stroke="#86cc7f" stroke-width="1.25"/>
<line x1="381.79" y1="691.49" x2="381.79" y2="670.29" stroke="#86cc7f" stroke-width="1.25"/>
<line x1="383.37" y1="691.12" x2="383.37" y2="672.17" stroke="#86cc7f" stroke-width="1.25"/>
<line x1="384.94" y1="690.78" x2="384.94" y2="673.85" stroke="#86cc7f" stroke-width="1.25"/>
<line x1="386.52" y1="690.47" x2="386.52" y2="675.35" stroke="#86cc7f" stroke-width="1.25"/>
<line x1="388.1" y1="690.19" x2="388.1" y2="676.69" stroke="#86cc7f" stroke-width="1.25"/>
<line x1="389.67" y1="689.94" x2="389.67" y2="677.88" stroke="#86cc7f" stroke-width="1.25"/>
<line x1="391.25" y1="689.7" x2="391.25" y2="678.95" stroke="#86cc7f" stroke-width="1.25"/>
<line x1="392.82" y1="689.49" x2="392.82" y2="679.9" stroke="#86cc7f" stroke-width="1.25"/>
<line x1="394.4" y1="689.3" x2="394.4" y2="680.74" stroke="#86cc7f" stroke-width="1.25"/>
<line x1="395.98" y1="689.12" x2="395.98" y2="681.5" stroke="#86cc7f" stroke-width="1.25"/>
<line x1="397.55" y1="688.96" x2="397.55" y2="682.16" stroke="#86cc7f" stroke-width="1.25"/>
<line x1="399.13" y1="688.81" x2="399.13" y2="682.76" stroke="#86cc7f" stroke-width="1.25"/>
<line x1="400.71" y1="688.68" x2="400.71" y2="683.29" stroke="#86cc7f" stroke-width="1.25"/>
<line x1="402.28" y1="688.56" x2="402.28" y2="683.76" stroke="#86cc7f" stroke-width="1.25"/>
<line x1="403.86" y1="688.44" x2="403.86" y2="684.17" stroke="#86cc7f" stroke-width="1.25"/>
<line x1="405.44" y1="688.34" x2="405.44" y2="684.54" stroke="#86cc7f" stroke-width="1.25"/>
<line x1="407.01" y1="688.25" x2="407.01" y2="684.87" stroke="#86cc7f" stroke-width="1.25"/>
<line x1="408.59" y1="688.17" x2="408.59" y2="685.16" stroke="#86cc7f" stroke-width="1.25"/>
<line x1="410.16" y1="688.09" x2="410.16" y2="685.41" stroke="#86cc7f" stroke-width="1.25"/>
<line x1="411.74" y1="688.02" x2="411.74" y2="685.64" stroke="#86cc7f" stroke-width="1.25"/>
<line x1="413.32" y1="687.96" x2="413.32" y2="685.84" stroke="#86cc7f" stroke-width="1.25"/>
<line x1="414.89" y1="687.9" x2="414.89" y2="686.02" stroke="#86cc7f" stroke-width="1.25"/>
<line x1="416.47" y1="687.84" x2="416.47" y2="686.17" stroke="#86cc7f" stroke-width="1.25"/>
<line x1="418.05" y1="687.8" x2="418.05" y2="686.31" stroke="#86cc7f" stroke-width="1.25"/>
<line x1="419.62" y1="687.75" x2="419.62" y2="686.43" stroke="#86cc7f" stroke-width="1.25"/>
<line x1="421.2" y1="687.71" x2="421.2" y2="686.54" stroke="#86cc7f" stroke-width="1.25"/>
<line x1="422.77" y1="687.68" x2="422.77" y2="686.63" stroke="#86cc7f" stroke-width="1.25"/>
<line x1="424.35" y1="687.64" x2="424.35" y2="686.72" stroke="#86cc7f" stroke-width="1.25"/>
<line x1="425.93" y1="687.61" x2="425.93" y2="686.79" stroke="#86cc7f" stroke-width="1.25"/>
<line x1="427.5" y1="687.58" x2="427.5" y2="686.85" stroke="#86cc7f" stroke-width="1.25"/>
</g>
<line x1="46" y1="687.3" x2="676.8" y2="687.3" stroke="#8a3ea4" stroke-width="1.35"/>
<line x1="361.3" y1="613.9" x2="361.3" y2="706.7" stroke="#8a3ea4" stroke-width="1.5"/>
<line x1="362.3" y1="618.2" x2="478" y2="618.2" stroke="#1a1a1a" stroke-width="1.0"/>
<path d="M476,614.8 L486,618 L476,621.2 Z" fill="#1a1a1a"/>
<text x="83.4" y="622.8" font-size="12.5" fill="#2e2e2e">f</text>
<text x="86.4" y="627.9" font-size="8.3" fill="#2e2e2e">RF2</text>
<text x="101.5" y="622.8" font-size="12.5" fill="#2e2e2e">-f</text>
<text x="109.6" y="627.9" font-size="8.3" fill="#2e2e2e">RF1</text>
<line x1="82.9" y1="629.7" x2="122.6" y2="629.7" stroke="#555" stroke-width="1.1"/>
<line x1="56" y1="637.4" x2="80.6" y2="637.4" stroke="#3b8bd0" stroke-width="1.1"/>
<text x="83.3" y="640.9" font-size="12.3" fill="#2e2e2e">0.8 MHz</text>
<line x1="56" y1="646.95" x2="80.6" y2="646.95" stroke="#e8713d" stroke-width="1.1"/>
<text x="83.3" y="650.45" font-size="12.3" fill="#2e2e2e">0.2 MHz</text>
<line x1="56" y1="656.5" x2="80.6" y2="656.5" stroke="#8fd08a" stroke-width="1.1"/>
<text x="83.3" y="660" font-size="12.3" fill="#2e2e2e">0.1 MHz</text>
<line x1="56" y1="666.05" x2="80.6" y2="666.05" stroke="#7b2d8e" stroke-width="1.1"/>
<text x="83.3" y="669.55" font-size="12.3" fill="#2e2e2e">0.001 MHz</text>
<rect x="503.5" y="612.6" width="173.1" height="45.2" fill="#fff"/>
<line x1="503.5" y1="643.4" x2="676.6" y2="643.4" stroke="#cf9fdc" stroke-width="1.2"/>
<clipPath id="ci"><rect x="503.5" y="613.8000000000001" width="173.1" height="44"/></clipPath><g clip-path="url(#ci)">
<polygon points="504.5,643.4 505,643.4 505.5,643.4 506,643.4 506.5,643.4 507,643.4 507.5,643.4 508,643.4 508.5,643.4 509,643.4 509.5,643.4 510,643.4 510.5,643.4 511,643.4 511.5,643.4 512,643.4 512.5,643.4 513,643.4 513.5,643.4 514,643.4 514.5,643.4 515,643.4 515.5,643.4 516,643.4 516.5,643.4 517,643.4 517.5,643.4 518,643.4 518.5,643.4 519,643.4 519.5,643.4 520,643.4 520.5,643.4 521,643.4 521.5,643.4 522,643.4 522.5,643.4 523,643.4 523.5,643.4 524,643.4 524.5,643.4 525,643.4 525.5,643.4 526,643.4 526.5,643.4 527,643.4 527.5,643.4 528,643.4 528.5,643.4 529,643.4 529.5,643.4 530,643.4 530.5,643.4 531,643.4 531.5,643.4 532,643.4 532.5,643.4 533,643.4 533.5,643.4 534,643.4 534.5,643.4 535,643.4 535.5,643.4 536,643.4 536.5,643.4 537,643.4 537.5,643.4 538,643.4 538.5,643.4 539,643.4 539.5,643.4 540,643.39 540.5,643.39 541,643.39 541.5,643.39 542,643.39 542.5,643.39 543,643.39 543.5,643.39 544,643.39 544.5,643.39 545,643.39 545.5,643.38 546,643.38 546.5,643.38 547,643.38 547.5,643.38 548,643.37 548.5,643.37 549,643.37 549.5,643.37 550,643.36 550.5,643.36 551,643.35 551.5,643.35 552,643.34 552.5,643.34 553,643.33 553.5,643.32 554,643.32 554.5,643.31 555,643.3 555.5,643.29 556,643.28 556.5,643.27 557,643.25 557.5,643.24 558,643.22 558.5,643.2 559,643.19 559.5,643.17 560,643.14 560.5,643.12 561,643.09 561.5,643.06 562,643.03 562.5,642.99 563,642.96 563.5,642.92 564,642.87 564.5,642.82 565,642.77 565.5,642.71 566,642.65 566.5,642.58 567,642.5 567.5,642.42 568,642.33 568.5,642.24 569,642.13 569.5,642.02 570,641.9 570.5,641.77 571,641.63 571.5,641.47 572,641.3 572.5,641.12 573,640.92 573.5,640.71 574,640.48 574.5,640.23 575,639.96 575.5,639.68 576,639.36 576.5,639.02 577,638.66 577.5,638.27 578,637.84 578.5,637.39 579,636.9 579.5,636.37 580,635.8 580.5,635.19 581,634.53 581.5,633.82 582,633.06 582.5,632.24 583,631.36 583.5,630.42 584,629.4 584.5,628.32 585,627.15 585.5,625.9 586,624.57 586.5,623.13 587,621.6 587.5,619.95 588,618.19 588.5,616.31 589,614.3 589.5,613.42 590,613.41 590.5,613.4 591,613.41 591.5,613.42 592,614.3 592.5,616.31 593,618.19 593.5,619.95 594,621.6 594.5,623.13 595,624.57 595.5,625.9 596,627.15 596.5,628.32 597,629.4 597.5,630.42 598,631.36 598.5,632.24 599,633.06 599.5,633.82 600,634.53 600.5,635.19 601,635.8 601.5,636.37 602,636.9 602.5,637.39 603,637.84 603.5,638.27 604,638.66 604.5,639.02 605,639.36 605.5,639.68 606,639.96 606.5,640.23 607,640.48 607.5,640.71 608,640.92 608.5,641.12 609,641.3 609.5,641.47 610,641.63 610.5,641.77 611,641.9 611.5,642.02 612,642.13 612.5,642.24 613,642.33 613.5,642.42 614,642.5 614.5,642.58 615,642.65 615.5,642.71 616,642.77 616.5,642.82 617,642.87 617.5,642.92 618,642.96 618.5,642.99 619,643.03 619.5,643.06 620,643.09 620.5,643.12 621,643.14 621.5,643.17 622,643.19 622.5,643.2 623,643.22 623.5,643.24 624,643.25 624.5,643.27 625,643.28 625.5,643.29 626,643.3 626.5,643.31 627,643.32 627.5,643.32 628,643.33 628.5,643.34 629,643.34 629.5,643.35 630,643.35 630.5,643.36 631,643.36 631.5,643.37 632,643.37 632.5,643.37 633,643.37 633.5,643.38 634,643.38 634.5,643.38 635,643.38 635.5,643.38 636,643.39 636.5,643.39 637,643.39 637.5,643.39 638,643.39 638.5,643.39 639,643.39 639.5,643.39 640,643.39 640.5,643.39 641,643.39 641.5,643.4 642,643.4 642.5,643.4 643,643.4 643.5,643.4 644,643.4 644.5,643.4 645,643.4 645.5,643.4 646,643.4 646.5,643.4 647,643.4 647.5,643.4 648,643.4 648.5,643.4 649,643.4 649.5,643.4 650,643.4 650.5,643.4 651,643.4 651.5,643.4 652,643.4 652.5,643.4 653,643.4 653.5,643.4 654,643.4 654.5,643.4 655,643.4 655.5,643.4 656,643.4 656.5,643.4 657,643.4 657.5,643.4 658,643.4 658.5,643.4 659,643.4 659.5,643.4 660,643.4 660.5,643.4 661,643.4 661.5,643.4 662,643.4 662.5,643.4 663,643.4 663.5,643.4 664,643.4 664.5,643.4 665,643.4 665.5,643.4 666,643.4 666.5,643.4 667,643.4 667.5,643.4 668,643.4 668.5,643.4 669,643.4 669.5,643.4 670,643.4 670.5,643.4 671,643.4 671.5,643.4 672,643.4 672.5,643.4 673,643.4 673.5,643.4 674,643.4 674.5,643.4 675,643.4 675.5,643.4 675.5,643.4 675,643.4 674.5,643.4 674,643.4 673.5,643.4 673,643.4 672.5,643.4 672,643.4 671.5,643.4 671,643.4 670.5,643.4 670,643.4 669.5,643.4 669,643.4 668.5,643.4 668,643.4 667.5,643.4 667,643.4 666.5,643.4 666,643.4 665.5,643.4 665,643.4 664.5,643.4 664,643.4 663.5,643.4 663,643.4 662.5,643.4 662,643.4 661.5,643.4 661,643.4 660.5,643.4 660,643.4 659.5,643.4 659,643.4 658.5,643.4 658,643.4 657.5,643.4 657,643.4 656.5,643.41 656,643.41 655.5,643.41 655,643.41 654.5,643.41 654,643.41 653.5,643.41 653,643.41 652.5,643.41 652,643.41 651.5,643.41 651,643.41 650.5,643.41 650,643.41 649.5,643.41 649,643.41 648.5,643.42 648,643.42 647.5,643.42 647,643.42 646.5,643.42 646,643.42 645.5,643.42 645,643.42 644.5,643.43 644,643.43 643.5,643.43 643,643.43 642.5,643.43 642,643.44 641.5,643.44 641,643.44 640.5,643.44 640,643.45 639.5,643.45 639,643.45 638.5,643.46 638,643.46 637.5,643.46 637,643.47 636.5,643.47 636,643.48 635.5,643.48 635,643.49 634.5,643.49 634,643.5 633.5,643.5 633,643.51 632.5,643.52 632,643.52 631.5,643.53 631,643.54 630.5,643.55 630,643.56 629.5,643.57 629,643.58 628.5,643.59 628,643.6 627.5,643.61 627,643.62 626.5,643.63 626,643.65 625.5,643.66 625,643.68 624.5,643.69 624,643.71 623.5,643.73 623,643.75 622.5,643.77 622,643.79 621.5,643.81 621,643.83 620.5,643.85 620,643.88 619.5,643.9 619,643.93 618.5,643.96 618,643.99 617.5,644.02 617,644.05 616.5,644.09 616,644.12 615.5,644.16 615,644.2 614.5,644.24 614,644.29 613.5,644.33 613,644.38 612.5,644.43 612,644.48 611.5,644.54 611,644.59 610.5,644.65 610,644.71 609.5,644.78 609,644.84 608.5,644.92 608,644.99 607.5,645.06 607,645.14 606.5,645.23 606,645.31 605.5,645.4 605,645.5 604.5,645.6 604,645.7 603.5,645.8 603,645.91 602.5,646.03 602,646.15 601.5,646.27 601,646.4 600.5,646.53 600,646.67 599.5,646.81 599,646.96 598.5,647.12 598,647.28 597.5,647.44 597,647.62 596.5,647.8 596,647.98 595.5,648.17 595,648.37 594.5,648.58 594,648.79 593.5,649.01 593,649.24 592.5,649.48 592,649.72 591.5,649.97 591,650.23 590.5,650.5 590,650.23 589.5,649.97 589,649.72 588.5,649.48 588,649.24 587.5,649.01 587,648.79 586.5,648.58 586,648.37 585.5,648.17 585,647.98 584.5,647.8 584,647.62 583.5,647.44 583,647.28 582.5,647.12 582,646.96 581.5,646.81 581,646.67 580.5,646.53 580,646.4 579.5,646.27 579,646.15 578.5,646.03 578,645.91 577.5,645.8 577,645.7 576.5,645.6 576,645.5 575.5,645.4 575,645.31 574.5,645.23 574,645.14 573.5,645.06 573,644.99 572.5,644.92 572,644.84 571.5,644.78 571,644.71 570.5,644.65 570,644.59 569.5,644.54 569,644.48 568.5,644.43 568,644.38 567.5,644.33 567,644.29 566.5,644.24 566,644.2 565.5,644.16 565,644.12 564.5,644.09 564,644.05 563.5,644.02 563,643.99 562.5,643.96 562,643.93 561.5,643.9 561,643.88 560.5,643.85 560,643.83 559.5,643.81 559,643.79 558.5,643.77 558,643.75 557.5,643.73 557,643.71 556.5,643.69 556,643.68 555.5,643.66 555,643.65 554.5,643.63 554,643.62 553.5,643.61 553,643.6 552.5,643.59 552,643.58 551.5,643.57 551,643.56 550.5,643.55 550,643.54 549.5,643.53 549,643.52 548.5,643.52 548,643.51 547.5,643.5 547,643.5 546.5,643.49 546,643.49 545.5,643.48 545,643.48 544.5,643.47 544,643.47 543.5,643.46 543,643.46 542.5,643.46 542,643.45 541.5,643.45 541,643.45 540.5,643.44 540,643.44 539.5,643.44 539,643.44 538.5,643.43 538,643.43 537.5,643.43 537,643.43 536.5,643.43 536,643.42 535.5,643.42 535,643.42 534.5,643.42 534,643.42 533.5,643.42 533,643.42 532.5,643.42 532,643.41 531.5,643.41 531,643.41 530.5,643.41 530,643.41 529.5,643.41 529,643.41 528.5,643.41 528,643.41 527.5,643.41 527,643.41 526.5,643.41 526,643.41 525.5,643.41 525,643.41 524.5,643.41 524,643.4 523.5,643.4 523,643.4 522.5,643.4 522,643.4 521.5,643.4 521,643.4 520.5,643.4 520,643.4 519.5,643.4 519,643.4 518.5,643.4 518,643.4 517.5,643.4 517,643.4 516.5,643.4 516,643.4 515.5,643.4 515,643.4 514.5,643.4 514,643.4 513.5,643.4 513,643.4 512.5,643.4 512,643.4 511.5,643.4 511,643.4 510.5,643.4 510,643.4 509.5,643.4 509,643.4 508.5,643.4 508,643.4 507.5,643.4 507,643.4 506.5,643.4 506,643.4 505.5,643.4 505,643.4 504.5,643.4" fill="#a965bd"/>
<polygon points="504.5,643.4 505,643.4 505.5,643.4 506,643.4 506.5,643.4 507,643.4 507.5,643.4 508,643.4 508.5,643.4 509,643.4 509.5,643.4 510,643.4 510.5,643.4 511,643.4 511.5,643.4 512,643.4 512.5,643.4 513,643.4 513.5,643.4 514,643.4 514.5,643.4 515,643.4 515.5,643.4 516,643.4 516.5,643.4 517,643.4 517.5,643.4 518,643.4 518.5,643.4 519,643.4 519.5,643.4 520,643.4 520.5,643.4 521,643.4 521.5,643.4 522,643.4 522.5,643.4 523,643.4 523.5,643.4 524,643.4 524.5,643.4 525,643.4 525.5,643.4 526,643.4 526.5,643.4 527,643.4 527.5,643.4 528,643.4 528.5,643.4 529,643.4 529.5,643.4 530,643.4 530.5,643.4 531,643.4 531.5,643.4 532,643.4 532.5,643.4 533,643.4 533.5,643.4 534,643.4 534.5,643.4 535,643.4 535.5,643.4 536,643.4 536.5,643.4 537,643.4 537.5,643.4 538,643.4 538.5,643.4 539,643.4 539.5,643.4 540,643.4 540.5,643.4 541,643.4 541.5,643.4 542,643.4 542.5,643.4 543,643.39 543.5,643.39 544,643.39 544.5,643.39 545,643.39 545.5,643.39 546,643.39 546.5,643.39 547,643.39 547.5,643.39 548,643.39 548.5,643.38 549,643.38 549.5,643.38 550,643.38 550.5,643.38 551,643.37 551.5,643.37 552,643.37 552.5,643.37 553,643.36 553.5,643.36 554,643.35 554.5,643.35 555,643.34 555.5,643.34 556,643.33 556.5,643.33 557,643.32 557.5,643.31 558,643.3 558.5,643.29 559,643.28 559.5,643.27 560,643.26 560.5,643.24 561,643.23 561.5,643.21 562,643.2 562.5,643.18 563,643.16 563.5,643.13 564,643.11 564.5,643.08 565,643.05 565.5,643.02 566,642.99 566.5,642.95 567,642.91 567.5,642.86 568,642.81 568.5,642.76 569,642.7 569.5,642.64 570,642.58 570.5,642.5 571,642.42 571.5,642.34 572,642.25 572.5,642.15 573,642.04 573.5,641.92 574,641.79 574.5,641.66 575,641.51 575.5,641.35 576,641.18 576.5,640.99 577,640.79 577.5,640.58 578,640.34 578.5,640.09 579,639.82 579.5,639.53 580,639.22 580.5,638.88 581,638.52 581.5,638.13 582,637.71 582.5,637.26 583,636.78 583.5,636.26 584,635.7 584.5,635.1 585,634.46 585.5,633.78 586,633.04 586.5,632.25 587,631.41 587.5,630.5 588,629.54 588.5,628.5 589,627.4 589.5,626.91 590,626.9 590.5,626.9 591,626.9 591.5,626.91 592,627.4 592.5,628.5 593,629.54 593.5,630.5 594,631.41 594.5,632.25 595,633.04 595.5,633.78 596,634.46 596.5,635.1 597,635.7 597.5,636.26 598,636.78 598.5,637.26 599,637.71 599.5,638.13 600,638.52 600.5,638.88 601,639.22 601.5,639.53 602,639.82 602.5,640.09 603,640.34 603.5,640.58 604,640.79 604.5,640.99 605,641.18 605.5,641.35 606,641.51 606.5,641.66 607,641.79 607.5,641.92 608,642.04 608.5,642.15 609,642.25 609.5,642.34 610,642.42 610.5,642.5 611,642.58 611.5,642.64 612,642.7 612.5,642.76 613,642.81 613.5,642.86 614,642.91 614.5,642.95 615,642.99 615.5,643.02 616,643.05 616.5,643.08 617,643.11 617.5,643.13 618,643.16 618.5,643.18 619,643.2 619.5,643.21 620,643.23 620.5,643.24 621,643.26 621.5,643.27 622,643.28 622.5,643.29 623,643.3 623.5,643.31 624,643.32 624.5,643.33 625,643.33 625.5,643.34 626,643.34 626.5,643.35 627,643.35 627.5,643.36 628,643.36 628.5,643.37 629,643.37 629.5,643.37 630,643.37 630.5,643.38 631,643.38 631.5,643.38 632,643.38 632.5,643.38 633,643.39 633.5,643.39 634,643.39 634.5,643.39 635,643.39 635.5,643.39 636,643.39 636.5,643.39 637,643.39 637.5,643.39 638,643.39 638.5,643.4 639,643.4 639.5,643.4 640,643.4 640.5,643.4 641,643.4 641.5,643.4 642,643.4 642.5,643.4 643,643.4 643.5,643.4 644,643.4 644.5,643.4 645,643.4 645.5,643.4 646,643.4 646.5,643.4 647,643.4 647.5,643.4 648,643.4 648.5,643.4 649,643.4 649.5,643.4 650,643.4 650.5,643.4 651,643.4 651.5,643.4 652,643.4 652.5,643.4 653,643.4 653.5,643.4 654,643.4 654.5,643.4 655,643.4 655.5,643.4 656,643.4 656.5,643.4 657,643.4 657.5,643.4 658,643.4 658.5,643.4 659,643.4 659.5,643.4 660,643.4 660.5,643.4 661,643.4 661.5,643.4 662,643.4 662.5,643.4 663,643.4 663.5,643.4 664,643.4 664.5,643.4 665,643.4 665.5,643.4 666,643.4 666.5,643.4 667,643.4 667.5,643.4 668,643.4 668.5,643.4 669,643.4 669.5,643.4 670,643.4 670.5,643.4 671,643.4 671.5,643.4 672,643.4 672.5,643.4 673,643.4 673.5,643.4 674,643.4 674.5,643.4 675,643.4 675.5,643.4 675.5,643.4 675,643.4 674.5,643.4 674,643.4 673.5,643.4 673,643.4 672.5,643.4 672,643.4 671.5,643.4 671,643.4 670.5,643.4 670,643.4 669.5,643.4 669,643.4 668.5,643.4 668,643.4 667.5,643.4 667,643.4 666.5,643.4 666,643.4 665.5,643.4 665,643.4 664.5,643.4 664,643.4 663.5,643.4 663,643.4 662.5,643.4 662,643.4 661.5,643.4 661,643.4 660.5,643.4 660,643.4 659.5,643.4 659,643.4 658.5,643.4 658,643.4 657.5,643.4 657,643.4 656.5,643.41 656,643.41 655.5,643.41 655,643.41 654.5,643.41 654,643.41 653.5,643.41 653,643.41 652.5,643.41 652,643.41 651.5,643.41 651,643.41 650.5,643.41 650,643.41 649.5,643.41 649,643.41 648.5,643.42 648,643.42 647.5,643.42 647,643.42 646.5,643.42 646,643.42 645.5,643.42 645,643.42 644.5,643.43 644,643.43 643.5,643.43 643,643.43 642.5,643.43 642,643.44 641.5,643.44 641,643.44 640.5,643.44 640,643.45 639.5,643.45 639,643.45 638.5,643.46 638,643.46 637.5,643.46 637,643.47 636.5,643.47 636,643.48 635.5,643.48 635,643.49 634.5,643.49 634,643.5 633.5,643.5 633,643.51 632.5,643.52 632,643.52 631.5,643.53 631,643.54 630.5,643.55 630,643.56 629.5,643.57 629,643.58 628.5,643.59 628,643.6 627.5,643.61 627,643.62 626.5,643.63 626,643.65 625.5,643.66 625,643.68 624.5,643.69 624,643.71 623.5,643.73 623,643.75 622.5,643.77 622,643.79 621.5,643.81 621,643.83 620.5,643.85 620,643.88 619.5,643.9 619,643.93 618.5,643.96 618,643.99 617.5,644.02 617,644.05 616.5,644.09 616,644.12 615.5,644.16 615,644.2 614.5,644.24 614,644.29 613.5,644.33 613,644.38 612.5,644.43 612,644.48 611.5,644.54 611,644.59 610.5,644.65 610,644.71 609.5,644.78 609,644.84 608.5,644.92 608,644.99 607.5,645.06 607,645.14 606.5,645.23 606,645.31 605.5,645.4 605,645.5 604.5,645.6 604,645.7 603.5,645.8 603,645.91 602.5,646.03 602,646.15 601.5,646.27 601,646.4 600.5,646.53 600,646.67 599.5,646.81 599,646.96 598.5,647.12 598,647.28 597.5,647.44 597,647.62 596.5,647.8 596,647.98 595.5,648.17 595,648.37 594.5,648.58 594,648.79 593.5,649.01 593,649.24 592.5,649.48 592,649.72 591.5,649.97 591,650.23 590.5,650.5 590,650.23 589.5,649.97 589,649.72 588.5,649.48 588,649.24 587.5,649.01 587,648.79 586.5,648.58 586,648.37 585.5,648.17 585,647.98 584.5,647.8 584,647.62 583.5,647.44 583,647.28 582.5,647.12 582,646.96 581.5,646.81 581,646.67 580.5,646.53 580,646.4 579.5,646.27 579,646.15 578.5,646.03 578,645.91 577.5,645.8 577,645.7 576.5,645.6 576,645.5 575.5,645.4 575,645.31 574.5,645.23 574,645.14 573.5,645.06 573,644.99 572.5,644.92 572,644.84 571.5,644.78 571,644.71 570.5,644.65 570,644.59 569.5,644.54 569,644.48 568.5,644.43 568,644.38 567.5,644.33 567,644.29 566.5,644.24 566,644.2 565.5,644.16 565,644.12 564.5,644.09 564,644.05 563.5,644.02 563,643.99 562.5,643.96 562,643.93 561.5,643.9 561,643.88 560.5,643.85 560,643.83 559.5,643.81 559,643.79 558.5,643.77 558,643.75 557.5,643.73 557,643.71 556.5,643.69 556,643.68 555.5,643.66 555,643.65 554.5,643.63 554,643.62 553.5,643.61 553,643.6 552.5,643.59 552,643.58 551.5,643.57 551,643.56 550.5,643.55 550,643.54 549.5,643.53 549,643.52 548.5,643.52 548,643.51 547.5,643.5 547,643.5 546.5,643.49 546,643.49 545.5,643.48 545,643.48 544.5,643.47 544,643.47 543.5,643.46 543,643.46 542.5,643.46 542,643.45 541.5,643.45 541,643.45 540.5,643.44 540,643.44 539.5,643.44 539,643.44 538.5,643.43 538,643.43 537.5,643.43 537,643.43 536.5,643.43 536,643.42 535.5,643.42 535,643.42 534.5,643.42 534,643.42 533.5,643.42 533,643.42 532.5,643.42 532,643.41 531.5,643.41 531,643.41 530.5,643.41 530,643.41 529.5,643.41 529,643.41 528.5,643.41 528,643.41 527.5,643.41 527,643.41 526.5,643.41 526,643.41 525.5,643.41 525,643.41 524.5,643.41 524,643.4 523.5,643.4 523,643.4 522.5,643.4 522,643.4 521.5,643.4 521,643.4 520.5,643.4 520,643.4 519.5,643.4 519,643.4 518.5,643.4 518,643.4 517.5,643.4 517,643.4 516.5,643.4 516,643.4 515.5,643.4 515,643.4 514.5,643.4 514,643.4 513.5,643.4 513,643.4 512.5,643.4 512,643.4 511.5,643.4 511,643.4 510.5,643.4 510,643.4 509.5,643.4 509,643.4 508.5,643.4 508,643.4 507.5,643.4 507,643.4 506.5,643.4 506,643.4 505.5,643.4 505,643.4 504.5,643.4" fill="#8e40a4"/>
<polygon points="504.5,643.4 505,643.4 505.5,643.4 506,643.4 506.5,643.4 507,643.4 507.5,643.4 508,643.4 508.5,643.4 509,643.39 509.5,643.39 510,643.39 510.5,643.39 511,643.39 511.5,643.39 512,643.39 512.5,643.39 513,643.39 513.5,643.39 514,643.39 514.5,643.39 515,643.39 515.5,643.39 516,643.39 516.5,643.39 517,643.39 517.5,643.39 518,643.39 518.5,643.39 519,643.39 519.5,643.39 520,643.39 520.5,643.39 521,643.39 521.5,643.39 522,643.39 522.5,643.38 523,643.38 523.5,643.38 524,643.38 524.5,643.38 525,643.38 525.5,643.38 526,643.38 526.5,643.38 527,643.38 527.5,643.38 528,643.38 528.5,643.37 529,643.37 529.5,643.37 530,643.37 530.5,643.37 531,643.37 531.5,643.37 532,643.37 532.5,643.36 533,643.36 533.5,643.36 534,643.36 534.5,643.36 535,643.36 535.5,643.35 536,643.35 536.5,643.35 537,643.35 537.5,643.35 538,643.34 538.5,643.34 539,643.34 539.5,643.34 540,643.33 540.5,643.33 541,643.33 541.5,643.32 542,643.32 542.5,643.32 543,643.31 543.5,643.31 544,643.31 544.5,643.3 545,643.3 545.5,643.29 546,643.29 546.5,643.28 547,643.28 547.5,643.27 548,643.27 548.5,643.26 549,643.26 549.5,643.25 550,643.25 550.5,643.24 551,643.23 551.5,643.23 552,643.22 552.5,643.21 553,643.2 553.5,643.19 554,643.19 554.5,643.18 555,643.17 555.5,643.16 556,643.15 556.5,643.14 557,643.12 557.5,643.11 558,643.1 558.5,643.09 559,643.07 559.5,643.06 560,643.05 560.5,643.03 561,643.01 561.5,643 562,642.98 562.5,642.96 563,642.95 563.5,642.93 564,642.91 564.5,642.88 565,642.86 565.5,642.84 566,642.82 566.5,642.79 567,642.77 567.5,642.74 568,642.71 568.5,642.68 569,642.65 569.5,642.62 570,642.58 570.5,642.55 571,642.51 571.5,642.48 572,642.44 572.5,642.4 573,642.35 573.5,642.31 574,642.26 574.5,642.21 575,642.16 575.5,642.11 576,642.06 576.5,642 577,641.94 577.5,641.88 578,641.81 578.5,641.74 579,641.67 579.5,641.6 580,641.52 580.5,641.44 581,641.36 581.5,641.27 582,641.18 582.5,641.09 583,640.99 583.5,640.89 584,640.78 584.5,640.67 585,640.55 585.5,640.43 586,640.31 586.5,640.18 587,640.04 587.5,639.9 588,639.75 588.5,639.59 589,639.43 589.5,639.26 590,639.08 590.5,638.9 591,639.08 591.5,639.26 592,639.43 592.5,639.59 593,639.75 593.5,639.9 594,640.04 594.5,640.18 595,640.31 595.5,640.43 596,640.55 596.5,640.67 597,640.78 597.5,640.89 598,640.99 598.5,641.09 599,641.18 599.5,641.27 600,641.36 600.5,641.44 601,641.52 601.5,641.6 602,641.67 602.5,641.74 603,641.81 603.5,641.88 604,641.94 604.5,642 605,642.06 605.5,642.11 606,642.16 606.5,642.21 607,642.26 607.5,642.31 608,642.35 608.5,642.4 609,642.44 609.5,642.48 610,642.51 610.5,642.55 611,642.58 611.5,642.62 612,642.65 612.5,642.68 613,642.71 613.5,642.74 614,642.77 614.5,642.79 615,642.82 615.5,642.84 616,642.86 616.5,642.88 617,642.91 617.5,642.93 618,642.95 618.5,642.96 619,642.98 619.5,643 620,643.01 620.5,643.03 621,643.05 621.5,643.06 622,643.07 622.5,643.09 623,643.1 623.5,643.11 624,643.12 624.5,643.14 625,643.15 625.5,643.16 626,643.17 626.5,643.18 627,643.19 627.5,643.19 628,643.2 628.5,643.21 629,643.22 629.5,643.23 630,643.23 630.5,643.24 631,643.25 631.5,643.25 632,643.26 632.5,643.26 633,643.27 633.5,643.27 634,643.28 634.5,643.28 635,643.29 635.5,643.29 636,643.3 636.5,643.3 637,643.31 637.5,643.31 638,643.31 638.5,643.32 639,643.32 639.5,643.32 640,643.33 640.5,643.33 641,643.33 641.5,643.34 642,643.34 642.5,643.34 643,643.34 643.5,643.35 644,643.35 644.5,643.35 645,643.35 645.5,643.35 646,643.36 646.5,643.36 647,643.36 647.5,643.36 648,643.36 648.5,643.36 649,643.37 649.5,643.37 650,643.37 650.5,643.37 651,643.37 651.5,643.37 652,643.37 652.5,643.37 653,643.38 653.5,643.38 654,643.38 654.5,643.38 655,643.38 655.5,643.38 656,643.38 656.5,643.38 657,643.38 657.5,643.38 658,643.38 658.5,643.38 659,643.39 659.5,643.39 660,643.39 660.5,643.39 661,643.39 661.5,643.39 662,643.39 662.5,643.39 663,643.39 663.5,643.39 664,643.39 664.5,643.39 665,643.39 665.5,643.39 666,643.39 666.5,643.39 667,643.39 667.5,643.39 668,643.39 668.5,643.39 669,643.39 669.5,643.39 670,643.39 670.5,643.39 671,643.39 671.5,643.39 672,643.39 672.5,643.4 673,643.4 673.5,643.4 674,643.4 674.5,643.4 675,643.4 675.5,643.4 675.5,643.4 675,643.4 674.5,643.4 674,643.4 673.5,643.4 673,643.4 672.5,643.4 672,643.4 671.5,643.4 671,643.4 670.5,643.4 670,643.4 669.5,643.4 669,643.4 668.5,643.4 668,643.4 667.5,643.4 667,643.4 666.5,643.4 666,643.4 665.5,643.4 665,643.4 664.5,643.4 664,643.4 663.5,643.4 663,643.4 662.5,643.4 662,643.4 661.5,643.4 661,643.4 660.5,643.4 660,643.4 659.5,643.4 659,643.4 658.5,643.4 658,643.4 657.5,643.4 657,643.4 656.5,643.41 656,643.41 655.5,643.41 655,643.41 654.5,643.41 654,643.41 653.5,643.41 653,643.41 652.5,643.41 652,643.41 651.5,643.41 651,643.41 650.5,643.41 650,643.41 649.5,643.41 649,643.41 648.5,643.42 648,643.42 647.5,643.42 647,643.42 646.5,643.42 646,643.42 645.5,643.42 645,643.42 644.5,643.43 644,643.43 643.5,643.43 643,643.43 642.5,643.43 642,643.44 641.5,643.44 641,643.44 640.5,643.44 640,643.45 639.5,643.45 639,643.45 638.5,643.46 638,643.46 637.5,643.46 637,643.47 636.5,643.47 636,643.48 635.5,643.48 635,643.49 634.5,643.49 634,643.5 633.5,643.5 633,643.51 632.5,643.52 632,643.52 631.5,643.53 631,643.54 630.5,643.55 630,643.56 629.5,643.57 629,643.58 628.5,643.59 628,643.6 627.5,643.61 627,643.62 626.5,643.63 626,643.65 625.5,643.66 625,643.68 624.5,643.69 624,643.71 623.5,643.73 623,643.75 622.5,643.77 622,643.79 621.5,643.81 621,643.83 620.5,643.85 620,643.88 619.5,643.9 619,643.93 618.5,643.96 618,643.99 617.5,644.02 617,644.05 616.5,644.09 616,644.12 615.5,644.16 615,644.2 614.5,644.24 614,644.29 613.5,644.33 613,644.38 612.5,644.43 612,644.48 611.5,644.54 611,644.59 610.5,644.65 610,644.71 609.5,644.78 609,644.84 608.5,644.92 608,644.99 607.5,645.06 607,645.14 606.5,645.23 606,645.31 605.5,645.4 605,645.5 604.5,645.6 604,645.7 603.5,645.8 603,645.91 602.5,646.03 602,646.15 601.5,646.27 601,646.4 600.5,646.53 600,646.67 599.5,646.81 599,646.96 598.5,647.12 598,647.28 597.5,647.44 597,647.62 596.5,647.8 596,647.98 595.5,648.17 595,648.37 594.5,648.58 594,648.79 593.5,649.01 593,649.24 592.5,649.48 592,649.72 591.5,649.97 591,650.23 590.5,650.5 590,650.23 589.5,649.97 589,649.72 588.5,649.48 588,649.24 587.5,649.01 587,648.79 586.5,648.58 586,648.37 585.5,648.17 585,647.98 584.5,647.8 584,647.62 583.5,647.44 583,647.28 582.5,647.12 582,646.96 581.5,646.81 581,646.67 580.5,646.53 580,646.4 579.5,646.27 579,646.15 578.5,646.03 578,645.91 577.5,645.8 577,645.7 576.5,645.6 576,645.5 575.5,645.4 575,645.31 574.5,645.23 574,645.14 573.5,645.06 573,644.99 572.5,644.92 572,644.84 571.5,644.78 571,644.71 570.5,644.65 570,644.59 569.5,644.54 569,644.48 568.5,644.43 568,644.38 567.5,644.33 567,644.29 566.5,644.24 566,644.2 565.5,644.16 565,644.12 564.5,644.09 564,644.05 563.5,644.02 563,643.99 562.5,643.96 562,643.93 561.5,643.9 561,643.88 560.5,643.85 560,643.83 559.5,643.81 559,643.79 558.5,643.77 558,643.75 557.5,643.73 557,643.71 556.5,643.69 556,643.68 555.5,643.66 555,643.65 554.5,643.63 554,643.62 553.5,643.61 553,643.6 552.5,643.59 552,643.58 551.5,643.57 551,643.56 550.5,643.55 550,643.54 549.5,643.53 549,643.52 548.5,643.52 548,643.51 547.5,643.5 547,643.5 546.5,643.49 546,643.49 545.5,643.48 545,643.48 544.5,643.47 544,643.47 543.5,643.46 543,643.46 542.5,643.46 542,643.45 541.5,643.45 541,643.45 540.5,643.44 540,643.44 539.5,643.44 539,643.44 538.5,643.43 538,643.43 537.5,643.43 537,643.43 536.5,643.43 536,643.42 535.5,643.42 535,643.42 534.5,643.42 534,643.42 533.5,643.42 533,643.42 532.5,643.42 532,643.41 531.5,643.41 531,643.41 530.5,643.41 530,643.41 529.5,643.41 529,643.41 528.5,643.41 528,643.41 527.5,643.41 527,643.41 526.5,643.41 526,643.41 525.5,643.41 525,643.41 524.5,643.41 524,643.4 523.5,643.4 523,643.4 522.5,643.4 522,643.4 521.5,643.4 521,643.4 520.5,643.4 520,643.4 519.5,643.4 519,643.4 518.5,643.4 518,643.4 517.5,643.4 517,643.4 516.5,643.4 516,643.4 515.5,643.4 515,643.4 514.5,643.4 514,643.4 513.5,643.4 513,643.4 512.5,643.4 512,643.4 511.5,643.4 511,643.4 510.5,643.4 510,643.4 509.5,643.4 509,643.4 508.5,643.4 508,643.4 507.5,643.4 507,643.4 506.5,643.4 506,643.4 505.5,643.4 505,643.4 504.5,643.4" fill="#77268b"/>
<line x1="568.1" y1="642.18" x2="568.1" y2="644.32" stroke="#8a3a9e" stroke-width="0.45" opacity="0.55"/>
<line x1="568.8" y1="641.96" x2="568.8" y2="644.5" stroke="#8a3a9e" stroke-width="0.45" opacity="0.55"/>
<line x1="569.5" y1="642.08" x2="569.5" y2="644.78" stroke="#8a3a9e" stroke-width="0.45" opacity="0.55"/>
<line x1="570.2" y1="641.87" x2="570.2" y2="644.63" stroke="#8a3a9e" stroke-width="0.45" opacity="0.55"/>
<line x1="570.9" y1="641.31" x2="570.9" y2="644.57" stroke="#8a3a9e" stroke-width="0.45" opacity="0.55"/>
<line x1="571.6" y1="641.42" x2="571.6" y2="644.7" stroke="#8a3a9e" stroke-width="0.45" opacity="0.55"/>
<line x1="572.3" y1="640.78" x2="572.3" y2="645.36" stroke="#8a3a9e" stroke-width="0.45" opacity="0.55"/>
<line x1="573" y1="640.82" x2="573" y2="645.43" stroke="#8a3a9e" stroke-width="0.45" opacity="0.55"/>
<line x1="573.7" y1="640.47" x2="573.7" y2="645.34" stroke="#8a3a9e" stroke-width="0.45" opacity="0.55"/>
<line x1="574.4" y1="640.2" x2="574.4" y2="645.68" stroke="#8a3a9e" stroke-width="0.45" opacity="0.55"/>
<line x1="575.1" y1="640.91" x2="575.1" y2="645.63" stroke="#8a3a9e" stroke-width="0.45" opacity="0.55"/>
<line x1="575.8" y1="640.74" x2="575.8" y2="645.48" stroke="#8a3a9e" stroke-width="0.45" opacity="0.55"/>
<line x1="576.5" y1="640.08" x2="576.5" y2="645.78" stroke="#8a3a9e" stroke-width="0.45" opacity="0.55"/>
<line x1="577.2" y1="638.94" x2="577.2" y2="646.22" stroke="#8a3a9e" stroke-width="0.45" opacity="0.55"/>
<line x1="577.9" y1="637.89" x2="577.9" y2="645.36" stroke="#8a3a9e" stroke-width="0.45" opacity="0.55"/>
<line x1="578.6" y1="639.47" x2="578.6" y2="645.45" stroke="#8a3a9e" stroke-width="0.45" opacity="0.55"/>
<line x1="579.3" y1="637.15" x2="579.3" y2="645.97" stroke="#8a3a9e" stroke-width="0.45" opacity="0.55"/>
<line x1="580" y1="635.46" x2="580" y2="645.92" stroke="#8a3a9e" stroke-width="0.45" opacity="0.55"/>
<line x1="580.7" y1="634.72" x2="580.7" y2="646.88" stroke="#8a3a9e" stroke-width="0.45" opacity="0.55"/>
<line x1="581.4" y1="634.75" x2="581.4" y2="646.83" stroke="#8a3a9e" stroke-width="0.45" opacity="0.55"/>
<line x1="582.1" y1="633.2" x2="582.1" y2="646.4" stroke="#8a3a9e" stroke-width="0.45" opacity="0.55"/>
<line x1="582.8" y1="632.24" x2="582.8" y2="647.71" stroke="#8a3a9e" stroke-width="0.45" opacity="0.55"/>
<line x1="583.5" y1="632.77" x2="583.5" y2="647.53" stroke="#8a3a9e" stroke-width="0.45" opacity="0.55"/>
<line x1="584.2" y1="634.36" x2="584.2" y2="647.43" stroke="#8a3a9e" stroke-width="0.45" opacity="0.55"/>
<line x1="584.9" y1="630.61" x2="584.9" y2="647.29" stroke="#8a3a9e" stroke-width="0.45" opacity="0.55"/>
<line x1="585.6" y1="634.01" x2="585.6" y2="648.89" stroke="#8a3a9e" stroke-width="0.45" opacity="0.55"/>
<line x1="586.3" y1="625.73" x2="586.3" y2="647.84" stroke="#8a3a9e" stroke-width="0.45" opacity="0.55"/>
<line x1="587" y1="626.79" x2="587" y2="648.64" stroke="#8a3a9e" stroke-width="0.45" opacity="0.55"/>
<line x1="587.7" y1="620.11" x2="587.7" y2="648.85" stroke="#8a3a9e" stroke-width="0.45" opacity="0.55"/>
<line x1="588.4" y1="620.71" x2="588.4" y2="649.81" stroke="#8a3a9e" stroke-width="0.45" opacity="0.55"/>
<line x1="589.1" y1="627.2" x2="589.1" y2="649.53" stroke="#8a3a9e" stroke-width="0.45" opacity="0.55"/>
<line x1="589.8" y1="615.01" x2="589.8" y2="650.6" stroke="#8a3a9e" stroke-width="0.45" opacity="0.55"/>
<line x1="590.5" y1="615.12" x2="590.5" y2="648.89" stroke="#8a3a9e" stroke-width="0.45" opacity="0.55"/>
<line x1="591.2" y1="617.2" x2="591.2" y2="648.95" stroke="#8a3a9e" stroke-width="0.45" opacity="0.55"/>
<line x1="591.9" y1="616.2" x2="591.9" y2="650.11" stroke="#8a3a9e" stroke-width="0.45" opacity="0.55"/>
<line x1="592.6" y1="625.19" x2="592.6" y2="649.2" stroke="#8a3a9e" stroke-width="0.45" opacity="0.55"/>
<line x1="593.3" y1="625.8" x2="593.3" y2="649.83" stroke="#8a3a9e" stroke-width="0.45" opacity="0.55"/>
<line x1="594" y1="626.56" x2="594" y2="647.39" stroke="#8a3a9e" stroke-width="0.45" opacity="0.55"/>
<line x1="594.7" y1="628.32" x2="594.7" y2="647.04" stroke="#8a3a9e" stroke-width="0.45" opacity="0.55"/>
<line x1="595.4" y1="633.19" x2="595.4" y2="647.89" stroke="#8a3a9e" stroke-width="0.45" opacity="0.55"/>
<line x1="596.1" y1="631.6" x2="596.1" y2="646.77" stroke="#8a3a9e" stroke-width="0.45" opacity="0.55"/>
<line x1="596.8" y1="633.57" x2="596.8" y2="647.03" stroke="#8a3a9e" stroke-width="0.45" opacity="0.55"/>
<line x1="597.5" y1="634.84" x2="597.5" y2="647.13" stroke="#8a3a9e" stroke-width="0.45" opacity="0.55"/>
<line x1="598.2" y1="637.11" x2="598.2" y2="646.21" stroke="#8a3a9e" stroke-width="0.45" opacity="0.55"/>
<line x1="598.9" y1="636.64" x2="598.9" y2="647.2" stroke="#8a3a9e" stroke-width="0.45" opacity="0.55"/>
<line x1="599.6" y1="633.91" x2="599.6" y2="647.07" stroke="#8a3a9e" stroke-width="0.45" opacity="0.55"/>
<line x1="600.3" y1="638.54" x2="600.3" y2="646.98" stroke="#8a3a9e" stroke-width="0.45" opacity="0.55"/>
<line x1="601" y1="636.07" x2="601" y2="646.82" stroke="#8a3a9e" stroke-width="0.45" opacity="0.55"/>
<line x1="601.7" y1="637.09" x2="601.7" y2="645.85" stroke="#8a3a9e" stroke-width="0.45" opacity="0.55"/>
<line x1="602.4" y1="638.43" x2="602.4" y2="645.95" stroke="#8a3a9e" stroke-width="0.45" opacity="0.55"/>
<line x1="603.1" y1="640.25" x2="603.1" y2="645.94" stroke="#8a3a9e" stroke-width="0.45" opacity="0.55"/>
<line x1="603.8" y1="639.93" x2="603.8" y2="646.28" stroke="#8a3a9e" stroke-width="0.45" opacity="0.55"/>
<line x1="604.5" y1="639.29" x2="604.5" y2="645.97" stroke="#8a3a9e" stroke-width="0.45" opacity="0.55"/>
<line x1="605.2" y1="641.06" x2="605.2" y2="645.74" stroke="#8a3a9e" stroke-width="0.45" opacity="0.55"/>
<line x1="605.9" y1="639.76" x2="605.9" y2="645.37" stroke="#8a3a9e" stroke-width="0.45" opacity="0.55"/>
<line x1="606.6" y1="641.08" x2="606.6" y2="645.29" stroke="#8a3a9e" stroke-width="0.45" opacity="0.55"/>
<line x1="607.3" y1="640.82" x2="607.3" y2="645.15" stroke="#8a3a9e" stroke-width="0.45" opacity="0.55"/>
<line x1="608" y1="641.4" x2="608" y2="645.25" stroke="#8a3a9e" stroke-width="0.45" opacity="0.55"/>
<line x1="608.7" y1="640.83" x2="608.7" y2="644.84" stroke="#8a3a9e" stroke-width="0.45" opacity="0.55"/>
<line x1="609.4" y1="641.08" x2="609.4" y2="644.6" stroke="#8a3a9e" stroke-width="0.45" opacity="0.55"/>
<line x1="610.1" y1="641.51" x2="610.1" y2="644.74" stroke="#8a3a9e" stroke-width="0.45" opacity="0.55"/>
<line x1="610.8" y1="641.85" x2="610.8" y2="644.68" stroke="#8a3a9e" stroke-width="0.45" opacity="0.55"/>
<line x1="611.5" y1="642.39" x2="611.5" y2="644.49" stroke="#8a3a9e" stroke-width="0.45" opacity="0.55"/>
<line x1="612.2" y1="641.75" x2="612.2" y2="644.59" stroke="#8a3a9e" stroke-width="0.45" opacity="0.55"/>
<line x1="612.9" y1="641.93" x2="612.9" y2="644.58" stroke="#8a3a9e" stroke-width="0.45" opacity="0.55"/>
</g>
<line x1="590.5" y1="614.2" x2="590.5" y2="631.7" stroke="#f4eaf6" stroke-width="0.9"/>
<line x1="590.5" y1="645.8" x2="590.5" y2="651" stroke="#f4eaf6" stroke-width="0.9"/>
<rect x="503.5" y="612.6" width="173.1" height="45.2" fill="none" stroke="#6a6a6a" stroke-width="1.1"/>
<line x1="520.5" y1="657.8" x2="520.5" y2="655.3" stroke="#777" stroke-width="1.0"/>
<text x="520.5" y="670.2" font-size="12.2" text-anchor="middle" fill="#2e2e2e">39.94</text>
<line x1="555.1" y1="657.8" x2="555.1" y2="655.3" stroke="#777" stroke-width="1.0"/>
<text x="555.1" y="670.2" font-size="12.2" text-anchor="middle" fill="#2e2e2e">39.96</text>
<line x1="589.7" y1="657.8" x2="589.7" y2="655.3" stroke="#777" stroke-width="1.0"/>
<text x="589.7" y="670.2" font-size="12.2" text-anchor="middle" fill="#2e2e2e">40</text>
<line x1="624.3" y1="657.8" x2="624.3" y2="655.3" stroke="#777" stroke-width="1.0"/>
<text x="624.3" y="670.2" font-size="12.2" text-anchor="middle" fill="#2e2e2e">40.04</text>
<line x1="658.9" y1="657.8" x2="658.9" y2="655.3" stroke="#777" stroke-width="1.0"/>
<text x="658.9" y="670.2" font-size="12.2" text-anchor="middle" fill="#2e2e2e">40.06</text>
<line x1="503.5" y1="629.4" x2="505.5" y2="629.4" stroke="#999" stroke-width="1.0"/>
<rect x="46.0" y="610.5" width="630.8" height="113.5" fill="none" stroke="#4a4a4a" stroke-width="1.2"/>
</svg>
</body></html>
